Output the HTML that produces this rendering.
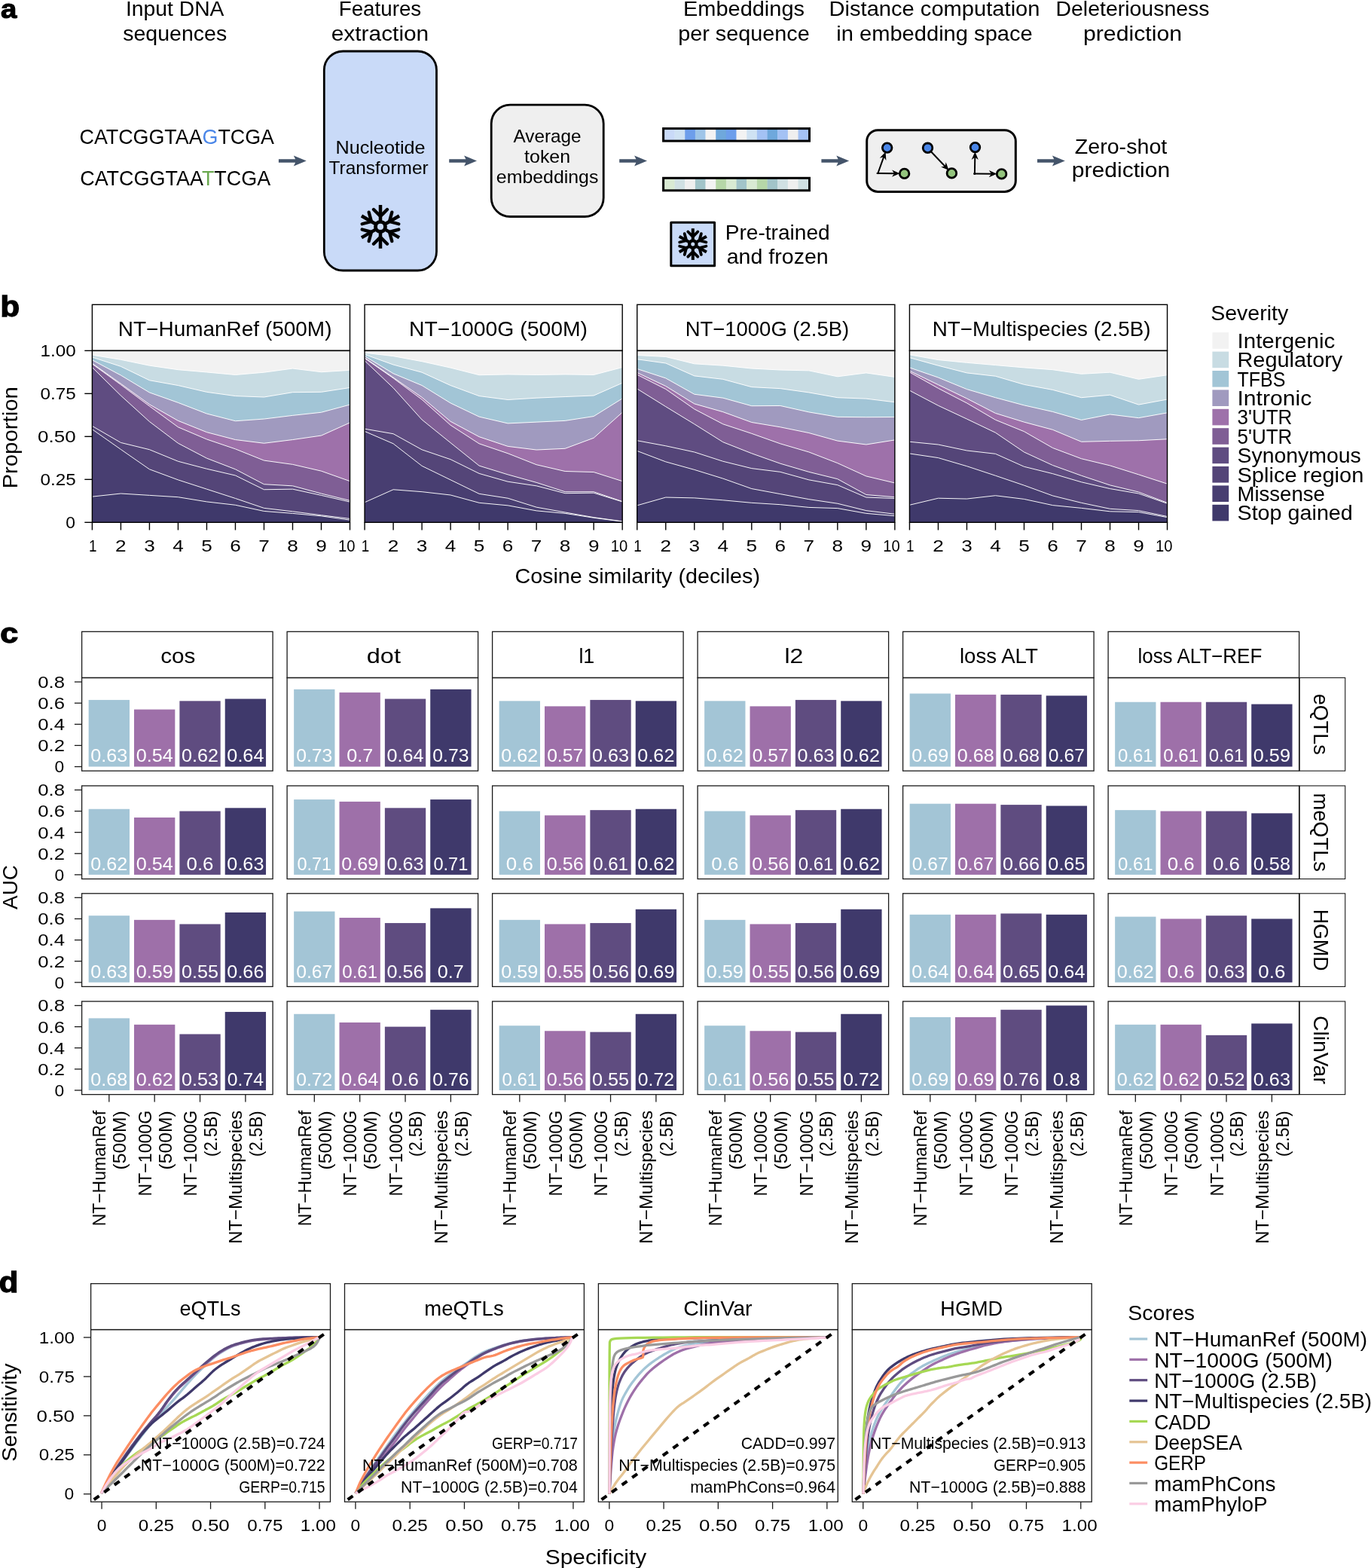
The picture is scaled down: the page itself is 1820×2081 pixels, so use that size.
<!DOCTYPE html>
<html lang="en">
<head>
<meta charset="utf-8">
<title>Figure</title>
<style>
html,body{margin:0;padding:0;background:#fff;}
body{width:1820px;height:2081px;overflow:hidden;}
svg{display:block;font-family:"Liberation Sans",sans-serif;}
text{white-space:pre;}
</style>
</head>
<body>
<svg width="1820" height="2081" viewBox="0 0 1820 2081">
<rect width="1820" height="2081" fill="#fff"/>
<g id="panel-a">
<text x="1.07" y="23.9" font-size="35" textLength="21.28" lengthAdjust="spacingAndGlyphs" font-weight="bold" stroke="#000" stroke-width="1.1" stroke-linejoin="miter">a</text>
<text x="232.2" y="21.4" font-size="27.3" text-anchor="middle" textLength="130.52" lengthAdjust="spacingAndGlyphs">Input DNA</text>
<text x="232.2" y="53.6" font-size="27.3" text-anchor="middle" textLength="138.02" lengthAdjust="spacingAndGlyphs">sequences</text>
<text x="504.5" y="21.4" font-size="27.3" text-anchor="middle" textLength="109.52" lengthAdjust="spacingAndGlyphs">Features</text>
<text x="504.5" y="53.6" font-size="27.3" text-anchor="middle" textLength="129.52" lengthAdjust="spacingAndGlyphs">extraction</text>
<text x="987.5" y="21.4" font-size="27.3" text-anchor="middle" textLength="161.02" lengthAdjust="spacingAndGlyphs">Embeddings</text>
<text x="987.5" y="53.6" font-size="27.3" text-anchor="middle" textLength="174.52" lengthAdjust="spacingAndGlyphs">per sequence</text>
<text x="1240.5" y="21.4" font-size="27.3" text-anchor="middle" textLength="280.02" lengthAdjust="spacingAndGlyphs">Distance computation</text>
<text x="1240.5" y="53.6" font-size="27.3" text-anchor="middle" textLength="260.52" lengthAdjust="spacingAndGlyphs">in embedding space</text>
<text x="1503.5" y="21.4" font-size="27.3" text-anchor="middle" textLength="204.02" lengthAdjust="spacingAndGlyphs">Deleteriousness</text>
<text x="1503.5" y="53.6" font-size="27.3" text-anchor="middle" textLength="131.02" lengthAdjust="spacingAndGlyphs">prediction</text>
<text x="105.5" y="191.3" font-size="28.0" textLength="258.5" lengthAdjust="spacingAndGlyphs">CATCGGTAA<tspan fill="#4A86E8">G</tspan>TCGA</text>
<text x="106.2" y="246.2" font-size="28.0" textLength="253" lengthAdjust="spacingAndGlyphs">CATCGGTAA<tspan fill="#6AA84F">T</tspan>TCGA</text>
<path d="M369.9 211.2 L392.1 211.2 L389.8 206.4 L406.7 213.5 L389.8 220.6 L392.1 215.8 L369.9 215.8Z" fill="#44546A"/>
<path d="M596.2 211.2 L618.4 211.2 L616.1 206.4 L633 213.5 L616.1 220.6 L618.4 215.8 L596.2 215.8Z" fill="#44546A"/>
<path d="M822.2 211.2 L844.4 211.2 L842.1 206.4 L859 213.5 L842.1 220.6 L844.4 215.8 L822.2 215.8Z" fill="#44546A"/>
<path d="M1090.4 211.2 L1112.6 211.2 L1110.3 206.4 L1127.2 213.5 L1110.3 220.6 L1112.6 215.8 L1090.4 215.8Z" fill="#44546A"/>
<path d="M1377 211.2 L1399.2 211.2 L1396.9 206.4 L1413.8 213.5 L1396.9 220.6 L1399.2 215.8 L1377 215.8Z" fill="#44546A"/>
<rect x="430.3" y="68" width="149.2" height="291" fill="#C9DAF8" stroke="#000" stroke-width="2.8" rx="25"/>
<text x="505" y="203.9" font-size="23.6" text-anchor="middle" textLength="119.01" lengthAdjust="spacingAndGlyphs">Nucleotide</text>
<text x="502.6" y="231" font-size="23.6" text-anchor="middle" textLength="132.01" lengthAdjust="spacingAndGlyphs">Transformer</text>
<g transform="translate(505 300.9)" stroke="#000" stroke-width="4.5" fill="none" stroke-linecap="butt"><circle r="6.49" stroke-width="4.86"/><g transform="rotate(0)"><path d="M0 -6.39 V-28.9"/><path stroke-width="4.3" stroke-linecap="round" stroke-linejoin="round" d="M-9.02 -22.92 L0 -13.79 L9.02 -22.92"/></g><g transform="rotate(60)"><path d="M0 -6.39 V-28.9"/><path stroke-width="4.3" stroke-linecap="round" stroke-linejoin="round" d="M-9.02 -22.92 L0 -13.79 L9.02 -22.92"/></g><g transform="rotate(120)"><path d="M0 -6.39 V-28.9"/><path stroke-width="4.3" stroke-linecap="round" stroke-linejoin="round" d="M-9.02 -22.92 L0 -13.79 L9.02 -22.92"/></g><g transform="rotate(180)"><path d="M0 -6.39 V-28.9"/><path stroke-width="4.3" stroke-linecap="round" stroke-linejoin="round" d="M-9.02 -22.92 L0 -13.79 L9.02 -22.92"/></g><g transform="rotate(240)"><path d="M0 -6.39 V-28.9"/><path stroke-width="4.3" stroke-linecap="round" stroke-linejoin="round" d="M-9.02 -22.92 L0 -13.79 L9.02 -22.92"/></g><g transform="rotate(300)"><path d="M0 -6.39 V-28.9"/><path stroke-width="4.3" stroke-linecap="round" stroke-linejoin="round" d="M-9.02 -22.92 L0 -13.79 L9.02 -22.92"/></g></g>
<rect x="652.2" y="139.1" width="149" height="148.4" fill="#EFEFEF" stroke="#000" stroke-width="2.8" rx="25"/>
<text x="726.6" y="189.2" font-size="23.6" text-anchor="middle" textLength="90.01" lengthAdjust="spacingAndGlyphs">Average</text>
<text x="726.6" y="216" font-size="23.6" text-anchor="middle" textLength="61.01" lengthAdjust="spacingAndGlyphs">token</text>
<text x="726.6" y="243.3" font-size="23.6" text-anchor="middle" textLength="135.51" lengthAdjust="spacingAndGlyphs">embeddings</text>
<rect x="881.9" y="170.6" width="13.96" height="16.5" fill="#C9DAF8"/>
<rect x="895.56" y="170.6" width="13.96" height="16.5" fill="#CFE2F3"/>
<rect x="909.23" y="170.6" width="13.96" height="16.5" fill="#6D9EEB"/>
<rect x="922.89" y="170.6" width="13.96" height="16.5" fill="#9FC5E8"/>
<rect x="936.56" y="170.6" width="13.96" height="16.5" fill="#F3F3F3"/>
<rect x="950.22" y="170.6" width="13.96" height="16.5" fill="#6FA8DC"/>
<rect x="963.89" y="170.6" width="13.96" height="16.5" fill="#6D9EEB"/>
<rect x="977.55" y="170.6" width="13.96" height="16.5" fill="#F3F3F3"/>
<rect x="991.21" y="170.6" width="13.96" height="16.5" fill="#CFE2F3"/>
<rect x="1004.88" y="170.6" width="13.96" height="16.5" fill="#A4C2F4"/>
<rect x="1018.54" y="170.6" width="13.96" height="16.5" fill="#6FA8DC"/>
<rect x="1032.21" y="170.6" width="13.96" height="16.5" fill="#A4C2F4"/>
<rect x="1045.87" y="170.6" width="13.96" height="16.5" fill="#EFEFEF"/>
<rect x="1059.54" y="170.6" width="13.96" height="16.5" fill="#A4C2F4"/>
<rect x="880.6" y="170.6" width="193.9" height="16.5" fill="none" stroke="#000" stroke-width="3"/>
<rect x="881.9" y="236.3" width="13.96" height="16.5" fill="#D9EAD3"/>
<rect x="895.56" y="236.3" width="13.96" height="16.5" fill="#D0E0E3"/>
<rect x="909.23" y="236.3" width="13.96" height="16.5" fill="#EFEFEF"/>
<rect x="922.89" y="236.3" width="13.96" height="16.5" fill="#A2C4C9"/>
<rect x="936.56" y="236.3" width="13.96" height="16.5" fill="#F3F3F3"/>
<rect x="950.22" y="236.3" width="13.96" height="16.5" fill="#B6D7A8"/>
<rect x="963.89" y="236.3" width="13.96" height="16.5" fill="#D9EAD3"/>
<rect x="977.55" y="236.3" width="13.96" height="16.5" fill="#A2C4C9"/>
<rect x="991.21" y="236.3" width="13.96" height="16.5" fill="#D9EAD3"/>
<rect x="1004.88" y="236.3" width="13.96" height="16.5" fill="#B6D7A8"/>
<rect x="1018.54" y="236.3" width="13.96" height="16.5" fill="#A2C4C9"/>
<rect x="1032.21" y="236.3" width="13.96" height="16.5" fill="#D0E0E3"/>
<rect x="1045.87" y="236.3" width="13.96" height="16.5" fill="#EFEFEF"/>
<rect x="1059.54" y="236.3" width="13.96" height="16.5" fill="#D0E0E3"/>
<rect x="880.6" y="236.3" width="193.9" height="16.5" fill="none" stroke="#000" stroke-width="3"/>
<rect x="890.8" y="295.3" width="57.8" height="57.4" fill="#C9DAF8" stroke="#000" stroke-width="3" stroke-linejoin="round"/>
<g transform="translate(919.8 324.1)" stroke="#000" stroke-width="4" fill="none" stroke-linecap="butt"><circle r="4.69" stroke-width="4.32"/><g transform="rotate(0)"><path d="M0 -4.62 V-20.9"/><path stroke-width="3.8" stroke-linecap="round" stroke-linejoin="round" d="M-6.53 -16.57 L0 -9.97 L6.53 -16.57"/></g><g transform="rotate(60)"><path d="M0 -4.62 V-20.9"/><path stroke-width="3.8" stroke-linecap="round" stroke-linejoin="round" d="M-6.53 -16.57 L0 -9.97 L6.53 -16.57"/></g><g transform="rotate(120)"><path d="M0 -4.62 V-20.9"/><path stroke-width="3.8" stroke-linecap="round" stroke-linejoin="round" d="M-6.53 -16.57 L0 -9.97 L6.53 -16.57"/></g><g transform="rotate(180)"><path d="M0 -4.62 V-20.9"/><path stroke-width="3.8" stroke-linecap="round" stroke-linejoin="round" d="M-6.53 -16.57 L0 -9.97 L6.53 -16.57"/></g><g transform="rotate(240)"><path d="M0 -4.62 V-20.9"/><path stroke-width="3.8" stroke-linecap="round" stroke-linejoin="round" d="M-6.53 -16.57 L0 -9.97 L6.53 -16.57"/></g><g transform="rotate(300)"><path d="M0 -4.62 V-20.9"/><path stroke-width="3.8" stroke-linecap="round" stroke-linejoin="round" d="M-6.53 -16.57 L0 -9.97 L6.53 -16.57"/></g></g>
<text x="1032.2" y="317.8" font-size="27.3" text-anchor="middle" textLength="139.02" lengthAdjust="spacingAndGlyphs">Pre-trained</text>
<text x="1032.2" y="350.4" font-size="27.3" text-anchor="middle" textLength="135.02" lengthAdjust="spacingAndGlyphs">and frozen</text>
<rect x="1150.7" y="172.8" width="197.6" height="81.6" fill="#EFEFEF" stroke="#000" stroke-width="3" rx="14.5"/>
<line x1="1165.4" y1="230" x2="1173.14" y2="208.37" stroke="#000" stroke-width="2" stroke-linecap="square"/><path d="M1176.39 212.94 L1175.6 201.5 L1167.73 209.84 L1173.14 208.37Z" fill="#000"/>
<line x1="1164.7" y1="230" x2="1187.2" y2="230.23" stroke="#000" stroke-width="2" stroke-linecap="square"/><path d="M1183.95 234.79 L1194.5 230.3 L1184.05 225.59 L1187.2 230.23Z" fill="#000"/>
<line x1="1236.2" y1="201.5" x2="1254.56" y2="220.72" stroke="#000" stroke-width="2" stroke-linecap="square"/><path d="M1249.02 221.58 L1259.6 226 L1255.67 215.23 L1254.56 220.72Z" fill="#000"/>
<line x1="1293.9" y1="231" x2="1294.28" y2="208.8" stroke="#000" stroke-width="2" stroke-linecap="square"/><path d="M1298.82 212.08 L1294.4 201.5 L1289.62 211.92 L1294.28 208.8Z" fill="#000"/>
<line x1="1293.2" y1="230.4" x2="1316" y2="230.7" stroke="#000" stroke-width="2" stroke-linecap="square"/><path d="M1312.74 235.26 L1323.3 230.8 L1312.86 226.06 L1316 230.7Z" fill="#000"/>
<circle cx="1177.7" cy="196.1" r="6.3" fill="#4A86E8" stroke="#000" stroke-width="2.8"/>
<circle cx="1200.6" cy="230.4" r="6.3" fill="#93C47D" stroke="#000" stroke-width="2.8"/>
<circle cx="1231.5" cy="196.3" r="6.3" fill="#4A86E8" stroke="#000" stroke-width="2.8"/>
<circle cx="1263.4" cy="229.9" r="6.3" fill="#93C47D" stroke="#000" stroke-width="2.8"/>
<circle cx="1294.5" cy="195.6" r="6.3" fill="#4A86E8" stroke="#000" stroke-width="2.8"/>
<circle cx="1329.6" cy="230.9" r="6.3" fill="#93C47D" stroke="#000" stroke-width="2.8"/>
<text x="1488" y="203.8" font-size="27.3" text-anchor="middle" textLength="122.52" lengthAdjust="spacingAndGlyphs">Zero-shot</text>
<text x="1488" y="235.4" font-size="27.3" text-anchor="middle" textLength="130.52" lengthAdjust="spacingAndGlyphs">prediction</text>
</g>
<g id="panel-b">
<text x="0.6" y="420.2" font-size="38.2" textLength="25.55" lengthAdjust="spacingAndGlyphs" font-weight="bold" stroke="#000" stroke-width="1.3" stroke-linejoin="miter">b</text>
<rect x="122.4" y="465.4" width="342.1" height="227.9" fill="#F2F2F2"/>
<path d="M122.4 471.13 L160.41 477.34 L198.42 485.18 L236.43 490.69 L274.44 493.97 L312.46 497.48 L350.47 494.2 L388.48 489.05 L426.49 493.73 L464.5 491.39 L464.5 693.3 L122.4 693.3Z" fill="#C8DCE3"/>
<path d="M122.4 474.06 L160.41 486.35 L198.42 504.74 L236.43 511.54 L274.44 520.32 L312.46 525.59 L350.47 527 L388.48 520.67 L426.49 520.32 L464.5 514.47 L464.5 693.3 L122.4 693.3Z" fill="#A2C5D6"/>
<path d="M122.4 477.8 L160.41 498.07 L198.42 520.91 L236.43 534.38 L274.44 549.02 L312.46 558.74 L350.47 556.05 L388.48 551.36 L426.49 547.26 L464.5 537.07 L464.5 693.3 L122.4 693.3Z" fill="#A09ABF"/>
<path d="M122.4 482.25 L160.41 509.19 L198.42 536.72 L236.43 558.39 L274.44 573.62 L312.46 583.57 L350.47 588.26 L388.48 583.57 L426.49 578.07 L464.5 560.97 L464.5 693.3 L122.4 693.3Z" fill="#9E71AA"/>
<path d="M122.4 483.07 L160.41 510.6 L198.42 539.06 L236.43 566.82 L274.44 582.99 L312.46 595.87 L350.47 611.1 L388.48 616.37 L426.49 625.15 L464.5 638.62 L464.5 693.3 L122.4 693.3Z" fill="#7F5E95"/>
<path d="M122.4 487.53 L160.41 525.01 L198.42 559.56 L236.43 588.26 L274.44 608.17 L312.46 622.81 L350.47 642.72 L388.48 644.83 L426.49 655.02 L464.5 664.39 L464.5 693.3 L122.4 693.3Z" fill="#5F4C81"/>
<path d="M122.4 565.42 L160.41 587.44 L198.42 596.69 L236.43 612.27 L274.44 622.23 L312.46 631.01 L350.47 649.75 L388.48 649.17 L426.49 657.36 L464.5 666.15 L464.5 693.3 L122.4 693.3Z" fill="#544578"/>
<path d="M122.4 569.75 L160.41 596.46 L198.42 622.81 L236.43 636.87 L274.44 649.17 L312.46 661.46 L350.47 674.35 L388.48 678.8 L426.49 683.72 L464.5 688.4 L464.5 693.3 L122.4 693.3Z" fill="#483E71"/>
<path d="M122.4 659.12 L160.41 655.02 L198.42 657.36 L236.43 659.71 L274.44 665.92 L312.46 670.25 L350.47 678.45 L388.48 681.38 L426.49 684.89 L464.5 690.16 L464.5 693.3 L122.4 693.3Z" fill="#3F396B"/>
<path d="M122.4 471.13 L160.41 477.34 L198.42 485.18 L236.43 490.69 L274.44 493.97 L312.46 497.48 L350.47 494.2 L388.48 489.05 L426.49 493.73 L464.5 491.39" fill="none" stroke="#fff" stroke-width="1" stroke-opacity="0.95" stroke-linejoin="round"/>
<path d="M122.4 474.06 L160.41 486.35 L198.42 504.74 L236.43 511.54 L274.44 520.32 L312.46 525.59 L350.47 527 L388.48 520.67 L426.49 520.32 L464.5 514.47" fill="none" stroke="#fff" stroke-width="1" stroke-opacity="0.95" stroke-linejoin="round"/>
<path d="M122.4 477.8 L160.41 498.07 L198.42 520.91 L236.43 534.38 L274.44 549.02 L312.46 558.74 L350.47 556.05 L388.48 551.36 L426.49 547.26 L464.5 537.07" fill="none" stroke="#fff" stroke-width="1" stroke-opacity="0.95" stroke-linejoin="round"/>
<path d="M122.4 482.25 L160.41 509.19 L198.42 536.72 L236.43 558.39 L274.44 573.62 L312.46 583.57 L350.47 588.26 L388.48 583.57 L426.49 578.07 L464.5 560.97" fill="none" stroke="#fff" stroke-width="1" stroke-opacity="0.95" stroke-linejoin="round"/>
<path d="M122.4 483.07 L160.41 510.6 L198.42 539.06 L236.43 566.82 L274.44 582.99 L312.46 595.87 L350.47 611.1 L388.48 616.37 L426.49 625.15 L464.5 638.62" fill="none" stroke="#fff" stroke-width="1" stroke-opacity="0.95" stroke-linejoin="round"/>
<path d="M122.4 487.53 L160.41 525.01 L198.42 559.56 L236.43 588.26 L274.44 608.17 L312.46 622.81 L350.47 642.72 L388.48 644.83 L426.49 655.02 L464.5 664.39" fill="none" stroke="#fff" stroke-width="1" stroke-opacity="0.95" stroke-linejoin="round"/>
<path d="M122.4 565.42 L160.41 587.44 L198.42 596.69 L236.43 612.27 L274.44 622.23 L312.46 631.01 L350.47 649.75 L388.48 649.17 L426.49 657.36 L464.5 666.15" fill="none" stroke="#fff" stroke-width="1" stroke-opacity="0.95" stroke-linejoin="round"/>
<path d="M122.4 569.75 L160.41 596.46 L198.42 622.81 L236.43 636.87 L274.44 649.17 L312.46 661.46 L350.47 674.35 L388.48 678.8 L426.49 683.72 L464.5 688.4" fill="none" stroke="#fff" stroke-width="1" stroke-opacity="0.95" stroke-linejoin="round"/>
<path d="M122.4 659.12 L160.41 655.02 L198.42 657.36 L236.43 659.71 L274.44 665.92 L312.46 670.25 L350.47 678.45 L388.48 681.38 L426.49 684.89 L464.5 690.16" fill="none" stroke="#fff" stroke-width="1" stroke-opacity="0.95" stroke-linejoin="round"/>
<rect x="122.4" y="404.3" width="342.1" height="61.1" fill="#fff" stroke="#000" stroke-width="1.4"/>
<rect x="122.4" y="465.4" width="342.1" height="227.9" fill="none" stroke="#000" stroke-width="1.4"/>
<text x="298.65" y="446" font-size="27.9" text-anchor="middle" textLength="283.67" lengthAdjust="spacingAndGlyphs">NT−HumanRef (500M)</text>
<line x1="122.4" y1="693.3" x2="122.4" y2="703.5" stroke="#000" stroke-width="1.4"/>
<text x="123.2" y="732" font-size="22.8" text-anchor="middle" textLength="10.5" lengthAdjust="spacingAndGlyphs">1</text>
<line x1="160.41" y1="693.3" x2="160.41" y2="703.5" stroke="#000" stroke-width="1.4"/>
<text x="160.41" y="732" font-size="22.8" text-anchor="middle" textLength="14.54" lengthAdjust="spacingAndGlyphs">2</text>
<line x1="198.42" y1="693.3" x2="198.42" y2="703.5" stroke="#000" stroke-width="1.4"/>
<text x="198.42" y="732" font-size="22.8" text-anchor="middle" textLength="14.54" lengthAdjust="spacingAndGlyphs">3</text>
<line x1="236.43" y1="693.3" x2="236.43" y2="703.5" stroke="#000" stroke-width="1.4"/>
<text x="236.43" y="732" font-size="22.8" text-anchor="middle" textLength="14.54" lengthAdjust="spacingAndGlyphs">4</text>
<line x1="274.44" y1="693.3" x2="274.44" y2="703.5" stroke="#000" stroke-width="1.4"/>
<text x="274.44" y="732" font-size="22.8" text-anchor="middle" textLength="14.54" lengthAdjust="spacingAndGlyphs">5</text>
<line x1="312.46" y1="693.3" x2="312.46" y2="703.5" stroke="#000" stroke-width="1.4"/>
<text x="312.46" y="732" font-size="22.8" text-anchor="middle" textLength="14.54" lengthAdjust="spacingAndGlyphs">6</text>
<line x1="350.47" y1="693.3" x2="350.47" y2="703.5" stroke="#000" stroke-width="1.4"/>
<text x="350.47" y="732" font-size="22.8" text-anchor="middle" textLength="14.54" lengthAdjust="spacingAndGlyphs">7</text>
<line x1="388.48" y1="693.3" x2="388.48" y2="703.5" stroke="#000" stroke-width="1.4"/>
<text x="388.48" y="732" font-size="22.8" text-anchor="middle" textLength="14.54" lengthAdjust="spacingAndGlyphs">8</text>
<line x1="426.49" y1="693.3" x2="426.49" y2="703.5" stroke="#000" stroke-width="1.4"/>
<text x="426.49" y="732" font-size="22.8" text-anchor="middle" textLength="14.54" lengthAdjust="spacingAndGlyphs">9</text>
<line x1="464.5" y1="693.3" x2="464.5" y2="703.5" stroke="#000" stroke-width="1.4"/>
<text x="471.5" y="732" font-size="22.8" text-anchor="end" textLength="22.5" lengthAdjust="spacingAndGlyphs">10</text>
<rect x="484.08" y="465.4" width="342.1" height="227.9" fill="#F2F2F2"/>
<path d="M484.08 468.2 L522.09 472.65 L560.1 479.68 L598.11 488.11 L636.12 497.72 L674.14 496.9 L712.15 497.48 L750.16 496.9 L788.17 497.48 L826.18 487.53 L826.18 693.3 L484.08 693.3Z" fill="#C8DCE3"/>
<path d="M484.08 470.31 L522.09 484.01 L560.1 494.2 L598.11 511.54 L636.12 525.59 L674.14 530.51 L712.15 528.17 L750.16 526.53 L788.17 525.01 L826.18 508.26 L826.18 693.3 L484.08 693.3Z" fill="#A2C5D6"/>
<path d="M484.08 472.65 L522.09 495.72 L560.1 511.54 L598.11 534.96 L636.12 553.12 L674.14 561.9 L712.15 560.15 L750.16 558.39 L788.17 552.53 L826.18 528.87 L826.18 693.3 L484.08 693.3Z" fill="#A09ABF"/>
<path d="M484.08 474.99 L522.09 501 L560.1 527.35 L598.11 559.33 L636.12 579.71 L674.14 592.36 L712.15 597.04 L750.16 595.29 L788.17 581.23 L826.18 547.26 L826.18 693.3 L484.08 693.3Z" fill="#9E71AA"/>
<path d="M484.08 475.46 L522.09 501.93 L560.1 530.28 L598.11 564.25 L636.12 588.84 L674.14 601.73 L712.15 616.72 L750.16 625.51 L788.17 626.56 L826.18 638.62 L826.18 693.3 L484.08 693.3Z" fill="#7F5E95"/>
<path d="M484.08 478.74 L522.09 514.82 L560.1 556.98 L598.11 587.67 L636.12 618.13 L674.14 629.84 L712.15 640.38 L750.16 652.68 L788.17 652.68 L826.18 665.56 L826.18 693.3 L484.08 693.3Z" fill="#5F4C81"/>
<path d="M484.08 569.17 L522.09 575.72 L560.1 596.81 L598.11 609.69 L636.12 628.43 L674.14 639.21 L712.15 644.83 L750.16 654.67 L788.17 654.2 L826.18 665.92 L826.18 693.3 L484.08 693.3Z" fill="#544578"/>
<path d="M484.08 572.45 L522.09 588.84 L560.1 618.36 L598.11 636.87 L636.12 655.37 L674.14 661.23 L712.15 673.18 L750.16 679.97 L788.17 686.65 L826.18 691.92 L826.18 693.3 L484.08 693.3Z" fill="#483E71"/>
<path d="M484.08 666.73 L522.09 649.75 L560.1 652.68 L598.11 657.01 L636.12 667.32 L674.14 670.83 L712.15 677.86 L750.16 681.38 L788.17 687.23 L826.18 692.15 L826.18 693.3 L484.08 693.3Z" fill="#3F396B"/>
<path d="M484.08 468.2 L522.09 472.65 L560.1 479.68 L598.11 488.11 L636.12 497.72 L674.14 496.9 L712.15 497.48 L750.16 496.9 L788.17 497.48 L826.18 487.53" fill="none" stroke="#fff" stroke-width="1" stroke-opacity="0.95" stroke-linejoin="round"/>
<path d="M484.08 470.31 L522.09 484.01 L560.1 494.2 L598.11 511.54 L636.12 525.59 L674.14 530.51 L712.15 528.17 L750.16 526.53 L788.17 525.01 L826.18 508.26" fill="none" stroke="#fff" stroke-width="1" stroke-opacity="0.95" stroke-linejoin="round"/>
<path d="M484.08 472.65 L522.09 495.72 L560.1 511.54 L598.11 534.96 L636.12 553.12 L674.14 561.9 L712.15 560.15 L750.16 558.39 L788.17 552.53 L826.18 528.87" fill="none" stroke="#fff" stroke-width="1" stroke-opacity="0.95" stroke-linejoin="round"/>
<path d="M484.08 474.99 L522.09 501 L560.1 527.35 L598.11 559.33 L636.12 579.71 L674.14 592.36 L712.15 597.04 L750.16 595.29 L788.17 581.23 L826.18 547.26" fill="none" stroke="#fff" stroke-width="1" stroke-opacity="0.95" stroke-linejoin="round"/>
<path d="M484.08 475.46 L522.09 501.93 L560.1 530.28 L598.11 564.25 L636.12 588.84 L674.14 601.73 L712.15 616.72 L750.16 625.51 L788.17 626.56 L826.18 638.62" fill="none" stroke="#fff" stroke-width="1" stroke-opacity="0.95" stroke-linejoin="round"/>
<path d="M484.08 478.74 L522.09 514.82 L560.1 556.98 L598.11 587.67 L636.12 618.13 L674.14 629.84 L712.15 640.38 L750.16 652.68 L788.17 652.68 L826.18 665.56" fill="none" stroke="#fff" stroke-width="1" stroke-opacity="0.95" stroke-linejoin="round"/>
<path d="M484.08 569.17 L522.09 575.72 L560.1 596.81 L598.11 609.69 L636.12 628.43 L674.14 639.21 L712.15 644.83 L750.16 654.67 L788.17 654.2 L826.18 665.92" fill="none" stroke="#fff" stroke-width="1" stroke-opacity="0.95" stroke-linejoin="round"/>
<path d="M484.08 572.45 L522.09 588.84 L560.1 618.36 L598.11 636.87 L636.12 655.37 L674.14 661.23 L712.15 673.18 L750.16 679.97 L788.17 686.65 L826.18 691.92" fill="none" stroke="#fff" stroke-width="1" stroke-opacity="0.95" stroke-linejoin="round"/>
<path d="M484.08 666.73 L522.09 649.75 L560.1 652.68 L598.11 657.01 L636.12 667.32 L674.14 670.83 L712.15 677.86 L750.16 681.38 L788.17 687.23 L826.18 692.15" fill="none" stroke="#fff" stroke-width="1" stroke-opacity="0.95" stroke-linejoin="round"/>
<rect x="484.08" y="404.3" width="342.1" height="61.1" fill="#fff" stroke="#000" stroke-width="1.4"/>
<rect x="484.08" y="465.4" width="342.1" height="227.9" fill="none" stroke="#000" stroke-width="1.4"/>
<text x="661.53" y="446" font-size="27.9" text-anchor="middle" textLength="236.87" lengthAdjust="spacingAndGlyphs">NT−1000G (500M)</text>
<line x1="484.08" y1="693.3" x2="484.08" y2="703.5" stroke="#000" stroke-width="1.4"/>
<text x="484.88" y="732" font-size="22.8" text-anchor="middle" textLength="10.5" lengthAdjust="spacingAndGlyphs">1</text>
<line x1="522.09" y1="693.3" x2="522.09" y2="703.5" stroke="#000" stroke-width="1.4"/>
<text x="522.09" y="732" font-size="22.8" text-anchor="middle" textLength="14.54" lengthAdjust="spacingAndGlyphs">2</text>
<line x1="560.1" y1="693.3" x2="560.1" y2="703.5" stroke="#000" stroke-width="1.4"/>
<text x="560.1" y="732" font-size="22.8" text-anchor="middle" textLength="14.54" lengthAdjust="spacingAndGlyphs">3</text>
<line x1="598.11" y1="693.3" x2="598.11" y2="703.5" stroke="#000" stroke-width="1.4"/>
<text x="598.11" y="732" font-size="22.8" text-anchor="middle" textLength="14.54" lengthAdjust="spacingAndGlyphs">4</text>
<line x1="636.12" y1="693.3" x2="636.12" y2="703.5" stroke="#000" stroke-width="1.4"/>
<text x="636.12" y="732" font-size="22.8" text-anchor="middle" textLength="14.54" lengthAdjust="spacingAndGlyphs">5</text>
<line x1="674.14" y1="693.3" x2="674.14" y2="703.5" stroke="#000" stroke-width="1.4"/>
<text x="674.14" y="732" font-size="22.8" text-anchor="middle" textLength="14.54" lengthAdjust="spacingAndGlyphs">6</text>
<line x1="712.15" y1="693.3" x2="712.15" y2="703.5" stroke="#000" stroke-width="1.4"/>
<text x="712.15" y="732" font-size="22.8" text-anchor="middle" textLength="14.54" lengthAdjust="spacingAndGlyphs">7</text>
<line x1="750.16" y1="693.3" x2="750.16" y2="703.5" stroke="#000" stroke-width="1.4"/>
<text x="750.16" y="732" font-size="22.8" text-anchor="middle" textLength="14.54" lengthAdjust="spacingAndGlyphs">8</text>
<line x1="788.17" y1="693.3" x2="788.17" y2="703.5" stroke="#000" stroke-width="1.4"/>
<text x="788.17" y="732" font-size="22.8" text-anchor="middle" textLength="14.54" lengthAdjust="spacingAndGlyphs">9</text>
<line x1="826.18" y1="693.3" x2="826.18" y2="703.5" stroke="#000" stroke-width="1.4"/>
<text x="833.18" y="732" font-size="22.8" text-anchor="end" textLength="22.5" lengthAdjust="spacingAndGlyphs">10</text>
<rect x="845.76" y="465.4" width="342.1" height="227.9" fill="#F2F2F2"/>
<path d="M845.76 471.48 L883.77 473.47 L921.78 482.84 L959.79 485.18 L997.8 489.05 L1035.82 491.04 L1073.83 491.86 L1111.84 499.82 L1149.85 494.9 L1187.86 500.41 L1187.86 693.3 L845.76 693.3Z" fill="#C8DCE3"/>
<path d="M845.76 476.75 L883.77 482.02 L921.78 498.89 L959.79 503.34 L997.8 513.65 L1035.82 515.64 L1073.83 520.91 L1111.84 527.7 L1149.85 529.11 L1187.86 533.79 L1187.86 693.3 L845.76 693.3Z" fill="#A2C5D6"/>
<path d="M845.76 489.52 L883.77 501.93 L921.78 523.25 L959.79 528.17 L997.8 538.71 L1035.82 538.48 L1073.83 546.91 L1111.84 553.35 L1149.85 553.7 L1187.86 553.47 L1187.86 693.3 L845.76 693.3Z" fill="#A09ABF"/>
<path d="M845.76 494.55 L883.77 512.47 L921.78 535.9 L959.79 546.68 L997.8 560.5 L1035.82 566.82 L1073.83 574.55 L1111.84 585.1 L1149.85 590.01 L1187.86 583.92 L1187.86 693.3 L845.76 693.3Z" fill="#9E71AA"/>
<path d="M845.76 497.25 L883.77 516.46 L921.78 542.93 L959.79 562.84 L997.8 575.37 L1035.82 588.84 L1073.83 599.97 L1111.84 614.61 L1149.85 631.95 L1187.86 640.97 L1187.86 693.3 L845.76 693.3Z" fill="#7F5E95"/>
<path d="M845.76 515.99 L883.77 539.65 L921.78 562.84 L959.79 586.73 L997.8 601.73 L1035.82 615.2 L1073.83 626.33 L1111.84 635.7 L1149.85 656.54 L1187.86 659.71 L1187.86 693.3 L845.76 693.3Z" fill="#5F4C81"/>
<path d="M845.76 584.74 L883.77 591.77 L921.78 599.97 L959.79 612.27 L997.8 621.64 L1035.82 626.33 L1073.83 636.87 L1111.84 643.66 L1149.85 660.06 L1187.86 661.46 L1187.86 693.3 L845.76 693.3Z" fill="#544578"/>
<path d="M845.76 598.45 L883.77 612.86 L921.78 623.4 L959.79 635.11 L997.8 648.58 L1035.82 655.61 L1073.83 662.64 L1111.84 668.26 L1149.85 677.63 L1187.86 682.31 L1187.86 693.3 L845.76 693.3Z" fill="#483E71"/>
<path d="M845.76 670.83 L883.77 660.06 L921.78 660.88 L959.79 663.81 L997.8 667.32 L1035.82 669.66 L1073.83 673.41 L1111.84 674.58 L1149.85 681.38 L1187.86 684.66 L1187.86 693.3 L845.76 693.3Z" fill="#3F396B"/>
<path d="M845.76 471.48 L883.77 473.47 L921.78 482.84 L959.79 485.18 L997.8 489.05 L1035.82 491.04 L1073.83 491.86 L1111.84 499.82 L1149.85 494.9 L1187.86 500.41" fill="none" stroke="#fff" stroke-width="1" stroke-opacity="0.95" stroke-linejoin="round"/>
<path d="M845.76 476.75 L883.77 482.02 L921.78 498.89 L959.79 503.34 L997.8 513.65 L1035.82 515.64 L1073.83 520.91 L1111.84 527.7 L1149.85 529.11 L1187.86 533.79" fill="none" stroke="#fff" stroke-width="1" stroke-opacity="0.95" stroke-linejoin="round"/>
<path d="M845.76 489.52 L883.77 501.93 L921.78 523.25 L959.79 528.17 L997.8 538.71 L1035.82 538.48 L1073.83 546.91 L1111.84 553.35 L1149.85 553.7 L1187.86 553.47" fill="none" stroke="#fff" stroke-width="1" stroke-opacity="0.95" stroke-linejoin="round"/>
<path d="M845.76 494.55 L883.77 512.47 L921.78 535.9 L959.79 546.68 L997.8 560.5 L1035.82 566.82 L1073.83 574.55 L1111.84 585.1 L1149.85 590.01 L1187.86 583.92" fill="none" stroke="#fff" stroke-width="1" stroke-opacity="0.95" stroke-linejoin="round"/>
<path d="M845.76 497.25 L883.77 516.46 L921.78 542.93 L959.79 562.84 L997.8 575.37 L1035.82 588.84 L1073.83 599.97 L1111.84 614.61 L1149.85 631.95 L1187.86 640.97" fill="none" stroke="#fff" stroke-width="1" stroke-opacity="0.95" stroke-linejoin="round"/>
<path d="M845.76 515.99 L883.77 539.65 L921.78 562.84 L959.79 586.73 L997.8 601.73 L1035.82 615.2 L1073.83 626.33 L1111.84 635.7 L1149.85 656.54 L1187.86 659.71" fill="none" stroke="#fff" stroke-width="1" stroke-opacity="0.95" stroke-linejoin="round"/>
<path d="M845.76 584.74 L883.77 591.77 L921.78 599.97 L959.79 612.27 L997.8 621.64 L1035.82 626.33 L1073.83 636.87 L1111.84 643.66 L1149.85 660.06 L1187.86 661.46" fill="none" stroke="#fff" stroke-width="1" stroke-opacity="0.95" stroke-linejoin="round"/>
<path d="M845.76 598.45 L883.77 612.86 L921.78 623.4 L959.79 635.11 L997.8 648.58 L1035.82 655.61 L1073.83 662.64 L1111.84 668.26 L1149.85 677.63 L1187.86 682.31" fill="none" stroke="#fff" stroke-width="1" stroke-opacity="0.95" stroke-linejoin="round"/>
<path d="M845.76 670.83 L883.77 660.06 L921.78 660.88 L959.79 663.81 L997.8 667.32 L1035.82 669.66 L1073.83 673.41 L1111.84 674.58 L1149.85 681.38 L1187.86 684.66" fill="none" stroke="#fff" stroke-width="1" stroke-opacity="0.95" stroke-linejoin="round"/>
<rect x="845.76" y="404.3" width="342.1" height="61.1" fill="#fff" stroke="#000" stroke-width="1.4"/>
<rect x="845.76" y="465.4" width="342.1" height="227.9" fill="none" stroke="#000" stroke-width="1.4"/>
<text x="1018.41" y="446" font-size="27.9" text-anchor="middle" textLength="217.37" lengthAdjust="spacingAndGlyphs">NT−1000G (2.5B)</text>
<line x1="845.76" y1="693.3" x2="845.76" y2="703.5" stroke="#000" stroke-width="1.4"/>
<text x="846.56" y="732" font-size="22.8" text-anchor="middle" textLength="10.5" lengthAdjust="spacingAndGlyphs">1</text>
<line x1="883.77" y1="693.3" x2="883.77" y2="703.5" stroke="#000" stroke-width="1.4"/>
<text x="883.77" y="732" font-size="22.8" text-anchor="middle" textLength="14.54" lengthAdjust="spacingAndGlyphs">2</text>
<line x1="921.78" y1="693.3" x2="921.78" y2="703.5" stroke="#000" stroke-width="1.4"/>
<text x="921.78" y="732" font-size="22.8" text-anchor="middle" textLength="14.54" lengthAdjust="spacingAndGlyphs">3</text>
<line x1="959.79" y1="693.3" x2="959.79" y2="703.5" stroke="#000" stroke-width="1.4"/>
<text x="959.79" y="732" font-size="22.8" text-anchor="middle" textLength="14.54" lengthAdjust="spacingAndGlyphs">4</text>
<line x1="997.8" y1="693.3" x2="997.8" y2="703.5" stroke="#000" stroke-width="1.4"/>
<text x="997.8" y="732" font-size="22.8" text-anchor="middle" textLength="14.54" lengthAdjust="spacingAndGlyphs">5</text>
<line x1="1035.82" y1="693.3" x2="1035.82" y2="703.5" stroke="#000" stroke-width="1.4"/>
<text x="1035.82" y="732" font-size="22.8" text-anchor="middle" textLength="14.54" lengthAdjust="spacingAndGlyphs">6</text>
<line x1="1073.83" y1="693.3" x2="1073.83" y2="703.5" stroke="#000" stroke-width="1.4"/>
<text x="1073.83" y="732" font-size="22.8" text-anchor="middle" textLength="14.54" lengthAdjust="spacingAndGlyphs">7</text>
<line x1="1111.84" y1="693.3" x2="1111.84" y2="703.5" stroke="#000" stroke-width="1.4"/>
<text x="1111.84" y="732" font-size="22.8" text-anchor="middle" textLength="14.54" lengthAdjust="spacingAndGlyphs">8</text>
<line x1="1149.85" y1="693.3" x2="1149.85" y2="703.5" stroke="#000" stroke-width="1.4"/>
<text x="1149.85" y="732" font-size="22.8" text-anchor="middle" textLength="14.54" lengthAdjust="spacingAndGlyphs">9</text>
<line x1="1187.86" y1="693.3" x2="1187.86" y2="703.5" stroke="#000" stroke-width="1.4"/>
<text x="1194.86" y="732" font-size="22.8" text-anchor="end" textLength="22.5" lengthAdjust="spacingAndGlyphs">10</text>
<rect x="1207.44" y="465.4" width="342.1" height="227.9" fill="#F2F2F2"/>
<path d="M1207.44 470.78 L1245.45 477.57 L1283.46 481.32 L1321.47 484.6 L1359.48 487.88 L1397.5 490.69 L1435.51 496.31 L1473.52 494.2 L1511.53 503.34 L1549.54 497.72 L1549.54 693.3 L1207.44 693.3Z" fill="#C8DCE3"/>
<path d="M1207.44 474.64 L1245.45 485.18 L1283.46 494.9 L1321.47 499.24 L1359.48 510.37 L1397.5 517.39 L1435.51 527.7 L1473.52 524.19 L1511.53 537.07 L1549.54 530.04 L1549.54 693.3 L1207.44 693.3Z" fill="#A2C5D6"/>
<path d="M1207.44 487.88 L1245.45 501 L1283.46 516.57 L1321.47 527.7 L1359.48 537.89 L1397.5 546.44 L1435.51 557.45 L1473.52 549.96 L1511.53 554.64 L1549.54 547.85 L1549.54 693.3 L1207.44 693.3Z" fill="#A09ABF"/>
<path d="M1207.44 492.21 L1245.45 510.6 L1283.46 528.87 L1321.47 548.43 L1359.48 560.15 L1397.5 570.34 L1435.51 586.27 L1473.52 585.33 L1511.53 584.74 L1549.54 582.75 L1549.54 693.3 L1207.44 693.3Z" fill="#9E71AA"/>
<path d="M1207.44 493.97 L1245.45 515.29 L1283.46 534.96 L1321.47 557.22 L1359.48 572.68 L1397.5 594.47 L1435.51 608.76 L1473.52 617.89 L1511.53 629.84 L1549.54 642.14 L1549.54 693.3 L1207.44 693.3Z" fill="#7F5E95"/>
<path d="M1207.44 518.21 L1245.45 538.24 L1283.46 556.05 L1321.47 574.2 L1359.48 599.97 L1397.5 617.54 L1435.51 631.24 L1473.52 643.89 L1511.53 653.03 L1549.54 667.32 L1549.54 693.3 L1207.44 693.3Z" fill="#5F4C81"/>
<path d="M1207.44 586.27 L1245.45 590.01 L1283.46 597.98 L1321.47 602.31 L1359.48 619.3 L1397.5 628.67 L1435.51 639.8 L1473.52 648.58 L1511.53 655.02 L1549.54 668.26 L1549.54 693.3 L1207.44 693.3Z" fill="#544578"/>
<path d="M1207.44 601.96 L1245.45 607.58 L1283.46 618.71 L1321.47 631.24 L1359.48 644.13 L1397.5 657.95 L1435.51 667.32 L1473.52 675.29 L1511.53 677.63 L1549.54 685.48 L1549.54 693.3 L1207.44 693.3Z" fill="#483E71"/>
<path d="M1207.44 670.25 L1245.45 661.23 L1283.46 662.05 L1321.47 657.72 L1359.48 662.4 L1397.5 670.6 L1435.51 674.35 L1473.52 678.8 L1511.53 679.62 L1549.54 686.65 L1549.54 693.3 L1207.44 693.3Z" fill="#3F396B"/>
<path d="M1207.44 470.78 L1245.45 477.57 L1283.46 481.32 L1321.47 484.6 L1359.48 487.88 L1397.5 490.69 L1435.51 496.31 L1473.52 494.2 L1511.53 503.34 L1549.54 497.72" fill="none" stroke="#fff" stroke-width="1" stroke-opacity="0.95" stroke-linejoin="round"/>
<path d="M1207.44 474.64 L1245.45 485.18 L1283.46 494.9 L1321.47 499.24 L1359.48 510.37 L1397.5 517.39 L1435.51 527.7 L1473.52 524.19 L1511.53 537.07 L1549.54 530.04" fill="none" stroke="#fff" stroke-width="1" stroke-opacity="0.95" stroke-linejoin="round"/>
<path d="M1207.44 487.88 L1245.45 501 L1283.46 516.57 L1321.47 527.7 L1359.48 537.89 L1397.5 546.44 L1435.51 557.45 L1473.52 549.96 L1511.53 554.64 L1549.54 547.85" fill="none" stroke="#fff" stroke-width="1" stroke-opacity="0.95" stroke-linejoin="round"/>
<path d="M1207.44 492.21 L1245.45 510.6 L1283.46 528.87 L1321.47 548.43 L1359.48 560.15 L1397.5 570.34 L1435.51 586.27 L1473.52 585.33 L1511.53 584.74 L1549.54 582.75" fill="none" stroke="#fff" stroke-width="1" stroke-opacity="0.95" stroke-linejoin="round"/>
<path d="M1207.44 493.97 L1245.45 515.29 L1283.46 534.96 L1321.47 557.22 L1359.48 572.68 L1397.5 594.47 L1435.51 608.76 L1473.52 617.89 L1511.53 629.84 L1549.54 642.14" fill="none" stroke="#fff" stroke-width="1" stroke-opacity="0.95" stroke-linejoin="round"/>
<path d="M1207.44 518.21 L1245.45 538.24 L1283.46 556.05 L1321.47 574.2 L1359.48 599.97 L1397.5 617.54 L1435.51 631.24 L1473.52 643.89 L1511.53 653.03 L1549.54 667.32" fill="none" stroke="#fff" stroke-width="1" stroke-opacity="0.95" stroke-linejoin="round"/>
<path d="M1207.44 586.27 L1245.45 590.01 L1283.46 597.98 L1321.47 602.31 L1359.48 619.3 L1397.5 628.67 L1435.51 639.8 L1473.52 648.58 L1511.53 655.02 L1549.54 668.26" fill="none" stroke="#fff" stroke-width="1" stroke-opacity="0.95" stroke-linejoin="round"/>
<path d="M1207.44 601.96 L1245.45 607.58 L1283.46 618.71 L1321.47 631.24 L1359.48 644.13 L1397.5 657.95 L1435.51 667.32 L1473.52 675.29 L1511.53 677.63 L1549.54 685.48" fill="none" stroke="#fff" stroke-width="1" stroke-opacity="0.95" stroke-linejoin="round"/>
<path d="M1207.44 670.25 L1245.45 661.23 L1283.46 662.05 L1321.47 657.72 L1359.48 662.4 L1397.5 670.6 L1435.51 674.35 L1473.52 678.8 L1511.53 679.62 L1549.54 686.65" fill="none" stroke="#fff" stroke-width="1" stroke-opacity="0.95" stroke-linejoin="round"/>
<rect x="1207.44" y="404.3" width="342.1" height="61.1" fill="#fff" stroke="#000" stroke-width="1.4"/>
<rect x="1207.44" y="465.4" width="342.1" height="227.9" fill="none" stroke="#000" stroke-width="1.4"/>
<text x="1382.59" y="446" font-size="27.9" text-anchor="middle" textLength="289.87" lengthAdjust="spacingAndGlyphs">NT−Multispecies (2.5B)</text>
<line x1="1207.44" y1="693.3" x2="1207.44" y2="703.5" stroke="#000" stroke-width="1.4"/>
<text x="1208.24" y="732" font-size="22.8" text-anchor="middle" textLength="10.5" lengthAdjust="spacingAndGlyphs">1</text>
<line x1="1245.45" y1="693.3" x2="1245.45" y2="703.5" stroke="#000" stroke-width="1.4"/>
<text x="1245.45" y="732" font-size="22.8" text-anchor="middle" textLength="14.54" lengthAdjust="spacingAndGlyphs">2</text>
<line x1="1283.46" y1="693.3" x2="1283.46" y2="703.5" stroke="#000" stroke-width="1.4"/>
<text x="1283.46" y="732" font-size="22.8" text-anchor="middle" textLength="14.54" lengthAdjust="spacingAndGlyphs">3</text>
<line x1="1321.47" y1="693.3" x2="1321.47" y2="703.5" stroke="#000" stroke-width="1.4"/>
<text x="1321.47" y="732" font-size="22.8" text-anchor="middle" textLength="14.54" lengthAdjust="spacingAndGlyphs">4</text>
<line x1="1359.48" y1="693.3" x2="1359.48" y2="703.5" stroke="#000" stroke-width="1.4"/>
<text x="1359.48" y="732" font-size="22.8" text-anchor="middle" textLength="14.54" lengthAdjust="spacingAndGlyphs">5</text>
<line x1="1397.5" y1="693.3" x2="1397.5" y2="703.5" stroke="#000" stroke-width="1.4"/>
<text x="1397.5" y="732" font-size="22.8" text-anchor="middle" textLength="14.54" lengthAdjust="spacingAndGlyphs">6</text>
<line x1="1435.51" y1="693.3" x2="1435.51" y2="703.5" stroke="#000" stroke-width="1.4"/>
<text x="1435.51" y="732" font-size="22.8" text-anchor="middle" textLength="14.54" lengthAdjust="spacingAndGlyphs">7</text>
<line x1="1473.52" y1="693.3" x2="1473.52" y2="703.5" stroke="#000" stroke-width="1.4"/>
<text x="1473.52" y="732" font-size="22.8" text-anchor="middle" textLength="14.54" lengthAdjust="spacingAndGlyphs">8</text>
<line x1="1511.53" y1="693.3" x2="1511.53" y2="703.5" stroke="#000" stroke-width="1.4"/>
<text x="1511.53" y="732" font-size="22.8" text-anchor="middle" textLength="14.54" lengthAdjust="spacingAndGlyphs">9</text>
<line x1="1549.54" y1="693.3" x2="1549.54" y2="703.5" stroke="#000" stroke-width="1.4"/>
<text x="1556.54" y="732" font-size="22.8" text-anchor="end" textLength="22.5" lengthAdjust="spacingAndGlyphs">10</text>
<line x1="112.3" y1="465.4" x2="122.4" y2="465.4" stroke="#000" stroke-width="1.4"/>
<text x="100.68" y="473.4" font-size="22.8" text-anchor="end" textLength="47.14" lengthAdjust="spacingAndGlyphs">1.00</text>
<line x1="112.3" y1="522.38" x2="122.4" y2="522.38" stroke="#000" stroke-width="1.4"/>
<text x="100.68" y="530.38" font-size="22.8" text-anchor="end" textLength="47.14" lengthAdjust="spacingAndGlyphs">0.75</text>
<line x1="112.3" y1="579.35" x2="122.4" y2="579.35" stroke="#000" stroke-width="1.4"/>
<text x="100.68" y="587.35" font-size="22.8" text-anchor="end" textLength="50.54" lengthAdjust="spacingAndGlyphs">0.50</text>
<line x1="112.3" y1="636.32" x2="122.4" y2="636.32" stroke="#000" stroke-width="1.4"/>
<text x="100.68" y="644.32" font-size="22.8" text-anchor="end" textLength="47.14" lengthAdjust="spacingAndGlyphs">0.25</text>
<line x1="112.3" y1="693.3" x2="122.4" y2="693.3" stroke="#000" stroke-width="1.4"/>
<text x="100" y="701.3" font-size="22.8" text-anchor="end">0</text>
<text x="23.3" y="580.9" font-size="28" text-anchor="middle" textLength="135.38" lengthAdjust="spacingAndGlyphs" transform="rotate(-90 23.3 580.9)">Proportion</text>
<text x="846.2" y="773.8" font-size="28" text-anchor="middle" textLength="325.58" lengthAdjust="spacingAndGlyphs">Cosine similarity (deciles)</text>
<text x="1607.17" y="425.3" font-size="27.8" textLength="103.16" lengthAdjust="spacingAndGlyphs">Severity</text>
<rect x="1609.4" y="441.2" width="21.8" height="21.6" fill="#F2F2F2"/>
<rect x="1609.4" y="466.6" width="21.8" height="21.6" fill="#C8DCE3"/>
<rect x="1609.4" y="492" width="21.8" height="21.6" fill="#A2C5D6"/>
<rect x="1609.4" y="517.4" width="21.8" height="21.6" fill="#A09ABF"/>
<rect x="1609.4" y="542.8" width="21.8" height="21.6" fill="#9E71AA"/>
<rect x="1609.4" y="568.2" width="21.8" height="21.6" fill="#7F5E95"/>
<rect x="1609.4" y="593.6" width="21.8" height="21.6" fill="#5F4C81"/>
<rect x="1609.4" y="619" width="21.8" height="21.6" fill="#544578"/>
<rect x="1609.4" y="644.4" width="21.8" height="21.6" fill="#483E71"/>
<rect x="1609.4" y="669.8" width="21.8" height="21.6" fill="#3F396B"/>
<text x="1642.48" y="461.7" font-size="27.7" textLength="129.85" lengthAdjust="spacingAndGlyphs">Intergenic</text>
<text x="1642.48" y="487.1" font-size="27.7" textLength="139.85" lengthAdjust="spacingAndGlyphs">Regulatory</text>
<text x="1642.48" y="512.5" font-size="27.7" textLength="63.85" lengthAdjust="spacingAndGlyphs">TFBS</text>
<text x="1642.48" y="537.9" font-size="27.7" textLength="98.85" lengthAdjust="spacingAndGlyphs">Intronic</text>
<text x="1642.48" y="563.3" font-size="27.7" textLength="72.85" lengthAdjust="spacingAndGlyphs">3'UTR</text>
<text x="1642.48" y="588.7" font-size="27.7" textLength="72.85" lengthAdjust="spacingAndGlyphs">5'UTR</text>
<text x="1642.48" y="614.1" font-size="27.7" textLength="164.35" lengthAdjust="spacingAndGlyphs">Synonymous</text>
<text x="1642.48" y="639.5" font-size="27.7" textLength="167.85" lengthAdjust="spacingAndGlyphs">Splice region</text>
<text x="1642.48" y="664.9" font-size="27.7" textLength="116.35" lengthAdjust="spacingAndGlyphs">Missense</text>
<text x="1642.48" y="690.3" font-size="27.7" textLength="153.35" lengthAdjust="spacingAndGlyphs">Stop gained</text>
</g>
<g id="panel-c">
<text x="0.32" y="852.8" font-size="36" textLength="23.86" lengthAdjust="spacingAndGlyphs" font-weight="bold" stroke="#000" stroke-width="1.3" stroke-linejoin="miter">c</text>
<rect x="108.6" y="838.3" width="253.5" height="61.2" fill="#fff" stroke="#1a1a1a" stroke-width="1.3"/>
<text x="236.35" y="880.3" font-size="27.8" text-anchor="middle" textLength="46.16" lengthAdjust="spacingAndGlyphs">cos</text>
<rect x="117.65" y="928.92" width="54.32" height="88.58" fill="#A3C5D6"/>
<text x="144.81" y="1011.4" font-size="23.6" text-anchor="middle" textLength="49.01" lengthAdjust="spacingAndGlyphs" fill="#fff">0.63</text>
<rect x="178.01" y="941.58" width="54.32" height="75.92" fill="#9E70A9"/>
<text x="205.17" y="1011.4" font-size="23.6" text-anchor="middle" textLength="49.01" lengthAdjust="spacingAndGlyphs" fill="#fff">0.54</text>
<rect x="238.37" y="930.33" width="54.32" height="87.17" fill="#5F4C80"/>
<text x="265.53" y="1011.4" font-size="23.6" text-anchor="middle" textLength="49.01" lengthAdjust="spacingAndGlyphs" fill="#fff">0.62</text>
<rect x="298.72" y="927.52" width="54.32" height="89.98" fill="#3F396B"/>
<text x="325.89" y="1011.4" font-size="23.6" text-anchor="middle" textLength="49.01" lengthAdjust="spacingAndGlyphs" fill="#fff">0.64</text>
<rect x="108.6" y="899.5" width="253.5" height="123.6" fill="none" stroke="#1a1a1a" stroke-width="1.3"/>
<rect x="117.65" y="1073.73" width="54.32" height="87.17" fill="#A3C5D6"/>
<text x="144.81" y="1154.8" font-size="23.6" text-anchor="middle" textLength="49.01" lengthAdjust="spacingAndGlyphs" fill="#fff">0.62</text>
<rect x="178.01" y="1084.98" width="54.32" height="75.92" fill="#9E70A9"/>
<text x="205.17" y="1154.8" font-size="23.6" text-anchor="middle" textLength="49.01" lengthAdjust="spacingAndGlyphs" fill="#fff">0.54</text>
<rect x="238.37" y="1076.54" width="54.32" height="84.36" fill="#5F4C80"/>
<text x="265.53" y="1154.8" font-size="23.6" text-anchor="middle" textLength="36.01" lengthAdjust="spacingAndGlyphs" fill="#fff">0.6</text>
<rect x="298.72" y="1072.32" width="54.32" height="88.58" fill="#3F396B"/>
<text x="325.89" y="1154.8" font-size="23.6" text-anchor="middle" textLength="49.01" lengthAdjust="spacingAndGlyphs" fill="#fff">0.63</text>
<rect x="108.6" y="1042.9" width="253.5" height="123.6" fill="none" stroke="#1a1a1a" stroke-width="1.3"/>
<rect x="117.65" y="1215.22" width="54.32" height="88.58" fill="#A3C5D6"/>
<text x="144.81" y="1297.7" font-size="23.6" text-anchor="middle" textLength="49.01" lengthAdjust="spacingAndGlyphs" fill="#fff">0.63</text>
<rect x="178.01" y="1220.85" width="54.32" height="82.95" fill="#9E70A9"/>
<text x="205.17" y="1297.7" font-size="23.6" text-anchor="middle" textLength="49.01" lengthAdjust="spacingAndGlyphs" fill="#fff">0.59</text>
<rect x="238.37" y="1226.47" width="54.32" height="77.33" fill="#5F4C80"/>
<text x="265.53" y="1297.7" font-size="23.6" text-anchor="middle" textLength="49.01" lengthAdjust="spacingAndGlyphs" fill="#fff">0.55</text>
<rect x="298.72" y="1211" width="54.32" height="92.8" fill="#3F396B"/>
<text x="325.89" y="1297.7" font-size="23.6" text-anchor="middle" textLength="49.01" lengthAdjust="spacingAndGlyphs" fill="#fff">0.66</text>
<rect x="108.6" y="1185.8" width="253.5" height="123.6" fill="none" stroke="#1a1a1a" stroke-width="1.3"/>
<rect x="117.65" y="1351.39" width="54.32" height="95.61" fill="#A3C5D6"/>
<text x="144.81" y="1440.9" font-size="23.6" text-anchor="middle" textLength="49.01" lengthAdjust="spacingAndGlyphs" fill="#fff">0.68</text>
<rect x="178.01" y="1359.83" width="54.32" height="87.17" fill="#9E70A9"/>
<text x="205.17" y="1440.9" font-size="23.6" text-anchor="middle" textLength="49.01" lengthAdjust="spacingAndGlyphs" fill="#fff">0.62</text>
<rect x="238.37" y="1372.48" width="54.32" height="74.52" fill="#5F4C80"/>
<text x="265.53" y="1440.9" font-size="23.6" text-anchor="middle" textLength="49.01" lengthAdjust="spacingAndGlyphs" fill="#fff">0.53</text>
<rect x="298.72" y="1342.96" width="54.32" height="104.04" fill="#3F396B"/>
<text x="325.89" y="1440.9" font-size="23.6" text-anchor="middle" textLength="48.01" lengthAdjust="spacingAndGlyphs" fill="#fff">0.74</text>
<rect x="108.6" y="1329" width="253.5" height="123.6" fill="none" stroke="#1a1a1a" stroke-width="1.3"/>
<line x1="144.81" y1="1452.6" x2="144.81" y2="1462.6" stroke="#1a1a1a" stroke-width="1.3"/>
<text x="140.41" y="1473.8" font-size="23.8" text-anchor="end" textLength="153.52" lengthAdjust="spacingAndGlyphs" transform="rotate(-90 140.41 1473.8)">NT−HumanRef</text>
<text x="167.21" y="1474.3" font-size="23.8" text-anchor="end" textLength="78.22" lengthAdjust="spacingAndGlyphs" transform="rotate(-90 167.21 1474.3)">(500M)</text>
<line x1="205.17" y1="1452.6" x2="205.17" y2="1462.6" stroke="#1a1a1a" stroke-width="1.3"/>
<text x="200.77" y="1473.8" font-size="23.8" text-anchor="end" textLength="113.72" lengthAdjust="spacingAndGlyphs" transform="rotate(-90 200.77 1473.8)">NT−1000G</text>
<text x="227.57" y="1474.3" font-size="23.8" text-anchor="end" textLength="78.22" lengthAdjust="spacingAndGlyphs" transform="rotate(-90 227.57 1474.3)">(500M)</text>
<line x1="265.53" y1="1452.6" x2="265.53" y2="1462.6" stroke="#1a1a1a" stroke-width="1.3"/>
<text x="261.13" y="1473.8" font-size="23.8" text-anchor="end" textLength="113.72" lengthAdjust="spacingAndGlyphs" transform="rotate(-90 261.13 1473.8)">NT−1000G</text>
<text x="287.93" y="1474.3" font-size="23.8" text-anchor="end" textLength="60.62" lengthAdjust="spacingAndGlyphs" transform="rotate(-90 287.93 1474.3)">(2.5B)</text>
<line x1="325.89" y1="1452.6" x2="325.89" y2="1462.6" stroke="#1a1a1a" stroke-width="1.3"/>
<text x="321.49" y="1473.8" font-size="23.8" text-anchor="end" textLength="177.02" lengthAdjust="spacingAndGlyphs" transform="rotate(-90 321.49 1473.8)">NT−Multispecies</text>
<text x="348.29" y="1474.3" font-size="23.8" text-anchor="end" textLength="60.62" lengthAdjust="spacingAndGlyphs" transform="rotate(-90 348.29 1474.3)">(2.5B)</text>
<rect x="381.1" y="838.3" width="253.5" height="61.2" fill="#fff" stroke="#1a1a1a" stroke-width="1.3"/>
<text x="509.35" y="880.3" font-size="27.8" text-anchor="middle" textLength="45.16" lengthAdjust="spacingAndGlyphs">dot</text>
<rect x="390.15" y="914.86" width="54.32" height="102.64" fill="#A3C5D6"/>
<text x="417.31" y="1011.4" font-size="23.6" text-anchor="middle" textLength="48.01" lengthAdjust="spacingAndGlyphs" fill="#fff">0.73</text>
<rect x="450.51" y="919.08" width="54.32" height="98.42" fill="#9E70A9"/>
<text x="477.67" y="1011.4" font-size="23.6" text-anchor="middle" textLength="35.01" lengthAdjust="spacingAndGlyphs" fill="#fff">0.7</text>
<rect x="510.87" y="927.52" width="54.32" height="89.98" fill="#5F4C80"/>
<text x="538.03" y="1011.4" font-size="23.6" text-anchor="middle" textLength="49.01" lengthAdjust="spacingAndGlyphs" fill="#fff">0.64</text>
<rect x="571.23" y="914.86" width="54.32" height="102.64" fill="#3F396B"/>
<text x="598.39" y="1011.4" font-size="23.6" text-anchor="middle" textLength="48.01" lengthAdjust="spacingAndGlyphs" fill="#fff">0.73</text>
<rect x="381.1" y="899.5" width="253.5" height="123.6" fill="none" stroke="#1a1a1a" stroke-width="1.3"/>
<rect x="390.15" y="1061.07" width="54.32" height="99.83" fill="#A3C5D6"/>
<text x="417.31" y="1154.8" font-size="23.6" text-anchor="middle" textLength="45.81" lengthAdjust="spacingAndGlyphs" fill="#fff">0.71</text>
<rect x="450.51" y="1063.89" width="54.32" height="97.01" fill="#9E70A9"/>
<text x="477.67" y="1154.8" font-size="23.6" text-anchor="middle" textLength="49.01" lengthAdjust="spacingAndGlyphs" fill="#fff">0.69</text>
<rect x="510.87" y="1072.32" width="54.32" height="88.58" fill="#5F4C80"/>
<text x="538.03" y="1154.8" font-size="23.6" text-anchor="middle" textLength="49.01" lengthAdjust="spacingAndGlyphs" fill="#fff">0.63</text>
<rect x="571.23" y="1061.07" width="54.32" height="99.83" fill="#3F396B"/>
<text x="598.39" y="1154.8" font-size="23.6" text-anchor="middle" textLength="45.81" lengthAdjust="spacingAndGlyphs" fill="#fff">0.71</text>
<rect x="381.1" y="1042.9" width="253.5" height="123.6" fill="none" stroke="#1a1a1a" stroke-width="1.3"/>
<rect x="390.15" y="1209.6" width="54.32" height="94.2" fill="#A3C5D6"/>
<text x="417.31" y="1297.7" font-size="23.6" text-anchor="middle" textLength="48.01" lengthAdjust="spacingAndGlyphs" fill="#fff">0.67</text>
<rect x="450.51" y="1218.03" width="54.32" height="85.77" fill="#9E70A9"/>
<text x="477.67" y="1297.7" font-size="23.6" text-anchor="middle" textLength="46.81" lengthAdjust="spacingAndGlyphs" fill="#fff">0.61</text>
<rect x="510.87" y="1225.06" width="54.32" height="78.74" fill="#5F4C80"/>
<text x="538.03" y="1297.7" font-size="23.6" text-anchor="middle" textLength="49.01" lengthAdjust="spacingAndGlyphs" fill="#fff">0.56</text>
<rect x="571.23" y="1205.38" width="54.32" height="98.42" fill="#3F396B"/>
<text x="598.39" y="1297.7" font-size="23.6" text-anchor="middle" textLength="35.01" lengthAdjust="spacingAndGlyphs" fill="#fff">0.7</text>
<rect x="381.1" y="1185.8" width="253.5" height="123.6" fill="none" stroke="#1a1a1a" stroke-width="1.3"/>
<rect x="390.15" y="1345.77" width="54.32" height="101.23" fill="#A3C5D6"/>
<text x="417.31" y="1440.9" font-size="23.6" text-anchor="middle" textLength="48.01" lengthAdjust="spacingAndGlyphs" fill="#fff">0.72</text>
<rect x="450.51" y="1357.02" width="54.32" height="89.98" fill="#9E70A9"/>
<text x="477.67" y="1440.9" font-size="23.6" text-anchor="middle" textLength="49.01" lengthAdjust="spacingAndGlyphs" fill="#fff">0.64</text>
<rect x="510.87" y="1362.64" width="54.32" height="84.36" fill="#5F4C80"/>
<text x="538.03" y="1440.9" font-size="23.6" text-anchor="middle" textLength="36.01" lengthAdjust="spacingAndGlyphs" fill="#fff">0.6</text>
<rect x="571.23" y="1340.14" width="54.32" height="106.86" fill="#3F396B"/>
<text x="598.39" y="1440.9" font-size="23.6" text-anchor="middle" textLength="48.01" lengthAdjust="spacingAndGlyphs" fill="#fff">0.76</text>
<rect x="381.1" y="1329" width="253.5" height="123.6" fill="none" stroke="#1a1a1a" stroke-width="1.3"/>
<line x1="417.31" y1="1452.6" x2="417.31" y2="1462.6" stroke="#1a1a1a" stroke-width="1.3"/>
<text x="412.91" y="1473.8" font-size="23.8" text-anchor="end" textLength="153.52" lengthAdjust="spacingAndGlyphs" transform="rotate(-90 412.91 1473.8)">NT−HumanRef</text>
<text x="439.71" y="1474.3" font-size="23.8" text-anchor="end" textLength="78.22" lengthAdjust="spacingAndGlyphs" transform="rotate(-90 439.71 1474.3)">(500M)</text>
<line x1="477.67" y1="1452.6" x2="477.67" y2="1462.6" stroke="#1a1a1a" stroke-width="1.3"/>
<text x="473.27" y="1473.8" font-size="23.8" text-anchor="end" textLength="113.72" lengthAdjust="spacingAndGlyphs" transform="rotate(-90 473.27 1473.8)">NT−1000G</text>
<text x="500.07" y="1474.3" font-size="23.8" text-anchor="end" textLength="78.22" lengthAdjust="spacingAndGlyphs" transform="rotate(-90 500.07 1474.3)">(500M)</text>
<line x1="538.03" y1="1452.6" x2="538.03" y2="1462.6" stroke="#1a1a1a" stroke-width="1.3"/>
<text x="533.63" y="1473.8" font-size="23.8" text-anchor="end" textLength="113.72" lengthAdjust="spacingAndGlyphs" transform="rotate(-90 533.63 1473.8)">NT−1000G</text>
<text x="560.43" y="1474.3" font-size="23.8" text-anchor="end" textLength="60.62" lengthAdjust="spacingAndGlyphs" transform="rotate(-90 560.43 1474.3)">(2.5B)</text>
<line x1="598.39" y1="1452.6" x2="598.39" y2="1462.6" stroke="#1a1a1a" stroke-width="1.3"/>
<text x="593.99" y="1473.8" font-size="23.8" text-anchor="end" textLength="177.02" lengthAdjust="spacingAndGlyphs" transform="rotate(-90 593.99 1473.8)">NT−Multispecies</text>
<text x="620.79" y="1474.3" font-size="23.8" text-anchor="end" textLength="60.62" lengthAdjust="spacingAndGlyphs" transform="rotate(-90 620.79 1474.3)">(2.5B)</text>
<rect x="653.6" y="838.3" width="253.5" height="61.2" fill="#fff" stroke="#1a1a1a" stroke-width="1.3"/>
<text x="778.85" y="880.3" font-size="27.8" text-anchor="middle" textLength="20.86" lengthAdjust="spacingAndGlyphs">l1</text>
<rect x="662.65" y="930.33" width="54.32" height="87.17" fill="#A3C5D6"/>
<text x="689.81" y="1011.4" font-size="23.6" text-anchor="middle" textLength="49.01" lengthAdjust="spacingAndGlyphs" fill="#fff">0.62</text>
<rect x="723.01" y="937.36" width="54.32" height="80.14" fill="#9E70A9"/>
<text x="750.17" y="1011.4" font-size="23.6" text-anchor="middle" textLength="48.01" lengthAdjust="spacingAndGlyphs" fill="#fff">0.57</text>
<rect x="783.37" y="928.92" width="54.32" height="88.58" fill="#5F4C80"/>
<text x="810.53" y="1011.4" font-size="23.6" text-anchor="middle" textLength="49.01" lengthAdjust="spacingAndGlyphs" fill="#fff">0.63</text>
<rect x="843.73" y="930.33" width="54.32" height="87.17" fill="#3F396B"/>
<text x="870.89" y="1011.4" font-size="23.6" text-anchor="middle" textLength="49.01" lengthAdjust="spacingAndGlyphs" fill="#fff">0.62</text>
<rect x="653.6" y="899.5" width="253.5" height="123.6" fill="none" stroke="#1a1a1a" stroke-width="1.3"/>
<rect x="662.65" y="1076.54" width="54.32" height="84.36" fill="#A3C5D6"/>
<text x="689.81" y="1154.8" font-size="23.6" text-anchor="middle" textLength="36.01" lengthAdjust="spacingAndGlyphs" fill="#fff">0.6</text>
<rect x="723.01" y="1082.16" width="54.32" height="78.74" fill="#9E70A9"/>
<text x="750.17" y="1154.8" font-size="23.6" text-anchor="middle" textLength="49.01" lengthAdjust="spacingAndGlyphs" fill="#fff">0.56</text>
<rect x="783.37" y="1075.13" width="54.32" height="85.77" fill="#5F4C80"/>
<text x="810.53" y="1154.8" font-size="23.6" text-anchor="middle" textLength="46.81" lengthAdjust="spacingAndGlyphs" fill="#fff">0.61</text>
<rect x="843.73" y="1073.73" width="54.32" height="87.17" fill="#3F396B"/>
<text x="870.89" y="1154.8" font-size="23.6" text-anchor="middle" textLength="49.01" lengthAdjust="spacingAndGlyphs" fill="#fff">0.62</text>
<rect x="653.6" y="1042.9" width="253.5" height="123.6" fill="none" stroke="#1a1a1a" stroke-width="1.3"/>
<rect x="662.65" y="1220.85" width="54.32" height="82.95" fill="#A3C5D6"/>
<text x="689.81" y="1297.7" font-size="23.6" text-anchor="middle" textLength="49.01" lengthAdjust="spacingAndGlyphs" fill="#fff">0.59</text>
<rect x="723.01" y="1226.47" width="54.32" height="77.33" fill="#9E70A9"/>
<text x="750.17" y="1297.7" font-size="23.6" text-anchor="middle" textLength="49.01" lengthAdjust="spacingAndGlyphs" fill="#fff">0.55</text>
<rect x="783.37" y="1225.06" width="54.32" height="78.74" fill="#5F4C80"/>
<text x="810.53" y="1297.7" font-size="23.6" text-anchor="middle" textLength="49.01" lengthAdjust="spacingAndGlyphs" fill="#fff">0.56</text>
<rect x="843.73" y="1206.79" width="54.32" height="97.01" fill="#3F396B"/>
<text x="870.89" y="1297.7" font-size="23.6" text-anchor="middle" textLength="49.01" lengthAdjust="spacingAndGlyphs" fill="#fff">0.69</text>
<rect x="653.6" y="1185.8" width="253.5" height="123.6" fill="none" stroke="#1a1a1a" stroke-width="1.3"/>
<rect x="662.65" y="1361.23" width="54.32" height="85.77" fill="#A3C5D6"/>
<text x="689.81" y="1440.9" font-size="23.6" text-anchor="middle" textLength="46.81" lengthAdjust="spacingAndGlyphs" fill="#fff">0.61</text>
<rect x="723.01" y="1368.26" width="54.32" height="78.74" fill="#9E70A9"/>
<text x="750.17" y="1440.9" font-size="23.6" text-anchor="middle" textLength="49.01" lengthAdjust="spacingAndGlyphs" fill="#fff">0.56</text>
<rect x="783.37" y="1369.67" width="54.32" height="77.33" fill="#5F4C80"/>
<text x="810.53" y="1440.9" font-size="23.6" text-anchor="middle" textLength="49.01" lengthAdjust="spacingAndGlyphs" fill="#fff">0.55</text>
<rect x="843.73" y="1345.77" width="54.32" height="101.23" fill="#3F396B"/>
<text x="870.89" y="1440.9" font-size="23.6" text-anchor="middle" textLength="48.01" lengthAdjust="spacingAndGlyphs" fill="#fff">0.72</text>
<rect x="653.6" y="1329" width="253.5" height="123.6" fill="none" stroke="#1a1a1a" stroke-width="1.3"/>
<line x1="689.81" y1="1452.6" x2="689.81" y2="1462.6" stroke="#1a1a1a" stroke-width="1.3"/>
<text x="685.41" y="1473.8" font-size="23.8" text-anchor="end" textLength="153.52" lengthAdjust="spacingAndGlyphs" transform="rotate(-90 685.41 1473.8)">NT−HumanRef</text>
<text x="712.21" y="1474.3" font-size="23.8" text-anchor="end" textLength="78.22" lengthAdjust="spacingAndGlyphs" transform="rotate(-90 712.21 1474.3)">(500M)</text>
<line x1="750.17" y1="1452.6" x2="750.17" y2="1462.6" stroke="#1a1a1a" stroke-width="1.3"/>
<text x="745.77" y="1473.8" font-size="23.8" text-anchor="end" textLength="113.72" lengthAdjust="spacingAndGlyphs" transform="rotate(-90 745.77 1473.8)">NT−1000G</text>
<text x="772.57" y="1474.3" font-size="23.8" text-anchor="end" textLength="78.22" lengthAdjust="spacingAndGlyphs" transform="rotate(-90 772.57 1474.3)">(500M)</text>
<line x1="810.53" y1="1452.6" x2="810.53" y2="1462.6" stroke="#1a1a1a" stroke-width="1.3"/>
<text x="806.13" y="1473.8" font-size="23.8" text-anchor="end" textLength="113.72" lengthAdjust="spacingAndGlyphs" transform="rotate(-90 806.13 1473.8)">NT−1000G</text>
<text x="832.93" y="1474.3" font-size="23.8" text-anchor="end" textLength="60.62" lengthAdjust="spacingAndGlyphs" transform="rotate(-90 832.93 1474.3)">(2.5B)</text>
<line x1="870.89" y1="1452.6" x2="870.89" y2="1462.6" stroke="#1a1a1a" stroke-width="1.3"/>
<text x="866.49" y="1473.8" font-size="23.8" text-anchor="end" textLength="177.02" lengthAdjust="spacingAndGlyphs" transform="rotate(-90 866.49 1473.8)">NT−Multispecies</text>
<text x="893.29" y="1474.3" font-size="23.8" text-anchor="end" textLength="60.62" lengthAdjust="spacingAndGlyphs" transform="rotate(-90 893.29 1474.3)">(2.5B)</text>
<rect x="926.1" y="838.3" width="253.5" height="61.2" fill="#fff" stroke="#1a1a1a" stroke-width="1.3"/>
<text x="1053.85" y="880.3" font-size="27.8" text-anchor="middle" textLength="24.86" lengthAdjust="spacingAndGlyphs">l2</text>
<rect x="935.15" y="930.33" width="54.32" height="87.17" fill="#A3C5D6"/>
<text x="962.31" y="1011.4" font-size="23.6" text-anchor="middle" textLength="49.01" lengthAdjust="spacingAndGlyphs" fill="#fff">0.62</text>
<rect x="995.51" y="937.36" width="54.32" height="80.14" fill="#9E70A9"/>
<text x="1022.67" y="1011.4" font-size="23.6" text-anchor="middle" textLength="48.01" lengthAdjust="spacingAndGlyphs" fill="#fff">0.57</text>
<rect x="1055.87" y="928.92" width="54.32" height="88.58" fill="#5F4C80"/>
<text x="1083.03" y="1011.4" font-size="23.6" text-anchor="middle" textLength="49.01" lengthAdjust="spacingAndGlyphs" fill="#fff">0.63</text>
<rect x="1116.23" y="930.33" width="54.32" height="87.17" fill="#3F396B"/>
<text x="1143.39" y="1011.4" font-size="23.6" text-anchor="middle" textLength="49.01" lengthAdjust="spacingAndGlyphs" fill="#fff">0.62</text>
<rect x="926.1" y="899.5" width="253.5" height="123.6" fill="none" stroke="#1a1a1a" stroke-width="1.3"/>
<rect x="935.15" y="1076.54" width="54.32" height="84.36" fill="#A3C5D6"/>
<text x="962.31" y="1154.8" font-size="23.6" text-anchor="middle" textLength="36.01" lengthAdjust="spacingAndGlyphs" fill="#fff">0.6</text>
<rect x="995.51" y="1082.16" width="54.32" height="78.74" fill="#9E70A9"/>
<text x="1022.67" y="1154.8" font-size="23.6" text-anchor="middle" textLength="49.01" lengthAdjust="spacingAndGlyphs" fill="#fff">0.56</text>
<rect x="1055.87" y="1075.13" width="54.32" height="85.77" fill="#5F4C80"/>
<text x="1083.03" y="1154.8" font-size="23.6" text-anchor="middle" textLength="46.81" lengthAdjust="spacingAndGlyphs" fill="#fff">0.61</text>
<rect x="1116.23" y="1073.73" width="54.32" height="87.17" fill="#3F396B"/>
<text x="1143.39" y="1154.8" font-size="23.6" text-anchor="middle" textLength="49.01" lengthAdjust="spacingAndGlyphs" fill="#fff">0.62</text>
<rect x="926.1" y="1042.9" width="253.5" height="123.6" fill="none" stroke="#1a1a1a" stroke-width="1.3"/>
<rect x="935.15" y="1220.85" width="54.32" height="82.95" fill="#A3C5D6"/>
<text x="962.31" y="1297.7" font-size="23.6" text-anchor="middle" textLength="49.01" lengthAdjust="spacingAndGlyphs" fill="#fff">0.59</text>
<rect x="995.51" y="1226.47" width="54.32" height="77.33" fill="#9E70A9"/>
<text x="1022.67" y="1297.7" font-size="23.6" text-anchor="middle" textLength="49.01" lengthAdjust="spacingAndGlyphs" fill="#fff">0.55</text>
<rect x="1055.87" y="1225.06" width="54.32" height="78.74" fill="#5F4C80"/>
<text x="1083.03" y="1297.7" font-size="23.6" text-anchor="middle" textLength="49.01" lengthAdjust="spacingAndGlyphs" fill="#fff">0.56</text>
<rect x="1116.23" y="1206.79" width="54.32" height="97.01" fill="#3F396B"/>
<text x="1143.39" y="1297.7" font-size="23.6" text-anchor="middle" textLength="49.01" lengthAdjust="spacingAndGlyphs" fill="#fff">0.69</text>
<rect x="926.1" y="1185.8" width="253.5" height="123.6" fill="none" stroke="#1a1a1a" stroke-width="1.3"/>
<rect x="935.15" y="1361.23" width="54.32" height="85.77" fill="#A3C5D6"/>
<text x="962.31" y="1440.9" font-size="23.6" text-anchor="middle" textLength="46.81" lengthAdjust="spacingAndGlyphs" fill="#fff">0.61</text>
<rect x="995.51" y="1368.26" width="54.32" height="78.74" fill="#9E70A9"/>
<text x="1022.67" y="1440.9" font-size="23.6" text-anchor="middle" textLength="49.01" lengthAdjust="spacingAndGlyphs" fill="#fff">0.56</text>
<rect x="1055.87" y="1369.67" width="54.32" height="77.33" fill="#5F4C80"/>
<text x="1083.03" y="1440.9" font-size="23.6" text-anchor="middle" textLength="49.01" lengthAdjust="spacingAndGlyphs" fill="#fff">0.55</text>
<rect x="1116.23" y="1345.77" width="54.32" height="101.23" fill="#3F396B"/>
<text x="1143.39" y="1440.9" font-size="23.6" text-anchor="middle" textLength="48.01" lengthAdjust="spacingAndGlyphs" fill="#fff">0.72</text>
<rect x="926.1" y="1329" width="253.5" height="123.6" fill="none" stroke="#1a1a1a" stroke-width="1.3"/>
<line x1="962.31" y1="1452.6" x2="962.31" y2="1462.6" stroke="#1a1a1a" stroke-width="1.3"/>
<text x="957.91" y="1473.8" font-size="23.8" text-anchor="end" textLength="153.52" lengthAdjust="spacingAndGlyphs" transform="rotate(-90 957.91 1473.8)">NT−HumanRef</text>
<text x="984.71" y="1474.3" font-size="23.8" text-anchor="end" textLength="78.22" lengthAdjust="spacingAndGlyphs" transform="rotate(-90 984.71 1474.3)">(500M)</text>
<line x1="1022.67" y1="1452.6" x2="1022.67" y2="1462.6" stroke="#1a1a1a" stroke-width="1.3"/>
<text x="1018.27" y="1473.8" font-size="23.8" text-anchor="end" textLength="113.72" lengthAdjust="spacingAndGlyphs" transform="rotate(-90 1018.27 1473.8)">NT−1000G</text>
<text x="1045.07" y="1474.3" font-size="23.8" text-anchor="end" textLength="78.22" lengthAdjust="spacingAndGlyphs" transform="rotate(-90 1045.07 1474.3)">(500M)</text>
<line x1="1083.03" y1="1452.6" x2="1083.03" y2="1462.6" stroke="#1a1a1a" stroke-width="1.3"/>
<text x="1078.63" y="1473.8" font-size="23.8" text-anchor="end" textLength="113.72" lengthAdjust="spacingAndGlyphs" transform="rotate(-90 1078.63 1473.8)">NT−1000G</text>
<text x="1105.43" y="1474.3" font-size="23.8" text-anchor="end" textLength="60.62" lengthAdjust="spacingAndGlyphs" transform="rotate(-90 1105.43 1474.3)">(2.5B)</text>
<line x1="1143.39" y1="1452.6" x2="1143.39" y2="1462.6" stroke="#1a1a1a" stroke-width="1.3"/>
<text x="1138.99" y="1473.8" font-size="23.8" text-anchor="end" textLength="177.02" lengthAdjust="spacingAndGlyphs" transform="rotate(-90 1138.99 1473.8)">NT−Multispecies</text>
<text x="1165.79" y="1474.3" font-size="23.8" text-anchor="end" textLength="60.62" lengthAdjust="spacingAndGlyphs" transform="rotate(-90 1165.79 1474.3)">(2.5B)</text>
<rect x="1198.6" y="838.3" width="253.5" height="61.2" fill="#fff" stroke="#1a1a1a" stroke-width="1.3"/>
<text x="1325.85" y="880.3" font-size="27.8" text-anchor="middle" textLength="103.86" lengthAdjust="spacingAndGlyphs">loss ALT</text>
<rect x="1207.65" y="920.49" width="54.32" height="97.01" fill="#A3C5D6"/>
<text x="1234.81" y="1011.4" font-size="23.6" text-anchor="middle" textLength="49.01" lengthAdjust="spacingAndGlyphs" fill="#fff">0.69</text>
<rect x="1268.01" y="921.89" width="54.32" height="95.61" fill="#9E70A9"/>
<text x="1295.17" y="1011.4" font-size="23.6" text-anchor="middle" textLength="49.01" lengthAdjust="spacingAndGlyphs" fill="#fff">0.68</text>
<rect x="1328.37" y="921.89" width="54.32" height="95.61" fill="#5F4C80"/>
<text x="1355.53" y="1011.4" font-size="23.6" text-anchor="middle" textLength="49.01" lengthAdjust="spacingAndGlyphs" fill="#fff">0.68</text>
<rect x="1388.72" y="923.3" width="54.32" height="94.2" fill="#3F396B"/>
<text x="1415.89" y="1011.4" font-size="23.6" text-anchor="middle" textLength="48.01" lengthAdjust="spacingAndGlyphs" fill="#fff">0.67</text>
<rect x="1198.6" y="899.5" width="253.5" height="123.6" fill="none" stroke="#1a1a1a" stroke-width="1.3"/>
<rect x="1207.65" y="1066.7" width="54.32" height="94.2" fill="#A3C5D6"/>
<text x="1234.81" y="1154.8" font-size="23.6" text-anchor="middle" textLength="48.01" lengthAdjust="spacingAndGlyphs" fill="#fff">0.67</text>
<rect x="1268.01" y="1066.7" width="54.32" height="94.2" fill="#9E70A9"/>
<text x="1295.17" y="1154.8" font-size="23.6" text-anchor="middle" textLength="48.01" lengthAdjust="spacingAndGlyphs" fill="#fff">0.67</text>
<rect x="1328.37" y="1068.1" width="54.32" height="92.8" fill="#5F4C80"/>
<text x="1355.53" y="1154.8" font-size="23.6" text-anchor="middle" textLength="49.01" lengthAdjust="spacingAndGlyphs" fill="#fff">0.66</text>
<rect x="1388.72" y="1069.51" width="54.32" height="91.39" fill="#3F396B"/>
<text x="1415.89" y="1154.8" font-size="23.6" text-anchor="middle" textLength="49.01" lengthAdjust="spacingAndGlyphs" fill="#fff">0.65</text>
<rect x="1198.6" y="1042.9" width="253.5" height="123.6" fill="none" stroke="#1a1a1a" stroke-width="1.3"/>
<rect x="1207.65" y="1213.82" width="54.32" height="89.98" fill="#A3C5D6"/>
<text x="1234.81" y="1297.7" font-size="23.6" text-anchor="middle" textLength="49.01" lengthAdjust="spacingAndGlyphs" fill="#fff">0.64</text>
<rect x="1268.01" y="1213.82" width="54.32" height="89.98" fill="#9E70A9"/>
<text x="1295.17" y="1297.7" font-size="23.6" text-anchor="middle" textLength="49.01" lengthAdjust="spacingAndGlyphs" fill="#fff">0.64</text>
<rect x="1328.37" y="1212.41" width="54.32" height="91.39" fill="#5F4C80"/>
<text x="1355.53" y="1297.7" font-size="23.6" text-anchor="middle" textLength="49.01" lengthAdjust="spacingAndGlyphs" fill="#fff">0.65</text>
<rect x="1388.72" y="1213.82" width="54.32" height="89.98" fill="#3F396B"/>
<text x="1415.89" y="1297.7" font-size="23.6" text-anchor="middle" textLength="49.01" lengthAdjust="spacingAndGlyphs" fill="#fff">0.64</text>
<rect x="1198.6" y="1185.8" width="253.5" height="123.6" fill="none" stroke="#1a1a1a" stroke-width="1.3"/>
<rect x="1207.65" y="1349.99" width="54.32" height="97.01" fill="#A3C5D6"/>
<text x="1234.81" y="1440.9" font-size="23.6" text-anchor="middle" textLength="49.01" lengthAdjust="spacingAndGlyphs" fill="#fff">0.69</text>
<rect x="1268.01" y="1349.99" width="54.32" height="97.01" fill="#9E70A9"/>
<text x="1295.17" y="1440.9" font-size="23.6" text-anchor="middle" textLength="49.01" lengthAdjust="spacingAndGlyphs" fill="#fff">0.69</text>
<rect x="1328.37" y="1340.14" width="54.32" height="106.86" fill="#5F4C80"/>
<text x="1355.53" y="1440.9" font-size="23.6" text-anchor="middle" textLength="48.01" lengthAdjust="spacingAndGlyphs" fill="#fff">0.76</text>
<rect x="1388.72" y="1334.52" width="54.32" height="112.48" fill="#3F396B"/>
<text x="1415.89" y="1440.9" font-size="23.6" text-anchor="middle" textLength="36.01" lengthAdjust="spacingAndGlyphs" fill="#fff">0.8</text>
<rect x="1198.6" y="1329" width="253.5" height="123.6" fill="none" stroke="#1a1a1a" stroke-width="1.3"/>
<line x1="1234.81" y1="1452.6" x2="1234.81" y2="1462.6" stroke="#1a1a1a" stroke-width="1.3"/>
<text x="1230.41" y="1473.8" font-size="23.8" text-anchor="end" textLength="153.52" lengthAdjust="spacingAndGlyphs" transform="rotate(-90 1230.41 1473.8)">NT−HumanRef</text>
<text x="1257.21" y="1474.3" font-size="23.8" text-anchor="end" textLength="78.22" lengthAdjust="spacingAndGlyphs" transform="rotate(-90 1257.21 1474.3)">(500M)</text>
<line x1="1295.17" y1="1452.6" x2="1295.17" y2="1462.6" stroke="#1a1a1a" stroke-width="1.3"/>
<text x="1290.77" y="1473.8" font-size="23.8" text-anchor="end" textLength="113.72" lengthAdjust="spacingAndGlyphs" transform="rotate(-90 1290.77 1473.8)">NT−1000G</text>
<text x="1317.57" y="1474.3" font-size="23.8" text-anchor="end" textLength="78.22" lengthAdjust="spacingAndGlyphs" transform="rotate(-90 1317.57 1474.3)">(500M)</text>
<line x1="1355.53" y1="1452.6" x2="1355.53" y2="1462.6" stroke="#1a1a1a" stroke-width="1.3"/>
<text x="1351.13" y="1473.8" font-size="23.8" text-anchor="end" textLength="113.72" lengthAdjust="spacingAndGlyphs" transform="rotate(-90 1351.13 1473.8)">NT−1000G</text>
<text x="1377.93" y="1474.3" font-size="23.8" text-anchor="end" textLength="60.62" lengthAdjust="spacingAndGlyphs" transform="rotate(-90 1377.93 1474.3)">(2.5B)</text>
<line x1="1415.89" y1="1452.6" x2="1415.89" y2="1462.6" stroke="#1a1a1a" stroke-width="1.3"/>
<text x="1411.49" y="1473.8" font-size="23.8" text-anchor="end" textLength="177.02" lengthAdjust="spacingAndGlyphs" transform="rotate(-90 1411.49 1473.8)">NT−Multispecies</text>
<text x="1438.29" y="1474.3" font-size="23.8" text-anchor="end" textLength="60.62" lengthAdjust="spacingAndGlyphs" transform="rotate(-90 1438.29 1474.3)">(2.5B)</text>
<rect x="1471.1" y="838.3" width="253.5" height="61.2" fill="#fff" stroke="#1a1a1a" stroke-width="1.3"/>
<text x="1592.85" y="880.3" font-size="27.8" text-anchor="middle" textLength="164.86" lengthAdjust="spacingAndGlyphs">loss ALT−REF</text>
<rect x="1480.15" y="931.73" width="54.32" height="85.77" fill="#A3C5D6"/>
<text x="1507.31" y="1011.4" font-size="23.6" text-anchor="middle" textLength="46.81" lengthAdjust="spacingAndGlyphs" fill="#fff">0.61</text>
<rect x="1540.51" y="931.73" width="54.32" height="85.77" fill="#9E70A9"/>
<text x="1567.67" y="1011.4" font-size="23.6" text-anchor="middle" textLength="46.81" lengthAdjust="spacingAndGlyphs" fill="#fff">0.61</text>
<rect x="1600.87" y="931.73" width="54.32" height="85.77" fill="#5F4C80"/>
<text x="1628.03" y="1011.4" font-size="23.6" text-anchor="middle" textLength="46.81" lengthAdjust="spacingAndGlyphs" fill="#fff">0.61</text>
<rect x="1661.22" y="934.55" width="54.32" height="82.95" fill="#3F396B"/>
<text x="1688.39" y="1011.4" font-size="23.6" text-anchor="middle" textLength="49.01" lengthAdjust="spacingAndGlyphs" fill="#fff">0.59</text>
<rect x="1471.1" y="899.5" width="253.5" height="123.6" fill="none" stroke="#1a1a1a" stroke-width="1.3"/>
<rect x="1480.15" y="1075.13" width="54.32" height="85.77" fill="#A3C5D6"/>
<text x="1507.31" y="1154.8" font-size="23.6" text-anchor="middle" textLength="46.81" lengthAdjust="spacingAndGlyphs" fill="#fff">0.61</text>
<rect x="1540.51" y="1076.54" width="54.32" height="84.36" fill="#9E70A9"/>
<text x="1567.67" y="1154.8" font-size="23.6" text-anchor="middle" textLength="36.01" lengthAdjust="spacingAndGlyphs" fill="#fff">0.6</text>
<rect x="1600.87" y="1076.54" width="54.32" height="84.36" fill="#5F4C80"/>
<text x="1628.03" y="1154.8" font-size="23.6" text-anchor="middle" textLength="36.01" lengthAdjust="spacingAndGlyphs" fill="#fff">0.6</text>
<rect x="1661.22" y="1079.35" width="54.32" height="81.55" fill="#3F396B"/>
<text x="1688.39" y="1154.8" font-size="23.6" text-anchor="middle" textLength="49.01" lengthAdjust="spacingAndGlyphs" fill="#fff">0.58</text>
<rect x="1471.1" y="1042.9" width="253.5" height="123.6" fill="none" stroke="#1a1a1a" stroke-width="1.3"/>
<rect x="1480.15" y="1216.63" width="54.32" height="87.17" fill="#A3C5D6"/>
<text x="1507.31" y="1297.7" font-size="23.6" text-anchor="middle" textLength="49.01" lengthAdjust="spacingAndGlyphs" fill="#fff">0.62</text>
<rect x="1540.51" y="1219.44" width="54.32" height="84.36" fill="#9E70A9"/>
<text x="1567.67" y="1297.7" font-size="23.6" text-anchor="middle" textLength="36.01" lengthAdjust="spacingAndGlyphs" fill="#fff">0.6</text>
<rect x="1600.87" y="1215.22" width="54.32" height="88.58" fill="#5F4C80"/>
<text x="1628.03" y="1297.7" font-size="23.6" text-anchor="middle" textLength="49.01" lengthAdjust="spacingAndGlyphs" fill="#fff">0.63</text>
<rect x="1661.22" y="1219.44" width="54.32" height="84.36" fill="#3F396B"/>
<text x="1688.39" y="1297.7" font-size="23.6" text-anchor="middle" textLength="36.01" lengthAdjust="spacingAndGlyphs" fill="#fff">0.6</text>
<rect x="1471.1" y="1185.8" width="253.5" height="123.6" fill="none" stroke="#1a1a1a" stroke-width="1.3"/>
<rect x="1480.15" y="1359.83" width="54.32" height="87.17" fill="#A3C5D6"/>
<text x="1507.31" y="1440.9" font-size="23.6" text-anchor="middle" textLength="49.01" lengthAdjust="spacingAndGlyphs" fill="#fff">0.62</text>
<rect x="1540.51" y="1359.83" width="54.32" height="87.17" fill="#9E70A9"/>
<text x="1567.67" y="1440.9" font-size="23.6" text-anchor="middle" textLength="49.01" lengthAdjust="spacingAndGlyphs" fill="#fff">0.62</text>
<rect x="1600.87" y="1373.89" width="54.32" height="73.11" fill="#5F4C80"/>
<text x="1628.03" y="1440.9" font-size="23.6" text-anchor="middle" textLength="49.01" lengthAdjust="spacingAndGlyphs" fill="#fff">0.52</text>
<rect x="1661.22" y="1358.42" width="54.32" height="88.58" fill="#3F396B"/>
<text x="1688.39" y="1440.9" font-size="23.6" text-anchor="middle" textLength="49.01" lengthAdjust="spacingAndGlyphs" fill="#fff">0.63</text>
<rect x="1471.1" y="1329" width="253.5" height="123.6" fill="none" stroke="#1a1a1a" stroke-width="1.3"/>
<line x1="1507.31" y1="1452.6" x2="1507.31" y2="1462.6" stroke="#1a1a1a" stroke-width="1.3"/>
<text x="1502.91" y="1473.8" font-size="23.8" text-anchor="end" textLength="153.52" lengthAdjust="spacingAndGlyphs" transform="rotate(-90 1502.91 1473.8)">NT−HumanRef</text>
<text x="1529.71" y="1474.3" font-size="23.8" text-anchor="end" textLength="78.22" lengthAdjust="spacingAndGlyphs" transform="rotate(-90 1529.71 1474.3)">(500M)</text>
<line x1="1567.67" y1="1452.6" x2="1567.67" y2="1462.6" stroke="#1a1a1a" stroke-width="1.3"/>
<text x="1563.27" y="1473.8" font-size="23.8" text-anchor="end" textLength="113.72" lengthAdjust="spacingAndGlyphs" transform="rotate(-90 1563.27 1473.8)">NT−1000G</text>
<text x="1590.07" y="1474.3" font-size="23.8" text-anchor="end" textLength="78.22" lengthAdjust="spacingAndGlyphs" transform="rotate(-90 1590.07 1474.3)">(500M)</text>
<line x1="1628.03" y1="1452.6" x2="1628.03" y2="1462.6" stroke="#1a1a1a" stroke-width="1.3"/>
<text x="1623.63" y="1473.8" font-size="23.8" text-anchor="end" textLength="113.72" lengthAdjust="spacingAndGlyphs" transform="rotate(-90 1623.63 1473.8)">NT−1000G</text>
<text x="1650.43" y="1474.3" font-size="23.8" text-anchor="end" textLength="60.62" lengthAdjust="spacingAndGlyphs" transform="rotate(-90 1650.43 1474.3)">(2.5B)</text>
<line x1="1688.39" y1="1452.6" x2="1688.39" y2="1462.6" stroke="#1a1a1a" stroke-width="1.3"/>
<text x="1683.99" y="1473.8" font-size="23.8" text-anchor="end" textLength="177.02" lengthAdjust="spacingAndGlyphs" transform="rotate(-90 1683.99 1473.8)">NT−Multispecies</text>
<text x="1710.79" y="1474.3" font-size="23.8" text-anchor="end" textLength="60.62" lengthAdjust="spacingAndGlyphs" transform="rotate(-90 1710.79 1474.3)">(2.5B)</text>
<rect x="1725.2" y="899.5" width="60.5" height="123.6" fill="#fff" stroke="#1a1a1a" stroke-width="1.1"/>
<text x="1743.9" y="961.3" font-size="28.4" text-anchor="middle" textLength="80.91" lengthAdjust="spacingAndGlyphs" transform="rotate(90 1743.9 961.3)">eQTLs</text>
<line x1="98.9" y1="905.02" x2="108.6" y2="905.02" stroke="#1a1a1a" stroke-width="1.3"/>
<text x="85.98" y="912.92" font-size="22.8" text-anchor="end" textLength="35.74" lengthAdjust="spacingAndGlyphs">0.8</text>
<line x1="98.9" y1="933.14" x2="108.6" y2="933.14" stroke="#1a1a1a" stroke-width="1.3"/>
<text x="85.98" y="941.04" font-size="22.8" text-anchor="end" textLength="35.74" lengthAdjust="spacingAndGlyphs">0.6</text>
<line x1="98.9" y1="961.26" x2="108.6" y2="961.26" stroke="#1a1a1a" stroke-width="1.3"/>
<text x="85.98" y="969.16" font-size="22.8" text-anchor="end" textLength="35.74" lengthAdjust="spacingAndGlyphs">0.4</text>
<line x1="98.9" y1="989.38" x2="108.6" y2="989.38" stroke="#1a1a1a" stroke-width="1.3"/>
<text x="85.98" y="997.28" font-size="22.8" text-anchor="end" textLength="35.74" lengthAdjust="spacingAndGlyphs">0.2</text>
<line x1="98.9" y1="1017.5" x2="108.6" y2="1017.5" stroke="#1a1a1a" stroke-width="1.3"/>
<text x="85.3" y="1025.4" font-size="22.8" text-anchor="end">0</text>
<rect x="1725.2" y="1042.9" width="60.5" height="123.6" fill="#fff" stroke="#1a1a1a" stroke-width="1.1"/>
<text x="1743.9" y="1104.7" font-size="28.4" text-anchor="middle" textLength="104.41" lengthAdjust="spacingAndGlyphs" transform="rotate(90 1743.9 1104.7)">meQTLs</text>
<line x1="98.9" y1="1048.42" x2="108.6" y2="1048.42" stroke="#1a1a1a" stroke-width="1.3"/>
<text x="85.98" y="1056.32" font-size="22.8" text-anchor="end" textLength="35.74" lengthAdjust="spacingAndGlyphs">0.8</text>
<line x1="98.9" y1="1076.54" x2="108.6" y2="1076.54" stroke="#1a1a1a" stroke-width="1.3"/>
<text x="85.98" y="1084.44" font-size="22.8" text-anchor="end" textLength="35.74" lengthAdjust="spacingAndGlyphs">0.6</text>
<line x1="98.9" y1="1104.66" x2="108.6" y2="1104.66" stroke="#1a1a1a" stroke-width="1.3"/>
<text x="85.98" y="1112.56" font-size="22.8" text-anchor="end" textLength="35.74" lengthAdjust="spacingAndGlyphs">0.4</text>
<line x1="98.9" y1="1132.78" x2="108.6" y2="1132.78" stroke="#1a1a1a" stroke-width="1.3"/>
<text x="85.98" y="1140.68" font-size="22.8" text-anchor="end" textLength="35.74" lengthAdjust="spacingAndGlyphs">0.2</text>
<line x1="98.9" y1="1160.9" x2="108.6" y2="1160.9" stroke="#1a1a1a" stroke-width="1.3"/>
<text x="85.3" y="1168.8" font-size="22.8" text-anchor="end">0</text>
<rect x="1725.2" y="1185.8" width="60.5" height="123.6" fill="#fff" stroke="#1a1a1a" stroke-width="1.1"/>
<text x="1743.9" y="1247.6" font-size="28.4" text-anchor="middle" textLength="81.91" lengthAdjust="spacingAndGlyphs" transform="rotate(90 1743.9 1247.6)">HGMD</text>
<line x1="98.9" y1="1191.32" x2="108.6" y2="1191.32" stroke="#1a1a1a" stroke-width="1.3"/>
<text x="85.98" y="1199.22" font-size="22.8" text-anchor="end" textLength="35.74" lengthAdjust="spacingAndGlyphs">0.8</text>
<line x1="98.9" y1="1219.44" x2="108.6" y2="1219.44" stroke="#1a1a1a" stroke-width="1.3"/>
<text x="85.98" y="1227.34" font-size="22.8" text-anchor="end" textLength="35.74" lengthAdjust="spacingAndGlyphs">0.6</text>
<line x1="98.9" y1="1247.56" x2="108.6" y2="1247.56" stroke="#1a1a1a" stroke-width="1.3"/>
<text x="85.98" y="1255.46" font-size="22.8" text-anchor="end" textLength="35.74" lengthAdjust="spacingAndGlyphs">0.4</text>
<line x1="98.9" y1="1275.68" x2="108.6" y2="1275.68" stroke="#1a1a1a" stroke-width="1.3"/>
<text x="85.98" y="1283.58" font-size="22.8" text-anchor="end" textLength="35.74" lengthAdjust="spacingAndGlyphs">0.2</text>
<line x1="98.9" y1="1303.8" x2="108.6" y2="1303.8" stroke="#1a1a1a" stroke-width="1.3"/>
<text x="85.3" y="1311.7" font-size="22.8" text-anchor="end">0</text>
<rect x="1725.2" y="1329" width="60.5" height="123.6" fill="#fff" stroke="#1a1a1a" stroke-width="1.1"/>
<text x="1743.9" y="1393.4" font-size="28.4" text-anchor="middle" textLength="90.91" lengthAdjust="spacingAndGlyphs" transform="rotate(90 1743.9 1393.4)">ClinVar</text>
<line x1="98.9" y1="1334.52" x2="108.6" y2="1334.52" stroke="#1a1a1a" stroke-width="1.3"/>
<text x="85.98" y="1342.42" font-size="22.8" text-anchor="end" textLength="35.74" lengthAdjust="spacingAndGlyphs">0.8</text>
<line x1="98.9" y1="1362.64" x2="108.6" y2="1362.64" stroke="#1a1a1a" stroke-width="1.3"/>
<text x="85.98" y="1370.54" font-size="22.8" text-anchor="end" textLength="35.74" lengthAdjust="spacingAndGlyphs">0.6</text>
<line x1="98.9" y1="1390.76" x2="108.6" y2="1390.76" stroke="#1a1a1a" stroke-width="1.3"/>
<text x="85.98" y="1398.66" font-size="22.8" text-anchor="end" textLength="35.74" lengthAdjust="spacingAndGlyphs">0.4</text>
<line x1="98.9" y1="1418.88" x2="108.6" y2="1418.88" stroke="#1a1a1a" stroke-width="1.3"/>
<text x="85.98" y="1426.78" font-size="22.8" text-anchor="end" textLength="35.74" lengthAdjust="spacingAndGlyphs">0.2</text>
<line x1="98.9" y1="1447" x2="108.6" y2="1447" stroke="#1a1a1a" stroke-width="1.3"/>
<text x="85.3" y="1454.9" font-size="22.8" text-anchor="end">0</text>
<text x="22.5" y="1177.5" font-size="28" text-anchor="middle" textLength="58.88" lengthAdjust="spacingAndGlyphs" transform="rotate(-90 22.5 1177.5)">AUC</text>
</g>
<g id="panel-d">
<text x="-1.2" y="1714.8" font-size="38.2" textLength="25.45" lengthAdjust="spacingAndGlyphs" font-weight="bold" stroke="#000" stroke-width="1.3" stroke-linejoin="miter">d</text>
<rect x="120.6" y="1764.6" width="317.9" height="228.6" fill="#fff"/>
<g fill="none" stroke-width="3.3" stroke-linejoin="round" stroke-linecap="butt">
<path d="M134.4 1981.96 L135.57 1980.17 L137.91 1976.58 L141.43 1971.2 L146.11 1964.03 L151.09 1956.6 L156.36 1948.91 L161.92 1940.97 L167.78 1932.77 L173.64 1924.71 L179.49 1916.81 L185.35 1909.05 L191.21 1901.43 L196.33 1894.99 L200.72 1889.72 L204.38 1885.62 L207.31 1882.69 L210.24 1879.69 L213.17 1876.62 L216.1 1873.47 L219.02 1870.25 L221.95 1867.03 L224.88 1863.81 L227.81 1860.59 L230.74 1857.36 L233.67 1854.07 L236.59 1850.7 L239.52 1847.26 L242.45 1843.75 L245.38 1840.31 L248.31 1836.94 L251.24 1833.65 L254.16 1830.42 L257.2 1827.19 L260.34 1823.95 L263.6 1820.69 L266.96 1817.42 L270.21 1814.28 L273.36 1811.28 L276.39 1808.42 L279.32 1805.68 L282.25 1803.12 L285.18 1800.73 L288.11 1798.51 L291.03 1796.46 L293.96 1794.53 L296.89 1792.73 L299.82 1791.05 L302.75 1789.5 L305.67 1788.09 L308.6 1786.82 L311.53 1785.68 L314.46 1784.69 L317.39 1783.75 L320.32 1782.87 L323.24 1782.05 L326.17 1781.29 L329.1 1780.59 L332.03 1779.96 L334.96 1779.4 L337.89 1778.9 L340.81 1778.46 L343.74 1778.08 L346.67 1777.76 L349.6 1777.5 L352.53 1777.26 L355.46 1777.06 L358.38 1776.88 L361.31 1776.73 L364.24 1776.58 L367.17 1776.42 L370.1 1776.25 L373.02 1776.08 L375.95 1775.92 L378.88 1775.77 L381.81 1775.64 L384.74 1775.52 L387.67 1775.41 L390.59 1775.31 L393.52 1775.21 L396.45 1775.12 L399.38 1775.04 L402.31 1774.97 L405.24 1774.9 L408.16 1774.85 L411.07 1774.8 L413.95 1774.75 L416.82 1774.71 L419.66 1774.69 L421.79 1774.66 L423.21 1774.65 L423.92 1774.64" stroke="#A3C5D6"/>
<path d="M134.4 1981.96 L135.2 1980.57 L136.81 1977.79 L139.23 1973.62 L142.45 1968.05 L145.96 1962.28 L149.77 1956.31 L153.87 1950.13 L158.26 1943.75 L162.29 1937.94 L165.95 1932.72 L169.24 1928.07 L172.17 1924 L175.1 1919.99 L178.03 1916.05 L180.96 1912.18 L183.89 1908.37 L186.81 1904.64 L189.74 1900.98 L192.67 1897.39 L195.6 1893.88 L198.53 1890.44 L201.46 1887.07 L204.38 1883.78 L207.31 1880.56 L210.24 1877.04 L213.17 1873.24 L216.1 1869.14 L219.02 1864.74 L221.95 1860.57 L224.88 1856.62 L227.81 1852.88 L230.74 1849.37 L233.67 1846.08 L236.59 1843 L239.52 1840.15 L242.45 1837.51 L245.38 1834.88 L248.31 1832.24 L251.24 1829.6 L254.16 1826.97 L257.2 1824.21 L260.34 1821.33 L263.6 1818.33 L266.96 1815.21 L270.21 1812.26 L273.36 1809.47 L276.39 1806.86 L279.32 1804.42 L282.25 1802.08 L285.18 1799.83 L288.11 1797.69 L291.03 1795.64 L293.96 1793.73 L296.89 1791.95 L299.82 1790.32 L302.75 1788.83 L305.67 1787.48 L308.6 1786.28 L311.53 1785.23 L314.46 1784.32 L317.39 1783.46 L320.32 1782.64 L323.24 1781.86 L326.17 1781.13 L329.1 1780.46 L332.03 1779.86 L334.96 1779.33 L337.89 1778.86 L340.81 1778.44 L343.74 1778.07 L346.67 1777.76 L349.6 1777.5 L352.53 1777.26 L355.46 1777.06 L358.38 1776.88 L361.31 1776.73 L364.24 1776.58 L367.17 1776.42 L370.1 1776.25 L373.02 1776.08 L375.95 1775.92 L378.88 1775.77 L381.81 1775.64 L384.74 1775.52 L387.67 1775.41 L390.59 1775.31 L393.52 1775.21 L396.45 1775.12 L399.38 1775.04 L402.31 1774.97 L405.24 1774.9 L408.16 1774.85 L411.07 1774.8 L413.95 1774.75 L416.82 1774.71 L419.66 1774.69 L421.79 1774.66 L423.21 1774.65 L423.92 1774.64" stroke="#9E70A9"/>
<path d="M134.4 1981.96 L135.2 1980.53 L136.81 1977.68 L139.23 1973.4 L142.45 1967.69 L145.96 1961.79 L149.77 1955.72 L153.87 1949.46 L158.26 1943.02 L162.29 1937.16 L165.95 1931.89 L169.24 1927.2 L172.17 1923.1 L175.1 1919.08 L178.03 1915.12 L180.96 1911.24 L183.89 1907.44 L186.81 1903.7 L189.74 1900.04 L192.67 1896.46 L195.6 1892.94 L198.53 1889.5 L201.46 1886.13 L204.38 1882.84 L207.31 1879.62 L210.24 1876.11 L213.17 1872.3 L216.1 1868.2 L219.02 1863.81 L221.95 1859.63 L224.88 1855.68 L227.81 1851.95 L230.74 1848.43 L233.67 1845.14 L236.59 1842.06 L239.52 1839.21 L242.45 1836.57 L245.38 1833.94 L248.31 1831.3 L251.24 1828.67 L254.16 1826.03 L257.2 1823.27 L260.34 1820.4 L263.6 1817.39 L266.96 1814.27 L270.21 1811.32 L273.36 1808.54 L276.39 1805.93 L279.32 1803.49 L282.25 1801.14 L285.18 1798.9 L288.11 1796.75 L291.03 1794.7 L293.96 1792.8 L296.89 1791.04 L299.82 1789.43 L302.75 1787.96 L305.67 1786.65 L308.6 1785.48 L311.53 1784.45 L314.46 1783.57 L317.39 1782.73 L320.32 1781.93 L323.24 1781.16 L326.17 1780.42 L329.1 1779.77 L332.03 1779.18 L334.96 1778.67 L337.89 1778.23 L340.81 1777.84 L343.74 1777.5 L346.67 1777.22 L349.6 1776.98 L352.53 1776.78 L355.46 1776.6 L358.38 1776.46 L361.31 1776.34 L364.24 1776.22 L367.17 1776.08 L370.1 1775.94 L373.02 1775.8 L375.95 1775.67 L378.88 1775.55 L381.81 1775.45 L384.74 1775.36 L387.67 1775.28 L390.59 1775.2 L393.52 1775.14 L396.45 1775.08 L399.38 1775.02 L402.31 1774.96 L405.24 1774.9 L408.16 1774.85 L411.07 1774.8 L413.95 1774.75 L416.82 1774.71 L419.66 1774.69 L421.79 1774.66 L423.21 1774.65 L423.92 1774.64" stroke="#5F4C80"/>
<path d="M134.4 1981.96 L135.2 1980.61 L136.81 1977.9 L139.23 1973.84 L142.45 1968.42 L145.96 1962.82 L149.77 1957.04 L153.87 1951.07 L158.26 1944.92 L162.29 1939.28 L165.95 1934.16 L169.24 1929.55 L172.17 1925.45 L175.1 1921.38 L178.03 1917.36 L180.96 1913.37 L183.89 1909.41 L186.81 1905.61 L189.74 1901.95 L192.67 1898.43 L195.6 1895.07 L198.53 1891.95 L201.46 1889.1 L204.38 1886.5 L207.31 1884.16 L210.24 1881.82 L213.17 1879.47 L216.1 1877.13 L219.02 1874.79 L221.95 1872.37 L224.88 1869.88 L227.81 1867.32 L230.74 1864.69 L233.67 1862.2 L236.59 1859.85 L239.52 1857.66 L242.45 1855.61 L245.38 1853.41 L248.31 1851.07 L251.24 1848.58 L254.16 1845.94 L257.2 1843.27 L260.34 1840.54 L263.6 1837.78 L266.96 1834.97 L270.21 1832.1 L273.36 1829.17 L276.39 1826.19 L279.32 1823.14 L282.25 1820.34 L285.18 1817.79 L288.11 1815.49 L291.03 1813.44 L293.96 1811.46 L296.89 1809.56 L299.82 1807.73 L302.75 1805.97 L305.67 1804.22 L308.6 1802.46 L311.53 1800.7 L314.46 1798.95 L317.39 1797.23 L320.32 1795.54 L323.24 1793.89 L326.17 1792.28 L329.1 1790.78 L332.03 1789.39 L334.96 1788.11 L337.89 1786.94 L340.81 1785.84 L343.74 1784.82 L346.67 1783.87 L349.6 1782.99 L352.53 1782.18 L355.46 1781.45 L358.38 1780.79 L361.31 1780.2 L364.24 1779.66 L367.17 1779.14 L370.1 1778.67 L373.02 1778.23 L375.95 1777.83 L378.88 1777.46 L381.81 1777.13 L384.74 1776.84 L387.67 1776.56 L390.59 1776.3 L393.52 1776.05 L396.45 1775.81 L399.38 1775.61 L402.31 1775.43 L405.24 1775.29 L408.16 1775.17 L411.07 1775.06 L413.95 1774.96 L416.82 1774.86 L419.66 1774.77 L421.79 1774.71 L423.21 1774.66 L423.92 1774.64" stroke="#3F396B"/>
<path d="M134.4 1981.96 L135.2 1980.68 L136.81 1978.12 L139.23 1974.28 L142.45 1969.15 L145.6 1964.43 L148.67 1960.11 L151.67 1956.19 L154.6 1952.68 L157.53 1949.39 L160.46 1946.31 L163.39 1943.46 L166.32 1940.82 L169.24 1938.26 L172.17 1935.77 L175.1 1933.35 L178.03 1931.01 L180.96 1928.81 L183.89 1926.76 L186.81 1924.86 L189.74 1923.1 L192.67 1921.27 L195.6 1919.37 L198.53 1917.39 L201.46 1915.34 L204.38 1913.29 L207.31 1911.24 L210.24 1909.19 L213.17 1907.14 L216.1 1905.1 L219.02 1903.05 L221.95 1901 L224.88 1898.95 L227.81 1896.9 L230.74 1894.85 L233.67 1892.8 L236.59 1890.75 L239.52 1888.84 L242.45 1887.09 L245.38 1885.48 L248.31 1884.01 L251.24 1882.55 L254.16 1881.08 L257.09 1879.62 L260.02 1878.16 L262.69 1876.79 L265.1 1875.53 L267.26 1874.37 L269.15 1873.31 L271.31 1872.12 L273.72 1870.8 L276.39 1869.36 L279.32 1867.78 L282.25 1866.09 L285.18 1864.27 L288.11 1862.34 L291.03 1860.29 L293.96 1858.39 L296.89 1856.63 L299.82 1855.02 L302.75 1853.56 L305.67 1852.02 L308.6 1850.41 L311.53 1848.73 L314.46 1846.97 L317.39 1845.21 L320.32 1843.46 L323.24 1841.7 L326.17 1839.94 L329.1 1838.18 L332.03 1836.43 L334.96 1834.67 L337.89 1832.91 L340.81 1831.23 L343.74 1829.62 L346.67 1828.08 L349.6 1826.62 L352.53 1825.08 L355.46 1823.47 L358.38 1821.79 L361.31 1820.03 L364.24 1818.27 L367.17 1816.52 L370.1 1814.76 L373.02 1813 L375.95 1811.32 L378.88 1809.71 L381.81 1808.17 L384.74 1806.71 L387.67 1805.1 L390.59 1803.34 L393.52 1801.43 L396.45 1799.39 L399.38 1797.34 L402.31 1795.29 L405.24 1793.24 L408.16 1791.19 L410.8 1789.21 L413.14 1787.31 L415.19 1785.48 L416.95 1783.72 L418.54 1782.04 L419.96 1780.42 L421.21 1778.89 L422.29 1777.42 L423.11 1776.33 L423.65 1775.59 L423.92 1775.23" stroke="#A6D854"/>
<path d="M134.4 1981.96 L135.57 1980.53 L137.91 1977.68 L141.43 1973.4 L146.11 1967.69 L150.36 1962.53 L154.16 1957.91 L157.53 1953.85 L160.46 1950.34 L163.39 1947.04 L166.32 1943.97 L169.24 1941.11 L172.17 1938.48 L175.1 1935.84 L178.03 1933.21 L180.96 1930.57 L183.89 1927.94 L186.81 1925.37 L189.74 1922.88 L192.67 1920.47 L195.6 1918.13 L198.53 1915.71 L201.46 1913.22 L204.38 1910.66 L207.31 1908.02 L210.24 1905.39 L213.17 1902.75 L216.1 1900.12 L219.02 1897.48 L221.95 1894.77 L224.88 1891.99 L227.81 1889.14 L230.74 1886.21 L233.67 1883.35 L236.59 1880.57 L239.52 1877.86 L242.45 1875.23 L245.38 1872.74 L248.31 1870.4 L251.24 1868.2 L254.16 1866.15 L257.2 1864.1 L260.34 1862.05 L263.6 1859.99 L266.96 1857.94 L270.21 1855.89 L273.36 1853.84 L276.39 1851.79 L279.32 1849.74 L282.25 1847.7 L285.18 1845.65 L288.11 1843.6 L291.03 1841.55 L293.96 1839.5 L296.89 1837.45 L299.82 1835.4 L302.75 1833.35 L305.67 1831.38 L308.6 1829.47 L311.53 1827.64 L314.46 1825.89 L317.39 1824.06 L320.32 1822.15 L323.24 1820.18 L326.17 1818.13 L329.1 1816.08 L332.03 1814.03 L334.96 1811.98 L337.89 1809.93 L340.81 1808.02 L343.74 1806.27 L346.67 1804.66 L349.6 1803.19 L352.53 1801.73 L355.46 1800.26 L358.38 1798.8 L361.31 1797.34 L364.24 1795.87 L367.17 1794.41 L370.1 1792.94 L373.02 1791.48 L375.95 1790.12 L378.88 1788.88 L381.81 1787.75 L384.74 1786.72 L387.67 1785.7 L390.59 1784.67 L393.52 1783.65 L396.45 1782.62 L399.38 1781.67 L402.31 1780.79 L405.24 1779.99 L408.16 1779.25 L411.07 1778.48 L413.95 1777.68 L416.82 1776.84 L419.66 1775.96 L421.79 1775.3 L423.21 1774.86 L423.92 1774.64" stroke="#E5C494"/>
<path d="M134.4 1981.96 L134.84 1980.97 L135.72 1979 L137.03 1976.03 L138.79 1972.08 L140.84 1967.72 L143.18 1962.96 L145.82 1957.8 L148.75 1952.24 L151.67 1946.97 L154.6 1941.99 L157.53 1937.31 L160.46 1932.91 L163.39 1928.52 L166.32 1924.13 L169.24 1919.74 L172.17 1915.34 L175.1 1911.02 L178.03 1906.78 L180.96 1902.61 L183.89 1898.51 L186.81 1894.41 L189.74 1890.31 L192.67 1886.21 L195.6 1882.11 L198.53 1878.16 L201.46 1874.35 L204.38 1870.69 L207.31 1867.17 L210.24 1863.66 L213.17 1860.15 L216.1 1856.63 L219.02 1853.12 L221.95 1849.75 L224.88 1846.53 L227.81 1843.46 L230.74 1840.53 L233.67 1837.75 L236.59 1835.11 L239.52 1832.62 L242.45 1830.28 L245.38 1828.01 L248.31 1825.81 L251.24 1823.69 L254.16 1821.64 L257.2 1819.75 L260.34 1818.01 L263.6 1816.43 L266.96 1815 L270.21 1813.7 L273.36 1812.53 L276.39 1811.49 L279.32 1810.57 L282.25 1809.63 L285.18 1808.66 L288.11 1807.66 L291.03 1806.63 L293.96 1805.64 L296.89 1804.69 L299.82 1803.78 L302.75 1802.9 L305.67 1801.98 L308.6 1801.03 L311.53 1800.04 L314.46 1799.02 L317.39 1797.99 L320.32 1796.97 L323.24 1795.94 L326.17 1794.92 L329.1 1793.97 L332.03 1793.09 L334.96 1792.28 L337.89 1791.55 L340.81 1790.86 L343.74 1790.2 L346.67 1789.58 L349.6 1788.99 L352.53 1788.37 L355.46 1787.71 L358.38 1787.01 L361.31 1786.28 L364.24 1785.55 L367.17 1784.82 L370.1 1784.08 L373.02 1783.35 L375.95 1782.66 L378.88 1782 L381.81 1781.38 L384.74 1780.79 L387.67 1780.2 L390.59 1779.62 L393.52 1779.03 L396.45 1778.45 L399.38 1777.9 L402.31 1777.39 L405.24 1776.91 L408.16 1776.47 L411.07 1776.07 L413.95 1775.7 L416.82 1775.37 L419.66 1775.08 L421.79 1774.86 L423.21 1774.71 L423.92 1774.64" stroke="#FC8D62"/>
<path d="M134.4 1981.96 L135.57 1980.83 L137.91 1978.56 L141.43 1975.15 L146.11 1970.61 L150.36 1966.48 L154.16 1962.75 L157.53 1959.41 L160.46 1956.49 L163.39 1953.56 L166.32 1950.63 L169.24 1947.7 L172.17 1944.77 L175.1 1941.84 L178.03 1938.92 L180.96 1935.99 L183.89 1933.06 L186.81 1930.2 L189.74 1927.42 L192.67 1924.71 L195.6 1922.08 L198.53 1919.44 L201.46 1916.81 L204.38 1914.17 L207.31 1911.54 L210.24 1908.9 L213.17 1906.27 L216.1 1903.63 L219.02 1901 L221.95 1898.43 L224.88 1895.94 L227.81 1893.53 L230.74 1891.19 L233.67 1888.84 L236.59 1886.5 L239.52 1884.16 L242.45 1881.82 L245.38 1879.55 L248.31 1877.35 L251.24 1875.23 L254.16 1873.18 L257.2 1871.13 L260.34 1869.09 L263.6 1867.05 L266.96 1865.02 L270.21 1863.05 L273.36 1861.15 L276.39 1859.31 L279.32 1857.54 L282.25 1855.69 L285.18 1853.78 L288.11 1851.8 L291.03 1849.75 L293.96 1847.77 L296.89 1845.87 L299.82 1844.04 L302.75 1842.28 L305.67 1840.53 L308.6 1838.77 L311.53 1837.01 L314.46 1835.26 L317.39 1833.57 L320.32 1831.96 L323.24 1830.42 L326.17 1828.96 L329.1 1827.5 L332.03 1826.03 L334.96 1824.57 L337.89 1823.1 L340.81 1821.64 L343.74 1820.18 L346.67 1818.71 L349.6 1817.25 L352.53 1815.86 L355.46 1814.54 L358.38 1813.29 L361.31 1812.12 L364.24 1810.95 L367.17 1809.78 L370.1 1808.61 L373.02 1807.44 L375.95 1806.23 L378.88 1804.99 L381.81 1803.7 L384.74 1802.39 L387.67 1801.07 L390.59 1799.75 L393.52 1798.43 L396.45 1797.12 L399.38 1795.8 L402.31 1794.48 L405.24 1793.16 L408.16 1791.84 L410.8 1790.53 L413.14 1789.21 L415.19 1787.89 L416.95 1786.57 L418.54 1785.07 L419.96 1783.39 L421.21 1781.52 L422.29 1779.47 L423.11 1777.94 L423.65 1776.91 L423.92 1776.4" stroke="#999999"/>
<path d="M134.4 1981.96 L134.84 1981.19 L135.72 1979.66 L137.03 1977.35 L138.79 1974.28 L140.84 1970.94 L143.18 1967.36 L145.82 1963.51 L148.75 1959.41 L151.67 1955.68 L154.6 1952.31 L157.53 1949.31 L160.46 1946.68 L163.39 1944.26 L166.32 1942.06 L169.24 1940.09 L172.17 1938.33 L175.1 1936.57 L178.03 1934.82 L180.96 1933.06 L183.89 1931.3 L186.81 1929.62 L189.74 1928.01 L192.67 1926.47 L195.6 1925.01 L198.53 1923.4 L201.46 1921.64 L204.38 1919.74 L207.31 1917.69 L210.24 1915.86 L213.17 1914.25 L216.1 1912.86 L219.02 1911.68 L221.95 1910.44 L224.88 1909.12 L227.81 1907.73 L230.74 1906.27 L233.67 1904.8 L236.59 1903.34 L239.52 1901.87 L242.45 1900.41 L245.38 1898.8 L248.31 1897.04 L251.24 1895.14 L254.16 1893.09 L257.2 1890.92 L260.34 1888.64 L263.6 1886.24 L266.96 1883.72 L270.21 1881.29 L273.36 1878.95 L276.39 1876.69 L279.32 1874.52 L282.25 1872.31 L285.18 1870.06 L288.11 1867.76 L291.03 1865.42 L293.96 1862.93 L296.89 1860.29 L299.82 1857.51 L302.75 1854.58 L305.67 1851.8 L308.6 1849.17 L311.53 1846.68 L314.46 1844.33 L317.39 1841.92 L320.32 1839.43 L323.24 1836.87 L326.17 1834.23 L329.1 1831.67 L332.03 1829.18 L334.96 1826.76 L337.89 1824.42 L340.81 1822.23 L343.74 1820.18 L346.67 1818.27 L349.6 1816.52 L352.53 1814.76 L355.46 1813 L358.38 1811.24 L361.31 1809.49 L364.24 1807.73 L367.17 1805.97 L370.1 1804.22 L373.02 1802.46 L375.95 1800.7 L378.88 1798.95 L381.81 1797.19 L384.74 1795.43 L387.67 1793.75 L390.59 1792.14 L393.52 1790.6 L396.45 1789.14 L399.38 1787.67 L402.31 1786.21 L405.24 1784.74 L408.16 1783.28 L411.07 1781.78 L413.95 1780.24 L416.82 1778.67 L419.66 1777.06 L421.79 1775.85 L423.21 1775.04 L423.92 1774.64" stroke="#FBCDE4"/>
</g>
<line x1="124.07" y1="1990.71" x2="431.27" y2="1769.8" stroke="#000" stroke-width="4.1" stroke-dasharray="8.4 8.3" stroke-dashoffset="-0.8"/>
<text x="431.55" y="1922.9" font-size="21.7" text-anchor="end" textLength="231.34" lengthAdjust="spacingAndGlyphs">NT−1000G (2.5B)=0.724</text>
<text x="431.55" y="1951.9" font-size="21.7" text-anchor="end" textLength="244.84" lengthAdjust="spacingAndGlyphs">NT−1000G (500M)=0.722</text>
<text x="431.55" y="1980.9" font-size="21.7" text-anchor="end" textLength="114.34" lengthAdjust="spacingAndGlyphs">GERP=0.715</text>
<rect x="120.6" y="1703.6" width="317.9" height="61" fill="#fff" stroke="#1a1a1a" stroke-width="1.3"/>
<rect x="120.6" y="1764.6" width="317.9" height="228.6" fill="none" stroke="#1a1a1a" stroke-width="1.3"/>
<text x="279.05" y="1745.7" font-size="27.8" text-anchor="middle" textLength="81.16" lengthAdjust="spacingAndGlyphs">eQTLs</text>
<line x1="135.05" y1="1993.2" x2="135.05" y2="2002.8" stroke="#1a1a1a" stroke-width="1.3"/>
<text x="135.05" y="2031.6" font-size="22.8" text-anchor="middle">0</text>
<line x1="207.3" y1="1993.2" x2="207.3" y2="2002.8" stroke="#1a1a1a" stroke-width="1.3"/>
<text x="207.3" y="2031.6" font-size="22.8" text-anchor="middle" textLength="47.14" lengthAdjust="spacingAndGlyphs">0.25</text>
<line x1="279.55" y1="1993.2" x2="279.55" y2="2002.8" stroke="#1a1a1a" stroke-width="1.3"/>
<text x="279.55" y="2031.6" font-size="22.8" text-anchor="middle" textLength="50.54" lengthAdjust="spacingAndGlyphs">0.50</text>
<line x1="351.8" y1="1993.2" x2="351.8" y2="2002.8" stroke="#1a1a1a" stroke-width="1.3"/>
<text x="351.8" y="2031.6" font-size="22.8" text-anchor="middle" textLength="47.14" lengthAdjust="spacingAndGlyphs">0.75</text>
<line x1="424.05" y1="1993.2" x2="424.05" y2="2002.8" stroke="#1a1a1a" stroke-width="1.3"/>
<text x="422.45" y="2031.6" font-size="22.8" text-anchor="middle" textLength="47.14" lengthAdjust="spacingAndGlyphs">1.00</text>
<rect x="457.5" y="1764.6" width="317.9" height="228.6" fill="#fff"/>
<g fill="none" stroke-width="3.3" stroke-linejoin="round" stroke-linecap="butt">
<path d="M471.98 1981.96 L472.75 1980.68 L474.29 1978.12 L476.6 1974.28 L479.67 1969.15 L483.07 1963.7 L486.81 1957.91 L490.87 1951.8 L495.26 1945.36 L499.29 1939.5 L502.95 1934.23 L506.24 1929.55 L509.17 1925.45 L512.1 1921.35 L515.03 1917.25 L517.96 1913.15 L520.89 1909.05 L523.81 1905.02 L526.74 1901.07 L529.67 1897.19 L532.6 1893.38 L535.53 1889.65 L538.46 1885.99 L541.38 1882.4 L544.31 1878.89 L547.24 1875.37 L550.17 1871.86 L553.1 1868.35 L556.02 1864.83 L558.95 1861.39 L561.88 1858.02 L564.81 1854.73 L567.74 1851.51 L570.67 1848.36 L573.59 1845.29 L576.52 1842.28 L579.45 1839.36 L582.38 1836.57 L585.31 1833.94 L588.24 1831.45 L591.16 1829.11 L594.2 1826.76 L597.34 1824.42 L600.6 1822.07 L603.96 1819.72 L607.21 1817.45 L610.36 1815.26 L613.39 1813.14 L616.32 1811.09 L619.25 1809.04 L622.18 1807 L625.11 1804.95 L628.03 1802.9 L630.96 1800.96 L633.89 1799.13 L636.82 1797.41 L639.75 1795.8 L642.67 1794.33 L645.6 1793.02 L648.53 1791.84 L651.46 1790.82 L654.39 1789.82 L657.32 1788.84 L660.24 1787.88 L663.17 1786.94 L666.1 1786.03 L669.03 1785.15 L671.96 1784.3 L674.89 1783.48 L677.81 1782.72 L680.74 1782.02 L683.67 1781.38 L686.6 1780.79 L689.53 1780.24 L692.46 1779.73 L695.38 1779.25 L698.31 1778.81 L701.24 1778.41 L704.17 1778.05 L707.1 1777.72 L710.02 1777.42 L712.95 1777.15 L715.88 1776.9 L718.81 1776.68 L721.74 1776.47 L724.67 1776.27 L727.59 1776.08 L730.52 1775.9 L733.45 1775.72 L736.38 1775.56 L739.31 1775.42 L742.24 1775.29 L745.16 1775.17 L747.98 1775.06 L750.69 1774.96 L753.29 1774.86 L755.78 1774.77 L757.65 1774.71 L758.89 1774.66 L759.51 1774.64" stroke="#A3C5D6"/>
<path d="M471.98 1981.96 L472.75 1980.83 L474.29 1978.56 L476.6 1975.15 L479.67 1970.61 L483.07 1965.82 L486.81 1960.77 L490.87 1955.46 L495.26 1949.9 L499.29 1944.85 L502.95 1940.31 L506.24 1936.28 L509.17 1932.77 L512.1 1929.18 L515.03 1925.52 L517.96 1921.79 L520.89 1917.98 L523.81 1914.1 L526.74 1910.15 L529.67 1906.12 L532.6 1902.02 L535.53 1898.07 L538.46 1894.26 L541.38 1890.6 L544.31 1887.09 L547.24 1883.57 L550.17 1880.06 L553.1 1876.54 L556.02 1873.03 L558.95 1869.59 L561.88 1866.22 L564.81 1862.93 L567.74 1859.71 L570.67 1856.49 L573.59 1853.27 L576.52 1850.04 L579.45 1846.82 L582.38 1843.75 L585.31 1840.82 L588.24 1838.04 L591.16 1835.4 L594.2 1832.68 L597.34 1829.88 L600.6 1826.98 L603.96 1824.01 L607.21 1821.24 L610.36 1818.68 L613.39 1816.32 L616.32 1814.17 L619.25 1812.03 L622.18 1809.89 L625.11 1807.75 L628.03 1805.61 L630.96 1803.57 L633.89 1801.64 L636.82 1799.81 L639.75 1798.08 L642.67 1796.49 L645.6 1795.02 L648.53 1793.69 L651.46 1792.49 L654.39 1791.31 L657.32 1790.15 L660.24 1789.02 L663.17 1787.91 L666.1 1786.85 L669.03 1785.86 L671.96 1784.92 L674.89 1784.04 L677.81 1783.23 L680.74 1782.48 L683.67 1781.8 L686.6 1781.19 L689.53 1780.61 L692.46 1780.09 L695.38 1779.6 L698.31 1779.17 L701.24 1778.76 L704.17 1778.37 L707.1 1778.02 L710.02 1777.7 L712.95 1777.4 L715.88 1777.12 L718.81 1776.87 L721.74 1776.63 L724.67 1776.41 L727.59 1776.21 L730.52 1776.02 L733.45 1775.84 L736.38 1775.67 L739.31 1775.51 L742.24 1775.36 L745.16 1775.21 L747.98 1775.08 L750.69 1774.96 L753.29 1774.86 L755.78 1774.77 L757.65 1774.71 L758.89 1774.66 L759.51 1774.64" stroke="#9E70A9"/>
<path d="M471.98 1981.96 L472.75 1980.68 L474.29 1978.12 L476.6 1974.28 L479.67 1969.15 L483.07 1963.84 L486.81 1958.35 L490.87 1952.68 L495.26 1946.82 L499.29 1941.41 L502.95 1936.43 L506.24 1931.89 L509.17 1927.79 L512.1 1923.76 L515.03 1919.81 L517.96 1915.93 L520.89 1912.12 L523.81 1908.24 L526.74 1904.29 L529.67 1900.26 L532.6 1896.16 L535.53 1892.21 L538.46 1888.4 L541.38 1884.74 L544.31 1881.23 L547.24 1877.79 L550.17 1874.42 L553.1 1871.13 L556.02 1867.91 L558.95 1864.69 L561.88 1861.46 L564.81 1858.24 L567.74 1855.02 L570.67 1851.8 L573.59 1848.58 L576.52 1845.36 L579.45 1842.14 L582.38 1839.14 L585.31 1836.35 L588.24 1833.79 L591.16 1831.45 L594.2 1829.05 L597.34 1826.58 L600.6 1824.05 L603.96 1821.46 L607.21 1819.03 L610.36 1816.76 L613.39 1814.66 L616.32 1812.71 L619.25 1810.73 L622.18 1808.73 L625.11 1806.71 L628.03 1804.66 L630.96 1802.7 L633.89 1800.84 L636.82 1799.08 L639.75 1797.41 L642.67 1795.86 L645.6 1794.44 L648.53 1793.15 L651.46 1791.98 L654.39 1790.82 L657.32 1789.68 L660.24 1788.55 L663.17 1787.44 L666.1 1786.38 L669.03 1785.39 L671.96 1784.45 L674.89 1783.57 L677.81 1782.77 L680.74 1782.04 L683.67 1781.38 L686.6 1780.79 L689.53 1780.24 L692.46 1779.73 L695.38 1779.25 L698.31 1778.81 L701.24 1778.41 L704.17 1778.05 L707.1 1777.72 L710.02 1777.42 L712.95 1777.15 L715.88 1776.9 L718.81 1776.68 L721.74 1776.47 L724.67 1776.27 L727.59 1776.08 L730.52 1775.9 L733.45 1775.72 L736.38 1775.56 L739.31 1775.42 L742.24 1775.29 L745.16 1775.17 L747.98 1775.06 L750.69 1774.96 L753.29 1774.86 L755.78 1774.77 L757.65 1774.71 L758.89 1774.66 L759.51 1774.64" stroke="#5F4C80"/>
<path d="M471.98 1981.96 L472.75 1980.83 L474.29 1978.56 L476.6 1975.15 L479.67 1970.61 L483.07 1965.97 L486.81 1961.21 L490.87 1956.34 L495.26 1951.36 L499.29 1946.75 L502.95 1942.5 L506.24 1938.62 L509.17 1935.11 L512.1 1931.74 L515.03 1928.52 L517.96 1925.45 L520.89 1922.52 L523.81 1919.59 L526.74 1916.66 L529.67 1913.73 L532.6 1910.81 L535.53 1908.02 L538.46 1905.39 L541.38 1902.9 L544.31 1900.56 L547.24 1898.14 L550.17 1895.65 L553.1 1893.09 L556.02 1890.45 L558.95 1887.82 L561.88 1885.18 L564.81 1882.55 L567.74 1879.91 L570.67 1877.28 L573.59 1874.64 L576.52 1872.01 L579.45 1869.37 L582.38 1866.88 L585.31 1864.54 L588.24 1862.34 L591.16 1860.29 L594.2 1858.09 L597.34 1855.73 L600.6 1853.23 L603.96 1850.56 L607.21 1847.91 L610.36 1845.28 L613.39 1842.66 L616.32 1840.05 L619.25 1837.65 L622.18 1835.47 L625.11 1833.5 L628.03 1831.74 L630.96 1829.91 L633.89 1828.01 L636.82 1826.03 L639.75 1823.98 L642.67 1821.93 L645.6 1819.88 L648.53 1817.83 L651.46 1815.78 L654.39 1813.88 L657.32 1812.12 L660.24 1810.51 L663.17 1809.05 L666.1 1807.51 L669.03 1805.9 L671.96 1804.22 L674.89 1802.46 L677.81 1800.78 L680.74 1799.17 L683.67 1797.63 L686.6 1796.16 L689.53 1794.77 L692.46 1793.46 L695.38 1792.21 L698.31 1791.04 L701.24 1789.9 L704.17 1788.81 L707.1 1787.75 L710.02 1786.72 L712.95 1785.73 L715.88 1784.78 L718.81 1783.87 L721.74 1782.99 L724.67 1782.18 L727.59 1781.45 L730.52 1780.79 L733.45 1780.2 L736.38 1779.62 L739.31 1779.03 L742.24 1778.45 L745.16 1777.86 L747.98 1777.28 L750.69 1776.69 L753.29 1776.11 L755.78 1775.52 L757.65 1775.08 L758.89 1774.79 L759.51 1774.64" stroke="#3F396B"/>
<path d="M471.98 1981.96 L472.75 1980.97 L474.29 1979 L476.6 1976.03 L479.67 1972.08 L483.07 1968.09 L486.81 1964.06 L490.87 1960 L495.26 1955.9 L499.29 1952.17 L502.95 1948.8 L506.24 1945.8 L509.17 1943.16 L512.1 1940.6 L515.03 1938.11 L517.96 1935.7 L520.89 1933.35 L523.81 1931.08 L526.74 1928.89 L529.67 1926.76 L532.6 1924.71 L535.53 1922.59 L538.46 1920.4 L541.38 1918.13 L544.31 1915.78 L547.24 1913.59 L550.17 1911.54 L553.1 1909.63 L556.02 1907.88 L558.95 1906.19 L561.88 1904.58 L564.81 1903.05 L567.74 1901.58 L570.67 1900.04 L573.59 1898.43 L576.52 1896.75 L579.45 1894.99 L582.38 1893.31 L585.31 1891.7 L588.24 1890.16 L591.16 1888.7 L594.2 1887.09 L597.34 1885.34 L600.6 1883.45 L603.96 1881.42 L607.21 1879.38 L610.36 1877.33 L613.39 1875.27 L616.32 1873.2 L619.25 1871.29 L622.18 1869.52 L625.11 1867.91 L628.03 1866.44 L630.96 1864.9 L633.89 1863.29 L636.82 1861.61 L639.75 1859.85 L642.67 1858.1 L645.6 1856.34 L648.53 1854.58 L651.46 1852.83 L654.39 1851 L657.32 1849.09 L660.24 1847.12 L663.17 1845.07 L666.1 1843.09 L669.03 1841.19 L671.96 1839.36 L674.89 1837.6 L677.81 1835.77 L680.74 1833.87 L683.67 1831.89 L686.6 1829.84 L689.53 1827.86 L692.46 1825.96 L695.38 1824.13 L698.31 1822.37 L701.24 1820.61 L704.17 1818.86 L707.1 1817.1 L710.02 1815.34 L712.95 1813.59 L715.88 1811.83 L718.81 1810.07 L721.74 1808.32 L724.67 1806.49 L727.59 1804.58 L730.52 1802.61 L733.45 1800.56 L736.38 1798.43 L739.31 1796.24 L742.24 1793.97 L745.16 1791.63 L747.8 1789.36 L750.14 1787.16 L752.19 1785.04 L753.95 1782.99 L755.45 1781.16 L756.69 1779.55 L757.68 1778.16 L758.41 1776.98 L758.96 1776.11 L759.33 1775.52 L759.51 1775.23" stroke="#A6D854"/>
<path d="M471.98 1981.96 L472.75 1981.27 L474.29 1979.88 L476.6 1977.79 L479.67 1975.01 L483.07 1971.9 L486.81 1968.46 L490.87 1964.69 L495.26 1960.59 L499.29 1956.78 L502.95 1953.27 L506.24 1950.04 L509.17 1947.12 L512.1 1944.22 L515.03 1941.37 L517.96 1938.55 L520.89 1935.77 L523.81 1932.99 L526.74 1930.2 L529.67 1927.42 L532.6 1924.64 L535.53 1921.86 L538.46 1919.08 L541.38 1916.3 L544.31 1913.51 L547.24 1910.73 L550.17 1907.95 L553.1 1905.17 L556.02 1902.39 L558.95 1899.64 L561.88 1896.93 L564.81 1894.26 L567.74 1891.63 L570.67 1889.06 L573.59 1886.57 L576.52 1884.16 L579.45 1881.82 L582.38 1879.62 L585.31 1877.57 L588.24 1875.67 L591.16 1873.91 L594.2 1872.03 L597.34 1870.02 L600.6 1867.88 L603.96 1865.61 L607.21 1863.38 L610.36 1861.19 L613.39 1859.03 L616.32 1856.9 L619.25 1854.72 L622.18 1852.48 L625.11 1850.19 L628.03 1847.85 L630.96 1845.65 L633.89 1843.6 L636.82 1841.7 L639.75 1839.94 L642.67 1838.11 L645.6 1836.21 L648.53 1834.23 L651.46 1832.18 L654.39 1830.2 L657.32 1828.3 L660.24 1826.47 L663.17 1824.71 L666.1 1822.96 L669.03 1821.2 L671.96 1819.44 L674.89 1817.69 L677.81 1815.93 L680.74 1814.17 L683.67 1812.42 L686.6 1810.66 L689.53 1808.9 L692.46 1807.14 L695.38 1805.39 L698.31 1803.63 L701.24 1801.87 L704.17 1800.12 L707.1 1798.36 L710.02 1796.6 L712.95 1794.92 L715.88 1793.31 L718.81 1791.77 L721.74 1790.31 L724.67 1788.92 L727.59 1787.6 L730.52 1786.35 L733.45 1785.18 L736.38 1784.05 L739.31 1782.95 L742.24 1781.89 L745.16 1780.86 L747.98 1779.84 L750.69 1778.81 L753.29 1777.79 L755.78 1776.76 L757.65 1776 L758.89 1775.48 L759.51 1775.23" stroke="#E5C494"/>
<path d="M471.98 1981.96 L472.39 1980.97 L473.19 1979 L474.4 1976.03 L476.01 1972.08 L477.95 1967.8 L480.22 1963.18 L482.82 1958.24 L485.75 1952.97 L488.67 1947.85 L491.6 1942.87 L494.53 1938.04 L497.46 1933.35 L500.39 1928.74 L503.32 1924.2 L506.24 1919.74 L509.17 1915.34 L512.1 1911.02 L515.03 1906.78 L517.96 1902.61 L520.89 1898.51 L523.81 1894.41 L526.74 1890.31 L529.67 1886.21 L532.6 1882.11 L535.53 1878.16 L538.46 1874.35 L541.38 1870.69 L544.31 1867.17 L547.24 1863.73 L550.17 1860.37 L553.1 1857.07 L556.02 1853.85 L558.95 1850.7 L561.88 1847.63 L564.81 1844.63 L567.74 1841.7 L570.67 1838.88 L573.59 1836.17 L576.52 1833.57 L579.45 1831.08 L582.38 1828.81 L585.31 1826.76 L588.24 1824.93 L591.16 1823.32 L594.2 1821.76 L597.34 1820.26 L600.6 1818.8 L603.96 1817.4 L607.21 1816.04 L610.36 1814.72 L613.39 1813.44 L616.32 1812.21 L619.25 1811 L622.18 1809.8 L625.11 1808.61 L628.03 1807.44 L630.96 1806.27 L633.89 1805.1 L636.82 1803.92 L639.75 1802.75 L642.67 1801.76 L645.6 1800.96 L648.53 1800.34 L651.46 1799.9 L654.39 1799.24 L657.32 1798.36 L660.24 1797.26 L663.17 1795.94 L666.1 1794.7 L669.03 1793.53 L671.96 1792.43 L674.89 1791.41 L677.81 1790.42 L680.74 1789.47 L683.67 1788.55 L686.6 1787.67 L689.53 1786.83 L692.46 1786.02 L695.38 1785.26 L698.31 1784.52 L701.24 1783.87 L704.17 1783.28 L707.1 1782.77 L710.02 1782.33 L712.95 1781.85 L715.88 1781.34 L718.81 1780.79 L721.74 1780.2 L724.67 1779.66 L727.59 1779.14 L730.52 1778.67 L733.45 1778.23 L736.38 1777.79 L739.31 1777.35 L742.24 1776.91 L745.16 1776.47 L747.98 1776.07 L750.69 1775.7 L753.29 1775.37 L755.78 1775.08 L757.65 1774.86 L758.89 1774.71 L759.51 1774.64" stroke="#FC8D62"/>
<path d="M471.98 1981.96 L472.75 1981.19 L474.29 1979.66 L476.6 1977.35 L479.67 1974.28 L483.07 1970.87 L486.81 1967.14 L490.87 1963.07 L495.26 1958.68 L499.29 1954.66 L502.95 1951 L506.24 1947.7 L509.17 1944.77 L512.1 1941.84 L515.03 1938.92 L517.96 1935.99 L520.89 1933.06 L523.81 1930.2 L526.74 1927.42 L529.67 1924.71 L532.6 1922.08 L535.53 1919.37 L538.46 1916.59 L541.38 1913.73 L544.31 1910.81 L547.24 1907.95 L550.17 1905.17 L553.1 1902.46 L556.02 1899.82 L558.95 1897.19 L561.88 1894.55 L564.81 1891.92 L567.74 1889.28 L570.67 1886.72 L573.59 1884.23 L576.52 1881.82 L579.45 1879.47 L582.38 1877.35 L585.31 1875.45 L588.24 1873.76 L591.16 1872.3 L594.2 1870.77 L597.34 1869.16 L600.6 1867.49 L603.96 1865.75 L607.21 1864.08 L610.36 1862.47 L613.39 1860.92 L616.32 1859.44 L619.25 1857.82 L622.18 1856.05 L625.11 1854.14 L628.03 1852.09 L630.96 1850.12 L633.89 1848.21 L636.82 1846.38 L639.75 1844.63 L642.67 1842.87 L645.6 1841.11 L648.53 1839.36 L651.46 1837.6 L654.39 1835.92 L657.32 1834.3 L660.24 1832.77 L663.17 1831.3 L666.1 1829.77 L669.03 1828.16 L671.96 1826.47 L674.89 1824.71 L677.81 1823.03 L680.74 1821.42 L683.67 1819.88 L686.6 1818.42 L689.53 1816.95 L692.46 1815.49 L695.38 1814.03 L698.31 1812.56 L701.24 1811.13 L704.17 1809.74 L707.1 1808.39 L710.02 1807.07 L712.95 1805.75 L715.88 1804.44 L718.81 1803.12 L721.74 1801.8 L724.67 1800.52 L727.59 1799.28 L730.52 1798.07 L733.45 1796.9 L736.38 1795.58 L739.31 1794.11 L742.24 1792.5 L745.16 1790.75 L747.8 1788.99 L750.14 1787.23 L752.19 1785.48 L753.95 1783.72 L755.45 1782.04 L756.69 1780.42 L757.68 1778.89 L758.41 1777.42 L758.96 1776.33 L759.33 1775.59 L759.51 1775.23" stroke="#999999"/>
<path d="M471.98 1981.96 L472.75 1981.56 L474.29 1980.75 L476.6 1979.55 L479.67 1977.94 L483.07 1976.14 L486.81 1974.17 L490.87 1972.01 L495.26 1969.66 L499.29 1967.39 L502.95 1965.2 L506.24 1963.07 L509.17 1961.02 L512.1 1959.12 L515.03 1957.36 L517.96 1955.75 L520.89 1954.29 L523.81 1952.75 L526.74 1951.14 L529.67 1949.46 L532.6 1947.7 L535.53 1945.94 L538.46 1944.19 L541.38 1942.43 L544.31 1940.67 L547.24 1938.77 L550.17 1936.72 L553.1 1934.52 L556.02 1932.18 L558.95 1929.84 L561.88 1927.5 L564.81 1925.15 L567.74 1922.81 L570.67 1920.32 L573.59 1917.69 L576.52 1914.9 L579.45 1911.98 L582.38 1909.12 L585.31 1906.34 L588.24 1903.63 L591.16 1901 L594.2 1898.08 L597.34 1894.89 L600.6 1891.41 L603.96 1887.66 L606.92 1884.32 L609.48 1881.39 L611.64 1878.88 L613.39 1876.77 L615.22 1875.19 L617.13 1874.14 L619.1 1873.62 L621.15 1873.62 L623.2 1873.25 L625.25 1872.52 L627.3 1871.42 L629.35 1869.96 L631.62 1868.35 L634.11 1866.59 L636.82 1864.69 L639.75 1862.64 L642.67 1860.73 L645.6 1858.98 L648.53 1857.36 L651.46 1855.9 L654.39 1854.44 L657.32 1852.97 L660.24 1851.51 L663.17 1850.04 L666.1 1848.58 L669.03 1847.12 L671.96 1845.65 L674.89 1844.19 L677.81 1842.72 L680.74 1841.26 L683.67 1839.8 L686.6 1838.33 L689.53 1836.79 L692.46 1835.18 L695.38 1833.5 L698.31 1831.74 L701.24 1829.99 L704.17 1828.23 L707.1 1826.47 L710.02 1824.71 L712.95 1822.96 L715.88 1821.2 L718.81 1819.44 L721.74 1817.69 L724.67 1815.71 L727.59 1813.51 L730.52 1811.1 L733.45 1808.46 L736.38 1805.75 L739.31 1802.97 L742.24 1800.12 L745.16 1797.19 L747.8 1794.41 L750.14 1791.77 L752.19 1789.28 L753.95 1786.94 L755.45 1784.67 L756.69 1782.47 L757.68 1780.35 L758.41 1778.3 L758.96 1776.76 L759.33 1775.74 L759.51 1775.23" stroke="#FBCDE4"/>
</g>
<line x1="460.97" y1="1990.71" x2="768.17" y2="1769.8" stroke="#000" stroke-width="4.1" stroke-dasharray="8.4 8.3" stroke-dashoffset="-0.8"/>
<text x="766.85" y="1922.9" font-size="21.7" text-anchor="end" textLength="113.84" lengthAdjust="spacingAndGlyphs">GERP=0.717</text>
<text x="766.85" y="1951.9" font-size="21.7" text-anchor="end" textLength="285.84" lengthAdjust="spacingAndGlyphs">NT−HumanRef (500M)=0.708</text>
<text x="766.85" y="1980.9" font-size="21.7" text-anchor="end" textLength="234.84" lengthAdjust="spacingAndGlyphs">NT−1000G (2.5B)=0.704</text>
<rect x="457.5" y="1703.6" width="317.9" height="61" fill="#fff" stroke="#1a1a1a" stroke-width="1.3"/>
<rect x="457.5" y="1764.6" width="317.9" height="228.6" fill="none" stroke="#1a1a1a" stroke-width="1.3"/>
<text x="615.95" y="1745.7" font-size="27.8" text-anchor="middle" textLength="105.36" lengthAdjust="spacingAndGlyphs">meQTLs</text>
<line x1="471.95" y1="1993.2" x2="471.95" y2="2002.8" stroke="#1a1a1a" stroke-width="1.3"/>
<text x="471.95" y="2031.6" font-size="22.8" text-anchor="middle">0</text>
<line x1="544.2" y1="1993.2" x2="544.2" y2="2002.8" stroke="#1a1a1a" stroke-width="1.3"/>
<text x="544.2" y="2031.6" font-size="22.8" text-anchor="middle" textLength="47.14" lengthAdjust="spacingAndGlyphs">0.25</text>
<line x1="616.45" y1="1993.2" x2="616.45" y2="2002.8" stroke="#1a1a1a" stroke-width="1.3"/>
<text x="616.45" y="2031.6" font-size="22.8" text-anchor="middle" textLength="50.54" lengthAdjust="spacingAndGlyphs">0.50</text>
<line x1="688.7" y1="1993.2" x2="688.7" y2="2002.8" stroke="#1a1a1a" stroke-width="1.3"/>
<text x="688.7" y="2031.6" font-size="22.8" text-anchor="middle" textLength="47.14" lengthAdjust="spacingAndGlyphs">0.75</text>
<line x1="760.95" y1="1993.2" x2="760.95" y2="2002.8" stroke="#1a1a1a" stroke-width="1.3"/>
<text x="759.35" y="2031.6" font-size="22.8" text-anchor="middle" textLength="47.14" lengthAdjust="spacingAndGlyphs">1.00</text>
<rect x="794.4" y="1764.6" width="317.9" height="228.6" fill="#fff"/>
<g fill="none" stroke-width="3.3" stroke-linejoin="round" stroke-linecap="butt">
<path d="M808.98 1982.55 L809.17 1978.89 L809.53 1971.57 L810.08 1960.59 L810.81 1945.94 L811.58 1933.13 L812.39 1922.15 L813.23 1913 L814.11 1905.68 L815.06 1898.95 L816.08 1892.8 L817.18 1887.23 L818.35 1882.25 L819.53 1877.57 L820.7 1873.18 L821.87 1869.08 L823.04 1865.27 L824.21 1861.83 L825.38 1858.76 L826.55 1856.05 L827.72 1853.7 L829.04 1851.22 L830.51 1848.58 L832.12 1845.8 L833.87 1842.87 L835.7 1840.01 L837.61 1837.23 L839.58 1834.52 L841.63 1831.89 L843.68 1829.33 L845.73 1826.84 L847.78 1824.42 L849.83 1822.08 L851.96 1819.81 L854.15 1817.61 L856.42 1815.49 L858.76 1813.44 L861.25 1811.39 L863.89 1809.34 L866.67 1807.29 L869.6 1805.24 L872.53 1803.27 L875.46 1801.36 L878.38 1799.53 L881.31 1797.77 L884.24 1796.09 L887.17 1794.48 L890.1 1792.94 L893.02 1791.48 L895.95 1790.16 L898.88 1788.99 L901.81 1787.96 L904.74 1787.09 L907.67 1786.28 L910.59 1785.55 L913.52 1784.89 L916.45 1784.3 L919.38 1783.76 L922.31 1783.24 L925.24 1782.77 L928.16 1782.33 L931.2 1781.88 L934.34 1781.43 L937.6 1780.98 L940.96 1780.52 L945.68 1780.03 L951.75 1779.52 L959.18 1778.98 L967.96 1778.42 L976.75 1777.9 L985.53 1777.45 L994.32 1777.04 L1003.1 1776.69 L1011.89 1776.37 L1020.67 1776.08 L1029.46 1775.81 L1038.24 1775.58 L1047.65 1775.37 L1057.68 1775.18 L1068.33 1775.01 L1079.6 1774.86 L1088.06 1774.75 L1093.69 1774.68 L1096.51 1774.64" stroke="#A3C5D6"/>
<path d="M808.98 1982.55 L809.17 1979.62 L809.53 1973.76 L810.08 1964.98 L810.81 1953.27 L811.58 1942.87 L812.39 1933.79 L813.23 1926.03 L814.11 1919.59 L815.06 1913.66 L816.08 1908.24 L817.18 1903.34 L818.35 1898.95 L819.53 1894.85 L820.7 1891.04 L821.87 1887.53 L823.04 1884.3 L824.21 1881.16 L825.38 1878.08 L826.55 1875.08 L827.72 1872.15 L829.04 1869.08 L830.51 1865.86 L832.12 1862.49 L833.87 1858.98 L835.7 1855.53 L837.61 1852.17 L839.58 1848.87 L841.63 1845.65 L843.68 1842.58 L845.73 1839.65 L847.78 1836.87 L849.83 1834.23 L851.96 1831.6 L854.15 1828.96 L856.42 1826.33 L858.76 1823.69 L861.25 1821.13 L863.89 1818.64 L866.67 1816.22 L869.6 1813.88 L872.53 1811.61 L875.46 1809.41 L878.38 1807.29 L881.31 1805.24 L884.24 1803.27 L887.17 1801.36 L890.1 1799.53 L893.02 1797.77 L895.95 1796.16 L898.88 1794.7 L901.81 1793.38 L904.74 1792.21 L907.67 1791.15 L910.59 1790.2 L913.52 1789.36 L916.45 1788.62 L919.38 1787.89 L922.31 1787.16 L925.24 1786.43 L928.16 1785.7 L931.2 1784.98 L934.34 1784.28 L937.6 1783.6 L940.96 1782.94 L945.68 1782.23 L951.75 1781.47 L959.18 1780.66 L967.96 1779.8 L976.75 1779.03 L985.53 1778.37 L994.32 1777.8 L1003.1 1777.34 L1011.89 1776.91 L1020.67 1776.53 L1029.46 1776.19 L1038.24 1775.9 L1047.65 1775.63 L1057.68 1775.38 L1068.33 1775.15 L1079.6 1774.95 L1088.06 1774.8 L1093.69 1774.69 L1096.51 1774.64" stroke="#9E70A9"/>
<path d="M808.98 1982.55 L809.17 1978.16 L809.53 1969.37 L810.08 1956.19 L810.81 1938.62 L811.51 1923.25 L812.17 1910.07 L812.79 1899.09 L813.38 1890.31 L813.96 1882.4 L814.55 1875.37 L815.13 1869.22 L815.72 1863.95 L816.38 1858.98 L817.11 1854.29 L817.92 1849.9 L818.79 1845.8 L819.75 1841.99 L820.77 1838.48 L821.87 1835.26 L823.04 1832.33 L824.21 1829.62 L825.38 1827.13 L826.55 1824.86 L827.72 1822.81 L829.04 1820.76 L830.51 1818.71 L832.12 1816.66 L833.87 1814.61 L835.7 1812.64 L837.61 1810.73 L839.58 1808.9 L841.63 1807.14 L843.68 1805.46 L845.73 1803.85 L847.78 1802.31 L849.83 1800.85 L851.96 1799.46 L854.15 1798.14 L856.42 1796.9 L858.76 1795.72 L861.25 1794.59 L863.89 1793.49 L866.67 1792.43 L869.6 1791.41 L872.53 1790.42 L875.46 1789.47 L878.38 1788.55 L881.31 1787.67 L884.24 1786.83 L887.17 1786.02 L890.1 1785.26 L893.02 1784.52 L895.95 1783.87 L898.88 1783.28 L901.81 1782.77 L904.74 1782.33 L907.67 1781.93 L910.59 1781.56 L913.52 1781.23 L916.45 1780.94 L919.38 1780.68 L922.31 1780.46 L925.24 1780.28 L928.16 1780.13 L931.2 1779.96 L934.34 1779.75 L937.6 1779.52 L940.96 1779.25 L945.68 1778.96 L951.75 1778.64 L959.18 1778.29 L967.96 1777.91 L976.75 1777.55 L985.53 1777.21 L994.32 1776.9 L1003.1 1776.6 L1011.89 1776.33 L1020.67 1776.06 L1029.46 1775.81 L1038.24 1775.58 L1047.65 1775.37 L1057.68 1775.18 L1068.33 1775.01 L1079.6 1774.86 L1088.06 1774.75 L1093.69 1774.68 L1096.51 1774.64" stroke="#5F4C80"/>
<path d="M808.98 1982.55 L809.09 1975.96 L809.31 1962.78 L809.64 1943.02 L810.08 1916.66 L810.56 1894.7 L811.07 1877.13 L811.62 1863.95 L812.2 1855.17 L812.79 1847.48 L813.38 1840.89 L813.96 1835.4 L814.55 1831.01 L815.21 1826.91 L815.94 1823.1 L816.74 1819.59 L817.62 1816.37 L818.57 1813.37 L819.6 1810.59 L820.7 1808.02 L821.87 1805.68 L823.11 1803.41 L824.43 1801.22 L825.82 1799.09 L827.29 1797.04 L828.82 1795.14 L830.43 1793.38 L832.12 1791.77 L833.87 1790.31 L835.7 1788.92 L837.61 1787.6 L839.58 1786.35 L841.63 1785.18 L843.9 1784.08 L846.39 1783.06 L849.1 1782.11 L852.03 1781.23 L854.96 1780.46 L857.89 1779.8 L860.81 1779.25 L863.74 1778.81 L867.04 1778.41 L870.7 1778.05 L874.72 1777.72 L879.12 1777.42 L883.87 1777.15 L889 1776.9 L894.49 1776.68 L900.35 1776.47 L907.04 1776.26 L914.58 1776.05 L922.96 1775.83 L932.17 1775.6 L943.48 1775.41 L956.87 1775.25 L972.35 1775.12 L989.92 1775.02 L1008.12 1774.93 L1026.93 1774.86 L1046.37 1774.79 L1066.42 1774.73 L1081.47 1774.69 L1091.5 1774.66 L1096.51 1774.64" stroke="#3F396B"/>
<path d="M808.98 1982.55 L808.98 1970.1 L808.98 1945.21 L808.98 1907.88 L808.98 1858.1 L809.06 1820.47 L809.2 1794.99 L809.42 1781.67 L809.72 1780.5 L810.19 1779.47 L810.85 1778.59 L811.69 1777.86 L812.72 1777.28 L815.02 1776.78 L818.61 1776.37 L823.48 1776.05 L829.63 1775.81 L837.17 1775.61 L846.1 1775.43 L856.42 1775.29 L868.13 1775.17 L880.69 1775.06 L894.08 1774.96 L908.32 1774.86 L923.39 1774.77 L944.1 1774.7 L970.45 1774.66 L1002.44 1774.64 L1040.07 1774.64 L1068.29 1774.64 L1087.11 1774.64 L1096.51 1774.64" stroke="#A6D854"/>
<path d="M808.98 1982.55 L809.39 1981.82 L810.19 1980.35 L811.4 1978.16 L813.01 1975.23 L814.58 1972.52 L816.12 1970.03 L817.62 1967.76 L819.09 1965.71 L820.55 1963.73 L822.01 1961.83 L823.48 1960 L824.94 1958.24 L826.77 1955.9 L828.97 1952.97 L831.53 1949.46 L834.46 1945.36 L837.39 1941.33 L840.32 1937.38 L843.24 1933.5 L846.17 1929.69 L849.1 1925.96 L852.03 1922.3 L854.96 1918.71 L857.89 1915.2 L860.81 1911.68 L863.74 1908.17 L866.67 1904.66 L869.6 1901.14 L872.53 1897.63 L875.46 1894.11 L878.38 1890.6 L881.31 1887.09 L884.24 1883.65 L887.17 1880.28 L890.1 1876.98 L893.02 1873.76 L895.59 1871.05 L897.78 1868.86 L899.61 1867.17 L901.08 1866 L902.54 1864.9 L904.01 1863.88 L905.47 1862.93 L906.93 1862.05 L908.76 1860.88 L910.96 1859.41 L913.52 1857.66 L916.45 1855.61 L919.38 1853.56 L922.31 1851.51 L925.24 1849.46 L928.16 1847.41 L931.2 1845.21 L934.34 1842.87 L937.6 1840.37 L940.96 1837.73 L944.21 1835.24 L947.36 1832.9 L950.39 1830.7 L953.32 1828.66 L956.25 1826.61 L959.18 1824.57 L962.11 1822.52 L965.03 1820.47 L967.96 1818.42 L970.89 1816.37 L973.82 1814.32 L976.75 1812.27 L979.67 1810.37 L982.6 1808.61 L985.53 1807 L988.46 1805.53 L991.39 1804 L994.32 1802.39 L997.24 1800.7 L1000.17 1798.95 L1003.1 1797.34 L1006.03 1795.87 L1008.96 1794.55 L1011.89 1793.38 L1014.81 1792.21 L1017.74 1791.04 L1020.67 1789.87 L1023.6 1788.7 L1026.53 1787.6 L1029.46 1786.57 L1032.38 1785.62 L1035.31 1784.74 L1038.24 1783.87 L1041.17 1782.99 L1044.1 1782.11 L1047.02 1781.23 L1049.95 1780.42 L1052.88 1779.69 L1055.81 1779.03 L1058.74 1778.45 L1061.67 1777.94 L1064.59 1777.5 L1067.52 1777.13 L1070.45 1776.84 L1073.38 1776.54 L1076.31 1776.25 L1079.24 1775.96 L1082.16 1775.67 L1084.98 1775.41 L1087.69 1775.19 L1090.29 1775.01 L1092.78 1774.86 L1094.65 1774.75 L1095.89 1774.68 L1096.51 1774.64" stroke="#E5C494"/>
<path d="M808.98 1982.55 L809.13 1977.42 L809.42 1967.17 L809.86 1951.8 L810.45 1931.3 L811.03 1913.73 L811.62 1899.09 L812.2 1887.38 L812.79 1878.59 L813.38 1870.69 L813.96 1863.66 L814.55 1857.51 L815.13 1852.24 L815.76 1847.41 L816.41 1843.02 L817.11 1839.06 L817.84 1835.55 L818.61 1832.25 L819.42 1829.18 L820.26 1826.33 L821.14 1823.69 L822.09 1821.27 L823.11 1819.08 L824.21 1817.1 L825.38 1815.34 L826.63 1813.81 L827.94 1812.49 L829.34 1811.39 L830.8 1810.51 L832.26 1809.67 L833.73 1808.87 L835.19 1808.1 L836.66 1807.36 L838.12 1806.67 L839.58 1806.01 L841.05 1805.39 L842.51 1804.8 L844.05 1804.25 L845.66 1803.74 L847.34 1803.27 L849.1 1802.83 L850.57 1802.42 L851.74 1802.06 L852.61 1801.73 L853.2 1801.43 L853.6 1800.63 L853.82 1799.31 L853.86 1797.48 L853.71 1795.14 L853.86 1792.94 L854.3 1790.89 L855.03 1788.99 L856.06 1787.23 L857.26 1785.66 L858.65 1784.27 L860.23 1783.06 L861.99 1782.04 L863.89 1781.16 L865.94 1780.42 L868.13 1779.84 L870.48 1779.4 L872.97 1779.01 L875.6 1778.67 L878.38 1778.39 L881.31 1778.16 L884.97 1777.89 L889.36 1777.6 L894.49 1777.28 L900.35 1776.93 L907.04 1776.59 L914.58 1776.27 L922.96 1775.97 L932.17 1775.69 L943.48 1775.45 L956.87 1775.26 L972.35 1775.12 L989.92 1775.02 L1008.12 1774.93 L1026.93 1774.86 L1046.37 1774.79 L1066.42 1774.73 L1081.47 1774.69 L1091.5 1774.66 L1096.51 1774.64" stroke="#FC8D62"/>
<path d="M808.98 1982.55 L809.02 1975.96 L809.09 1962.78 L809.2 1943.02 L809.35 1916.66 L809.53 1894.7 L809.75 1877.13 L810.01 1863.95 L810.3 1855.17 L810.63 1846.97 L811 1839.36 L811.4 1832.33 L811.84 1825.89 L812.28 1820.18 L812.72 1815.2 L813.16 1810.95 L813.6 1807.44 L814.11 1804.4 L814.69 1801.84 L815.35 1799.75 L816.08 1798.14 L816.96 1796.71 L817.99 1795.47 L819.16 1794.41 L820.48 1793.53 L822.12 1792.69 L824.1 1791.88 L826.41 1791.11 L829.04 1790.38 L832.12 1789.65 L835.63 1788.92 L839.58 1788.18 L843.98 1787.45 L848.73 1786.76 L853.86 1786.1 L859.35 1785.48 L865.21 1784.89 L871.06 1784.34 L876.92 1783.83 L882.78 1783.35 L888.63 1782.91 L894.49 1782.47 L900.35 1782.04 L906.2 1781.6 L912.06 1781.16 L918.02 1780.73 L924.1 1780.32 L930.28 1779.93 L936.57 1779.56 L943.48 1779.18 L951.02 1778.82 L959.18 1778.46 L967.96 1778.1 L976.75 1777.76 L985.53 1777.44 L994.32 1777.13 L1003.1 1776.84 L1011.89 1776.56 L1020.67 1776.3 L1029.46 1776.05 L1038.24 1775.81 L1047.65 1775.59 L1057.68 1775.37 L1068.33 1775.15 L1079.6 1774.95 L1088.06 1774.8 L1093.69 1774.69 L1096.51 1774.64" stroke="#999999"/>
<path d="M808.98 1982.55 L809.01 1975.96 L809.05 1962.78 L809.12 1943.02 L809.2 1916.66 L809.32 1894.7 L809.47 1877.13 L809.64 1863.95 L809.85 1855.17 L810.11 1847.41 L810.43 1840.67 L810.81 1834.96 L811.25 1830.28 L811.8 1826.11 L812.46 1822.45 L813.23 1819.3 L814.11 1816.66 L815.06 1814.32 L816.08 1812.27 L817.18 1810.51 L818.35 1809.05 L819.67 1807.66 L821.14 1806.34 L822.75 1805.1 L824.5 1803.92 L826.33 1802.83 L828.24 1801.8 L830.21 1800.85 L832.26 1799.97 L834.39 1799.2 L836.58 1798.54 L838.85 1797.99 L841.19 1797.55 L843.46 1797.08 L845.66 1796.57 L847.78 1796.02 L849.83 1795.43 L851.96 1794.85 L854.15 1794.26 L856.42 1793.67 L858.76 1793.09 L861.25 1792.58 L863.89 1792.14 L866.67 1791.77 L869.6 1791.48 L872.53 1791.19 L875.46 1790.89 L878.38 1790.6 L881.31 1790.31 L884.24 1790.05 L887.17 1789.83 L890.1 1789.65 L893.02 1789.5 L895.95 1789.28 L898.88 1788.99 L901.81 1788.62 L904.74 1788.18 L907.67 1787.78 L910.59 1787.42 L913.52 1787.09 L916.45 1786.79 L919.38 1786.5 L922.31 1786.21 L925.24 1785.92 L928.16 1785.62 L931.2 1785.36 L934.34 1785.14 L937.6 1784.95 L940.96 1784.79 L944.94 1784.53 L949.55 1784.16 L954.78 1783.69 L960.64 1783.12 L966.5 1782.58 L972.35 1782.07 L978.21 1781.6 L984.07 1781.16 L989.92 1780.75 L995.78 1780.39 L1001.64 1780.06 L1007.49 1779.77 L1013.35 1779.47 L1019.21 1779.18 L1025.06 1778.89 L1030.92 1778.59 L1036.78 1778.3 L1042.63 1778.01 L1048.49 1777.72 L1054.35 1777.42 L1060.2 1777.13 L1066.06 1776.84 L1071.92 1776.54 L1077.77 1776.25 L1082.79 1775.98 L1086.96 1775.73 L1090.29 1775.51 L1092.78 1775.3 L1094.65 1775.15 L1095.89 1775.04 L1096.51 1774.99" stroke="#FBCDE4"/>
</g>
<line x1="797.87" y1="1990.71" x2="1105.07" y2="1769.8" stroke="#000" stroke-width="4.1" stroke-dasharray="8.4 8.3" stroke-dashoffset="-0.8"/>
<text x="1109.05" y="1922.9" font-size="21.7" text-anchor="end" textLength="125.34" lengthAdjust="spacingAndGlyphs">CADD=0.997</text>
<text x="1109.05" y="1951.9" font-size="21.7" text-anchor="end" textLength="287.84" lengthAdjust="spacingAndGlyphs">NT−Multispecies (2.5B)=0.975</text>
<text x="1109.05" y="1980.9" font-size="21.7" text-anchor="end" textLength="192.84" lengthAdjust="spacingAndGlyphs">mamPhCons=0.964</text>
<rect x="794.4" y="1703.6" width="317.9" height="61" fill="#fff" stroke="#1a1a1a" stroke-width="1.3"/>
<rect x="794.4" y="1764.6" width="317.9" height="228.6" fill="none" stroke="#1a1a1a" stroke-width="1.3"/>
<text x="952.85" y="1745.7" font-size="27.8" text-anchor="middle" textLength="91.36" lengthAdjust="spacingAndGlyphs">ClinVar</text>
<line x1="808.85" y1="1993.2" x2="808.85" y2="2002.8" stroke="#1a1a1a" stroke-width="1.3"/>
<text x="808.85" y="2031.6" font-size="22.8" text-anchor="middle">0</text>
<line x1="881.1" y1="1993.2" x2="881.1" y2="2002.8" stroke="#1a1a1a" stroke-width="1.3"/>
<text x="881.1" y="2031.6" font-size="22.8" text-anchor="middle" textLength="47.14" lengthAdjust="spacingAndGlyphs">0.25</text>
<line x1="953.35" y1="1993.2" x2="953.35" y2="2002.8" stroke="#1a1a1a" stroke-width="1.3"/>
<text x="953.35" y="2031.6" font-size="22.8" text-anchor="middle" textLength="50.54" lengthAdjust="spacingAndGlyphs">0.50</text>
<line x1="1025.6" y1="1993.2" x2="1025.6" y2="2002.8" stroke="#1a1a1a" stroke-width="1.3"/>
<text x="1025.6" y="2031.6" font-size="22.8" text-anchor="middle" textLength="47.14" lengthAdjust="spacingAndGlyphs">0.75</text>
<line x1="1097.85" y1="1993.2" x2="1097.85" y2="2002.8" stroke="#1a1a1a" stroke-width="1.3"/>
<text x="1096.25" y="2031.6" font-size="22.8" text-anchor="middle" textLength="47.14" lengthAdjust="spacingAndGlyphs">1.00</text>
<rect x="1131.3" y="1764.6" width="317.9" height="228.6" fill="#fff"/>
<g fill="none" stroke-width="3.3" stroke-linejoin="round" stroke-linecap="butt">
<path d="M1145.98 1982.55 L1146.2 1979.99 L1146.64 1974.86 L1147.3 1967.17 L1148.18 1956.93 L1149.06 1947.77 L1149.94 1939.72 L1150.82 1932.77 L1151.69 1926.91 L1152.61 1921.42 L1153.56 1916.3 L1154.55 1911.54 L1155.57 1907.14 L1156.71 1902.83 L1157.95 1898.58 L1159.31 1894.41 L1160.77 1890.31 L1162.24 1886.5 L1163.7 1882.99 L1165.16 1879.77 L1166.63 1876.84 L1168.17 1873.98 L1169.78 1871.2 L1171.46 1868.49 L1173.22 1865.86 L1174.9 1863.37 L1176.51 1861.02 L1178.05 1858.83 L1179.51 1856.78 L1180.98 1854.73 L1182.44 1852.68 L1183.9 1850.63 L1185.37 1848.58 L1186.91 1846.46 L1188.52 1844.26 L1190.2 1841.99 L1191.96 1839.65 L1193.71 1837.45 L1195.47 1835.4 L1197.23 1833.5 L1198.99 1831.74 L1200.89 1829.99 L1202.94 1828.23 L1205.13 1826.47 L1207.48 1824.71 L1209.97 1822.88 L1212.6 1820.98 L1215.38 1819 L1218.31 1816.95 L1221.24 1815.05 L1224.17 1813.29 L1227.1 1811.68 L1230.02 1810.22 L1232.95 1808.79 L1235.88 1807.4 L1238.81 1806.05 L1241.74 1804.73 L1244.67 1803.45 L1247.59 1802.2 L1250.52 1801 L1253.45 1799.82 L1256.38 1798.69 L1259.31 1797.59 L1262.24 1796.53 L1265.16 1795.51 L1268.2 1794.53 L1271.34 1793.6 L1274.6 1792.73 L1277.96 1791.9 L1281.21 1791.12 L1284.36 1790.39 L1287.39 1789.71 L1290.32 1789.07 L1293.25 1788.39 L1296.18 1787.68 L1299.11 1786.93 L1302.03 1786.13 L1304.96 1785.4 L1307.89 1784.71 L1310.82 1784.07 L1313.75 1783.48 L1316.67 1782.92 L1319.6 1782.38 L1322.53 1781.86 L1325.46 1781.36 L1329.12 1780.83 L1333.51 1780.28 L1338.64 1779.69 L1344.49 1779.08 L1350.35 1778.51 L1356.21 1777.98 L1362.06 1777.5 L1367.92 1777.06 L1375.86 1776.62 L1385.89 1776.18 L1398.01 1775.74 L1412.21 1775.3 L1422.86 1774.97 L1429.96 1774.75 L1433.51 1774.64" stroke="#A3C5D6"/>
<path d="M1145.98 1982.55 L1146.24 1980.35 L1146.75 1975.96 L1147.52 1969.37 L1148.55 1960.59 L1149.53 1952.68 L1150.49 1945.65 L1151.4 1939.5 L1152.28 1934.23 L1153.23 1929.11 L1154.26 1924.13 L1155.35 1919.3 L1156.53 1914.61 L1157.77 1910.07 L1159.09 1905.68 L1160.48 1901.43 L1161.94 1897.34 L1163.41 1893.46 L1164.87 1889.8 L1166.34 1886.35 L1167.8 1883.13 L1169.26 1880.13 L1170.73 1877.35 L1172.19 1874.79 L1173.66 1872.45 L1175.12 1870.18 L1176.58 1867.98 L1178.05 1865.86 L1179.51 1863.81 L1180.98 1861.76 L1182.44 1859.71 L1183.9 1857.66 L1185.37 1855.61 L1186.91 1853.56 L1188.52 1851.51 L1190.2 1849.46 L1191.96 1847.41 L1193.71 1845.43 L1195.47 1843.53 L1197.23 1841.7 L1198.99 1839.94 L1200.89 1838.11 L1202.94 1836.21 L1205.13 1834.23 L1207.48 1832.18 L1209.97 1830.13 L1212.6 1828.08 L1215.38 1826.03 L1218.31 1823.98 L1221.24 1821.93 L1224.17 1819.88 L1227.1 1817.83 L1230.02 1815.78 L1232.95 1813.88 L1235.88 1812.12 L1238.81 1810.51 L1241.74 1809.05 L1244.67 1807.62 L1247.59 1806.23 L1250.52 1804.88 L1253.45 1803.56 L1256.38 1802.28 L1259.31 1801.03 L1262.24 1799.82 L1265.16 1798.65 L1268.2 1797.5 L1271.34 1796.36 L1274.6 1795.25 L1277.96 1794.14 L1281.21 1793.12 L1284.36 1792.17 L1287.39 1791.29 L1290.32 1790.49 L1293.25 1789.67 L1296.18 1788.82 L1299.11 1787.96 L1302.03 1787.09 L1304.96 1786.27 L1307.89 1785.51 L1310.82 1784.8 L1313.75 1784.16 L1316.67 1783.54 L1319.6 1782.96 L1322.53 1782.4 L1325.46 1781.87 L1329.12 1781.32 L1333.51 1780.73 L1338.64 1780.12 L1344.49 1779.47 L1350.35 1778.87 L1356.21 1778.32 L1362.06 1777.8 L1367.92 1777.34 L1375.86 1776.86 L1385.89 1776.38 L1398.01 1775.89 L1412.21 1775.39 L1422.86 1775.01 L1429.96 1774.77 L1433.51 1774.64" stroke="#9E70A9"/>
<path d="M1145.98 1982.55 L1146.17 1979.62 L1146.53 1973.76 L1147.08 1964.98 L1147.81 1953.27 L1148.55 1942.65 L1149.28 1933.13 L1150.01 1924.71 L1150.74 1917.39 L1151.55 1910.51 L1152.43 1904.07 L1153.38 1898.07 L1154.4 1892.5 L1155.46 1887.31 L1156.56 1882.47 L1157.7 1878.01 L1158.87 1873.91 L1160.11 1869.96 L1161.43 1866.15 L1162.82 1862.49 L1164.29 1858.98 L1165.75 1855.75 L1167.21 1852.83 L1168.68 1850.19 L1170.14 1847.85 L1171.61 1845.58 L1173.07 1843.38 L1174.53 1841.26 L1176 1839.21 L1177.54 1837.16 L1179.15 1835.11 L1180.83 1833.06 L1182.59 1831.01 L1184.34 1829.11 L1186.1 1827.35 L1187.86 1825.74 L1189.61 1824.28 L1191.37 1822.81 L1193.13 1821.35 L1194.89 1819.88 L1196.64 1818.42 L1198.69 1816.88 L1201.04 1815.27 L1203.67 1813.59 L1206.6 1811.83 L1209.53 1810.15 L1212.46 1808.54 L1215.38 1807 L1218.31 1805.53 L1221.24 1804.14 L1224.17 1802.83 L1227.1 1801.58 L1230.02 1800.41 L1232.95 1799.31 L1235.88 1798.29 L1238.81 1797.34 L1241.74 1796.46 L1244.67 1795.61 L1247.59 1794.81 L1250.52 1794.04 L1253.45 1793.31 L1256.38 1792.58 L1259.31 1791.84 L1262.24 1791.11 L1265.16 1790.38 L1268.2 1789.71 L1271.34 1789.1 L1274.6 1788.56 L1277.96 1788.08 L1281.21 1787.58 L1284.36 1787.07 L1287.39 1786.54 L1290.32 1786 L1293.25 1785.44 L1296.18 1784.88 L1299.11 1784.3 L1302.03 1783.72 L1304.96 1783.17 L1307.89 1782.66 L1310.82 1782.18 L1313.75 1781.74 L1316.67 1781.33 L1319.6 1780.93 L1322.53 1780.56 L1325.46 1780.2 L1329.12 1779.81 L1333.51 1779.37 L1338.64 1778.89 L1344.49 1778.36 L1350.35 1777.88 L1356.21 1777.44 L1362.06 1777.04 L1367.92 1776.69 L1375.86 1776.33 L1385.89 1775.97 L1398.01 1775.59 L1412.21 1775.21 L1422.86 1774.93 L1429.96 1774.74 L1433.51 1774.64" stroke="#5F4C80"/>
<path d="M1145.98 1982.55 L1146.09 1978.89 L1146.31 1971.57 L1146.64 1960.59 L1147.08 1945.94 L1147.56 1933.13 L1148.07 1922.15 L1148.62 1913 L1149.2 1905.68 L1149.86 1898.73 L1150.6 1892.14 L1151.4 1885.92 L1152.28 1880.06 L1153.23 1874.57 L1154.26 1869.44 L1155.35 1864.69 L1156.53 1860.29 L1157.77 1856.05 L1159.09 1851.95 L1160.48 1847.99 L1161.94 1844.19 L1163.41 1840.75 L1164.87 1837.67 L1166.34 1834.96 L1167.8 1832.62 L1169.26 1830.35 L1170.73 1828.16 L1172.19 1826.03 L1173.66 1823.98 L1175.12 1822.08 L1176.58 1820.32 L1178.05 1818.71 L1179.51 1817.25 L1181.12 1815.78 L1182.88 1814.32 L1184.78 1812.86 L1186.83 1811.39 L1188.96 1809.93 L1191.15 1808.46 L1193.42 1807 L1195.76 1805.53 L1198.25 1804.11 L1200.89 1802.72 L1203.67 1801.36 L1206.6 1800.04 L1209.53 1798.8 L1212.46 1797.63 L1215.38 1796.53 L1218.31 1795.51 L1221.24 1794.53 L1224.17 1793.61 L1227.1 1792.74 L1230.02 1791.92 L1232.95 1791.14 L1235.88 1790.41 L1238.81 1789.72 L1241.74 1789.08 L1244.67 1788.43 L1247.59 1787.79 L1250.52 1787.14 L1253.45 1786.5 L1256.38 1785.87 L1259.31 1785.26 L1262.24 1784.66 L1265.16 1784.07 L1268.2 1783.53 L1271.34 1783.05 L1274.6 1782.61 L1277.96 1782.23 L1281.94 1781.79 L1286.55 1781.31 L1291.78 1780.78 L1297.64 1780.2 L1303.5 1779.64 L1309.35 1779.1 L1315.21 1778.58 L1321.07 1778.08 L1326.92 1777.64 L1332.78 1777.24 L1338.64 1776.9 L1344.49 1776.6 L1350.35 1776.34 L1356.21 1776.11 L1362.06 1775.9 L1367.92 1775.72 L1375.86 1775.54 L1385.89 1775.35 L1398.01 1775.15 L1412.21 1774.95 L1422.86 1774.8 L1429.96 1774.69 L1433.51 1774.64" stroke="#3F396B"/>
<path d="M1145.98 1982.55 L1146.01 1978.16 L1146.05 1969.37 L1146.12 1956.19 L1146.2 1938.62 L1146.32 1923.98 L1146.47 1912.27 L1146.64 1903.48 L1146.85 1897.63 L1147.11 1892.14 L1147.43 1887.01 L1147.81 1882.25 L1148.25 1877.86 L1148.8 1873.84 L1149.46 1870.18 L1150.23 1866.88 L1151.11 1863.95 L1152.06 1861.32 L1153.08 1858.98 L1154.18 1856.93 L1155.35 1855.17 L1156.67 1853.34 L1158.14 1851.43 L1159.75 1849.46 L1161.5 1847.41 L1163.19 1845.65 L1164.8 1844.19 L1166.34 1843.02 L1167.8 1842.14 L1169.26 1841.26 L1170.73 1840.38 L1172.19 1839.5 L1173.66 1838.62 L1175.12 1837.78 L1176.58 1836.98 L1178.05 1836.21 L1179.51 1835.48 L1180.98 1834.74 L1182.44 1834.01 L1183.9 1833.28 L1185.37 1832.55 L1187.2 1831.78 L1189.4 1830.97 L1191.96 1830.13 L1194.89 1829.25 L1197.81 1828.37 L1200.74 1827.5 L1203.67 1826.62 L1206.6 1825.74 L1209.53 1824.86 L1212.46 1823.98 L1215.38 1823.1 L1218.31 1822.23 L1221.24 1821.38 L1224.17 1820.58 L1227.1 1819.81 L1230.02 1819.08 L1232.95 1818.38 L1235.88 1817.72 L1238.81 1817.1 L1241.74 1816.52 L1244.67 1816 L1247.59 1815.56 L1250.52 1815.2 L1253.45 1814.9 L1256.38 1814.54 L1259.31 1814.1 L1262.24 1813.59 L1265.16 1813 L1268.2 1812.44 L1271.34 1811.91 L1274.6 1811.4 L1277.96 1810.92 L1281.21 1810.46 L1284.36 1810.02 L1287.39 1809.6 L1290.32 1809.2 L1293.25 1808.76 L1296.18 1808.27 L1299.11 1807.73 L1302.03 1807.14 L1304.96 1806.56 L1307.89 1805.97 L1310.82 1805.39 L1313.75 1804.8 L1316.67 1804.22 L1319.6 1803.63 L1322.53 1803.05 L1325.46 1802.46 L1328.39 1801.91 L1331.32 1801.4 L1334.24 1800.92 L1337.17 1800.48 L1340.1 1800.04 L1343.03 1799.6 L1345.96 1799.17 L1348.89 1798.73 L1351.81 1798.25 L1354.74 1797.74 L1357.67 1797.19 L1360.6 1796.6 L1363.53 1796.02 L1366.46 1795.43 L1369.38 1794.85 L1372.31 1794.26 L1375.24 1793.67 L1378.17 1793.09 L1381.1 1792.5 L1384.02 1791.92 L1386.95 1791.3 L1389.88 1790.64 L1392.81 1789.94 L1395.74 1789.21 L1398.67 1788.48 L1401.59 1787.75 L1404.52 1787.01 L1407.45 1786.28 L1410.38 1785.55 L1413.31 1784.82 L1416.24 1784.08 L1419.16 1783.35 L1421.98 1782.58 L1424.69 1781.78 L1427.29 1780.94 L1429.78 1780.06 L1431.73 1779.25 L1433.15 1778.52 L1434.04 1777.86 L1434.39 1777.28 L1434.65 1776.84 L1434.83 1776.54 L1434.92 1776.4" stroke="#A6D854"/>
<path d="M1145.98 1982.55 L1146.24 1981.82 L1146.75 1980.35 L1147.52 1978.16 L1148.55 1975.23 L1149.61 1972.45 L1150.71 1969.81 L1151.84 1967.32 L1153.01 1964.98 L1154.18 1962.71 L1155.35 1960.51 L1156.53 1958.39 L1157.7 1956.34 L1158.87 1954.36 L1160.04 1952.46 L1161.21 1950.63 L1162.38 1948.87 L1163.63 1946.97 L1164.94 1944.92 L1166.34 1942.72 L1167.8 1940.38 L1169.26 1938.18 L1170.73 1936.13 L1172.19 1934.23 L1173.66 1932.47 L1175.12 1930.79 L1176.58 1929.18 L1178.05 1927.64 L1179.51 1926.18 L1180.98 1924.57 L1182.44 1922.81 L1183.9 1920.91 L1185.37 1918.86 L1186.91 1916.73 L1188.52 1914.54 L1190.2 1912.27 L1191.96 1909.93 L1193.71 1907.73 L1195.47 1905.68 L1197.23 1903.78 L1198.99 1902.02 L1200.89 1900.12 L1202.94 1898.07 L1205.13 1895.87 L1207.48 1893.53 L1209.6 1891.41 L1211.5 1889.5 L1213.19 1887.82 L1214.65 1886.35 L1216.12 1884.89 L1217.58 1883.43 L1219.04 1881.96 L1220.51 1880.5 L1221.97 1879.03 L1223.44 1877.57 L1224.9 1876.11 L1226.36 1874.64 L1227.83 1873.1 L1229.29 1871.49 L1230.76 1869.81 L1232.22 1868.05 L1233.69 1866.37 L1235.15 1864.76 L1236.61 1863.22 L1238.08 1861.76 L1239.54 1860.29 L1241.01 1858.83 L1242.47 1857.36 L1243.93 1855.9 L1245.76 1854.22 L1247.96 1852.31 L1250.52 1850.19 L1253.45 1847.85 L1256.38 1845.58 L1259.31 1843.38 L1262.24 1841.26 L1265.16 1839.21 L1268.2 1837.09 L1271.34 1834.89 L1274.6 1832.61 L1277.96 1830.27 L1281.21 1827.99 L1284.36 1825.8 L1287.39 1823.68 L1290.32 1821.63 L1293.25 1819.59 L1296.18 1817.54 L1299.11 1815.49 L1302.03 1813.44 L1304.96 1811.46 L1307.89 1809.56 L1310.82 1807.73 L1313.75 1805.97 L1316.67 1804.29 L1319.6 1802.68 L1322.53 1801.14 L1325.46 1799.68 L1328.39 1798.25 L1331.32 1796.86 L1334.24 1795.51 L1337.17 1794.19 L1340.1 1792.94 L1343.03 1791.77 L1345.96 1790.67 L1348.89 1789.65 L1351.81 1788.66 L1354.74 1787.71 L1357.67 1786.79 L1360.6 1785.92 L1363.53 1785.07 L1366.46 1784.27 L1369.38 1783.5 L1372.31 1782.77 L1375.24 1782.07 L1378.17 1781.41 L1381.1 1780.79 L1384.02 1780.2 L1386.95 1779.66 L1389.88 1779.14 L1392.81 1778.67 L1395.74 1778.23 L1398.67 1777.83 L1401.59 1777.46 L1404.52 1777.13 L1407.45 1776.84 L1410.38 1776.54 L1413.31 1776.25 L1416.24 1775.96 L1419.16 1775.67 L1421.98 1775.41 L1424.69 1775.19 L1427.29 1775.01 L1429.78 1774.86 L1431.65 1774.75 L1432.89 1774.68 L1433.51 1774.64" stroke="#E5C494"/>
<path d="M1145.98 1982.55 L1146.13 1979.25 L1146.42 1972.66 L1146.86 1962.78 L1147.45 1949.6 L1148.03 1937.89 L1148.62 1927.64 L1149.2 1918.86 L1149.79 1911.54 L1150.45 1904.58 L1151.18 1897.99 L1151.99 1891.77 L1152.87 1885.92 L1153.78 1880.5 L1154.73 1875.52 L1155.72 1870.98 L1156.75 1866.88 L1157.73 1863.07 L1158.69 1859.56 L1159.6 1856.34 L1160.48 1853.41 L1161.43 1850.56 L1162.46 1847.77 L1163.55 1845.07 L1164.72 1842.43 L1165.97 1839.94 L1167.29 1837.6 L1168.68 1835.4 L1170.14 1833.35 L1171.61 1831.38 L1173.07 1829.47 L1174.53 1827.64 L1176 1825.89 L1177.54 1824.2 L1179.15 1822.59 L1180.83 1821.05 L1182.59 1819.59 L1184.34 1818.27 L1186.1 1817.1 L1187.86 1816.08 L1189.61 1815.2 L1191.37 1814.1 L1193.13 1812.78 L1194.89 1811.24 L1196.64 1809.49 L1198.69 1807.77 L1201.04 1806.08 L1203.67 1804.44 L1206.6 1802.83 L1209.53 1801.33 L1212.46 1799.93 L1215.38 1798.65 L1218.31 1797.48 L1221.24 1796.36 L1224.17 1795.29 L1227.1 1794.28 L1230.02 1793.31 L1232.95 1792.42 L1235.88 1791.62 L1238.81 1790.89 L1241.74 1790.25 L1244.67 1789.6 L1247.59 1788.96 L1250.52 1788.32 L1253.45 1787.67 L1256.38 1787.04 L1259.31 1786.43 L1262.24 1785.83 L1265.16 1785.24 L1268.2 1784.71 L1271.34 1784.22 L1274.6 1783.78 L1277.96 1783.4 L1281.94 1782.99 L1286.55 1782.55 L1291.78 1782.08 L1297.64 1781.59 L1303.5 1781.07 L1309.35 1780.53 L1315.21 1779.97 L1321.07 1779.39 L1326.92 1778.85 L1332.78 1778.37 L1338.64 1777.94 L1344.49 1777.55 L1350.35 1777.22 L1356.21 1776.93 L1362.06 1776.68 L1367.92 1776.47 L1373.78 1776.27 L1379.63 1776.08 L1385.49 1775.9 L1391.35 1775.72 L1397.82 1775.54 L1404.93 1775.35 L1412.65 1775.15 L1420.99 1774.95 L1427.25 1774.8 L1431.43 1774.69 L1433.51 1774.64" stroke="#FC8D62"/>
<path d="M1145.98 1982.55 L1146.09 1978.89 L1146.31 1971.57 L1146.64 1960.59 L1147.08 1945.94 L1147.56 1933.13 L1148.07 1922.15 L1148.62 1913 L1149.2 1905.68 L1149.79 1899.24 L1150.38 1893.67 L1150.96 1888.99 L1151.55 1885.18 L1152.21 1881.67 L1152.94 1878.45 L1153.74 1875.52 L1154.62 1872.88 L1155.57 1870.61 L1156.6 1868.71 L1157.7 1867.17 L1158.87 1866 L1160.11 1864.9 L1161.43 1863.88 L1162.82 1862.93 L1164.29 1862.05 L1165.97 1861.1 L1167.87 1860.07 L1170 1858.98 L1172.34 1857.8 L1174.83 1856.6 L1177.46 1855.35 L1180.24 1854.07 L1183.17 1852.75 L1186.1 1851.51 L1189.03 1850.34 L1191.96 1849.24 L1194.89 1848.21 L1197.81 1847.23 L1200.74 1846.27 L1203.67 1845.36 L1206.6 1844.48 L1209.53 1843.6 L1212.46 1842.72 L1215.38 1841.84 L1218.31 1840.97 L1221.24 1840.09 L1224.17 1839.21 L1227.1 1838.33 L1230.02 1837.45 L1232.95 1836.57 L1235.88 1835.7 L1238.81 1834.82 L1241.74 1833.94 L1244.67 1833.1 L1247.59 1832.29 L1250.52 1831.52 L1253.45 1830.79 L1256.38 1830.06 L1259.31 1829.33 L1262.24 1828.59 L1265.16 1827.86 L1268.2 1827.14 L1271.34 1826.41 L1274.6 1825.69 L1277.96 1824.98 L1281.21 1824.3 L1284.36 1823.64 L1287.39 1823.01 L1290.32 1822.4 L1293.25 1821.69 L1296.18 1820.88 L1299.11 1819.96 L1302.03 1818.93 L1304.96 1817.87 L1307.89 1816.77 L1310.82 1815.64 L1313.75 1814.47 L1316.67 1813.29 L1319.6 1812.12 L1322.53 1810.95 L1325.46 1809.78 L1328.39 1808.65 L1331.32 1807.55 L1334.24 1806.49 L1337.17 1805.46 L1340.1 1804.44 L1343.03 1803.41 L1345.96 1802.39 L1348.89 1801.36 L1351.81 1800.37 L1354.74 1799.42 L1357.67 1798.51 L1360.6 1797.63 L1363.53 1796.71 L1366.46 1795.76 L1369.38 1794.77 L1372.31 1793.75 L1375.24 1792.76 L1378.17 1791.81 L1381.1 1790.89 L1384.02 1790.01 L1386.95 1789.1 L1389.88 1788.15 L1392.81 1787.16 L1395.74 1786.13 L1398.67 1785.15 L1401.59 1784.19 L1404.52 1783.28 L1407.45 1782.4 L1410.38 1781.52 L1413.31 1780.64 L1416.24 1779.77 L1419.16 1778.89 L1421.98 1778.05 L1424.69 1777.24 L1427.29 1776.47 L1429.78 1775.74 L1431.65 1775.19 L1432.89 1774.82 L1433.51 1774.64" stroke="#999999"/>
<path d="M1145.98 1982.55 L1146.06 1979.62 L1146.2 1973.76 L1146.42 1964.98 L1146.72 1953.27 L1147.05 1943.02 L1147.41 1934.23 L1147.81 1926.91 L1148.25 1921.05 L1148.73 1915.78 L1149.24 1911.1 L1149.79 1907 L1150.38 1903.48 L1151.04 1900.19 L1151.77 1897.12 L1152.57 1894.26 L1153.45 1891.63 L1154.4 1889.21 L1155.43 1887.01 L1156.53 1885.04 L1157.7 1883.28 L1158.87 1881.6 L1160.04 1879.99 L1161.21 1878.45 L1162.38 1876.98 L1163.63 1875.52 L1164.94 1874.06 L1166.34 1872.59 L1167.8 1871.13 L1169.26 1869.81 L1170.73 1868.64 L1172.19 1867.61 L1173.66 1866.73 L1175.12 1865.93 L1176.58 1865.2 L1178.05 1864.54 L1179.51 1863.95 L1180.98 1863.29 L1182.44 1862.56 L1183.9 1861.76 L1185.37 1860.88 L1186.91 1860 L1188.52 1859.12 L1190.2 1858.24 L1191.96 1857.36 L1193.71 1856.49 L1195.47 1855.61 L1197.23 1854.73 L1198.99 1853.85 L1200.89 1853.05 L1202.94 1852.31 L1205.13 1851.65 L1207.48 1851.07 L1209.97 1850.48 L1212.6 1849.9 L1215.38 1849.31 L1218.31 1848.73 L1221.24 1848.14 L1224.17 1847.55 L1227.1 1846.97 L1230.02 1846.38 L1232.95 1845.72 L1235.88 1844.99 L1238.81 1844.19 L1241.74 1843.31 L1244.67 1842.39 L1247.59 1841.44 L1250.52 1840.45 L1253.45 1839.43 L1256.38 1838.48 L1259.31 1837.6 L1262.24 1836.79 L1265.16 1836.06 L1268.2 1835.2 L1271.34 1834.2 L1274.6 1833.08 L1277.96 1831.82 L1280.77 1830.9 L1283.04 1830.31 L1284.76 1830.06 L1285.93 1830.15 L1287.25 1829.96 L1288.71 1829.49 L1290.32 1828.74 L1292.08 1827.72 L1294.13 1826.69 L1296.47 1825.67 L1299.11 1824.64 L1302.03 1823.62 L1304.96 1822.55 L1307.89 1821.46 L1310.82 1820.32 L1313.75 1819.15 L1316.67 1817.98 L1319.6 1816.81 L1322.53 1815.64 L1325.46 1814.47 L1328.39 1813.29 L1331.32 1812.12 L1334.24 1810.95 L1337.17 1809.78 L1340.1 1808.65 L1343.03 1807.55 L1345.96 1806.49 L1348.89 1805.46 L1351.81 1804.44 L1354.74 1803.41 L1357.67 1802.39 L1360.6 1801.36 L1363.53 1800.37 L1366.46 1799.42 L1369.38 1798.51 L1372.31 1797.63 L1375.24 1796.82 L1378.17 1796.09 L1381.1 1795.43 L1384.02 1794.85 L1386.95 1794.15 L1389.88 1793.35 L1392.81 1792.43 L1395.74 1791.41 L1398.67 1790.42 L1401.59 1789.47 L1404.52 1788.55 L1407.45 1787.67 L1410.38 1786.79 L1413.31 1785.92 L1416.24 1785.04 L1419.16 1784.16 L1421.98 1783.17 L1424.69 1782.07 L1427.29 1780.86 L1429.78 1779.55 L1431.65 1778.56 L1432.89 1777.9 L1433.51 1777.57" stroke="#FBCDE4"/>
</g>
<line x1="1134.77" y1="1990.71" x2="1441.97" y2="1769.8" stroke="#000" stroke-width="4.1" stroke-dasharray="8.4 8.3" stroke-dashoffset="-0.8"/>
<text x="1441.35" y="1922.9" font-size="21.7" text-anchor="end" textLength="286.34" lengthAdjust="spacingAndGlyphs">NT−Multispecies (2.5B)=0.913</text>
<text x="1441.35" y="1951.9" font-size="21.7" text-anchor="end" textLength="122.34" lengthAdjust="spacingAndGlyphs">GERP=0.905</text>
<text x="1441.35" y="1980.9" font-size="21.7" text-anchor="end" textLength="234.34" lengthAdjust="spacingAndGlyphs">NT−1000G (2.5B)=0.888</text>
<rect x="1131.3" y="1703.6" width="317.9" height="61" fill="#fff" stroke="#1a1a1a" stroke-width="1.3"/>
<rect x="1131.3" y="1764.6" width="317.9" height="228.6" fill="none" stroke="#1a1a1a" stroke-width="1.3"/>
<text x="1289.75" y="1745.7" font-size="27.8" text-anchor="middle" textLength="82.86" lengthAdjust="spacingAndGlyphs">HGMD</text>
<line x1="1145.75" y1="1993.2" x2="1145.75" y2="2002.8" stroke="#1a1a1a" stroke-width="1.3"/>
<text x="1145.75" y="2031.6" font-size="22.8" text-anchor="middle">0</text>
<line x1="1218" y1="1993.2" x2="1218" y2="2002.8" stroke="#1a1a1a" stroke-width="1.3"/>
<text x="1218" y="2031.6" font-size="22.8" text-anchor="middle" textLength="47.14" lengthAdjust="spacingAndGlyphs">0.25</text>
<line x1="1290.25" y1="1993.2" x2="1290.25" y2="2002.8" stroke="#1a1a1a" stroke-width="1.3"/>
<text x="1290.25" y="2031.6" font-size="22.8" text-anchor="middle" textLength="50.54" lengthAdjust="spacingAndGlyphs">0.50</text>
<line x1="1362.5" y1="1993.2" x2="1362.5" y2="2002.8" stroke="#1a1a1a" stroke-width="1.3"/>
<text x="1362.5" y="2031.6" font-size="22.8" text-anchor="middle" textLength="47.14" lengthAdjust="spacingAndGlyphs">0.75</text>
<line x1="1434.75" y1="1993.2" x2="1434.75" y2="2002.8" stroke="#1a1a1a" stroke-width="1.3"/>
<text x="1433.15" y="2031.6" font-size="22.8" text-anchor="middle" textLength="47.14" lengthAdjust="spacingAndGlyphs">1.00</text>
<line x1="110.9" y1="1982.81" x2="120.6" y2="1982.81" stroke="#1a1a1a" stroke-width="1.3"/>
<text x="98.3" y="1990.41" font-size="22.8" text-anchor="end">0</text>
<line x1="110.9" y1="1930.85" x2="120.6" y2="1930.85" stroke="#1a1a1a" stroke-width="1.3"/>
<text x="98.98" y="1938.45" font-size="22.8" text-anchor="end" textLength="47.14" lengthAdjust="spacingAndGlyphs">0.25</text>
<line x1="110.9" y1="1878.9" x2="120.6" y2="1878.9" stroke="#1a1a1a" stroke-width="1.3"/>
<text x="98.98" y="1886.5" font-size="22.8" text-anchor="end" textLength="50.54" lengthAdjust="spacingAndGlyphs">0.50</text>
<line x1="110.9" y1="1826.95" x2="120.6" y2="1826.95" stroke="#1a1a1a" stroke-width="1.3"/>
<text x="98.98" y="1834.55" font-size="22.8" text-anchor="end" textLength="47.14" lengthAdjust="spacingAndGlyphs">0.75</text>
<line x1="110.9" y1="1774.99" x2="120.6" y2="1774.99" stroke="#1a1a1a" stroke-width="1.3"/>
<text x="98.98" y="1782.59" font-size="22.8" text-anchor="end" textLength="47.14" lengthAdjust="spacingAndGlyphs">1.00</text>
<text x="21.6" y="1874.6" font-size="28" text-anchor="middle" textLength="130.38" lengthAdjust="spacingAndGlyphs" transform="rotate(-90 21.6 1874.6)">Sensitivity</text>
<text x="791" y="2075.5" font-size="28" text-anchor="middle" textLength="134.38" lengthAdjust="spacingAndGlyphs">Specificity</text>
<text x="1497.37" y="1751.6" font-size="27.8" textLength="88.66" lengthAdjust="spacingAndGlyphs">Scores</text>
<line x1="1499.3" y1="1777" x2="1523.2" y2="1777" stroke="#A3C5D6" stroke-width="3.2"/>
<text x="1532.17" y="1787.2" font-size="27.8" textLength="282.86" lengthAdjust="spacingAndGlyphs">NT−HumanRef (500M)</text>
<line x1="1499.3" y1="1804.35" x2="1523.2" y2="1804.35" stroke="#9E70A9" stroke-width="3.2"/>
<text x="1532.17" y="1814.55" font-size="27.8" textLength="236.86" lengthAdjust="spacingAndGlyphs">NT−1000G (500M)</text>
<line x1="1499.3" y1="1831.7" x2="1523.2" y2="1831.7" stroke="#5F4C80" stroke-width="3.2"/>
<text x="1532.17" y="1841.9" font-size="27.8" textLength="215.86" lengthAdjust="spacingAndGlyphs">NT−1000G (2.5B)</text>
<line x1="1499.3" y1="1859.05" x2="1523.2" y2="1859.05" stroke="#3F396B" stroke-width="3.2"/>
<text x="1532.17" y="1869.25" font-size="27.8" textLength="288.86" lengthAdjust="spacingAndGlyphs">NT−Multispecies (2.5B)</text>
<line x1="1499.3" y1="1886.4" x2="1523.2" y2="1886.4" stroke="#A6D854" stroke-width="3.2"/>
<text x="1532.17" y="1896.6" font-size="27.8" textLength="75.36" lengthAdjust="spacingAndGlyphs">CADD</text>
<line x1="1499.3" y1="1913.75" x2="1523.2" y2="1913.75" stroke="#E5C494" stroke-width="3.2"/>
<text x="1532.17" y="1923.95" font-size="27.8" textLength="116.86" lengthAdjust="spacingAndGlyphs">DeepSEA</text>
<line x1="1499.3" y1="1941.1" x2="1523.2" y2="1941.1" stroke="#FC8D62" stroke-width="3.2"/>
<text x="1532.17" y="1951.3" font-size="27.8" textLength="68.86" lengthAdjust="spacingAndGlyphs">GERP</text>
<line x1="1499.3" y1="1968.45" x2="1523.2" y2="1968.45" stroke="#999999" stroke-width="3.2"/>
<text x="1532.17" y="1978.65" font-size="27.8" textLength="161.36" lengthAdjust="spacingAndGlyphs">mamPhCons</text>
<line x1="1499.3" y1="1995.8" x2="1523.2" y2="1995.8" stroke="#FBCDE4" stroke-width="3.2"/>
<text x="1532.17" y="2006" font-size="27.8" textLength="150.36" lengthAdjust="spacingAndGlyphs">mamPhyloP</text>
</g>
</svg>
</body>
</html>
